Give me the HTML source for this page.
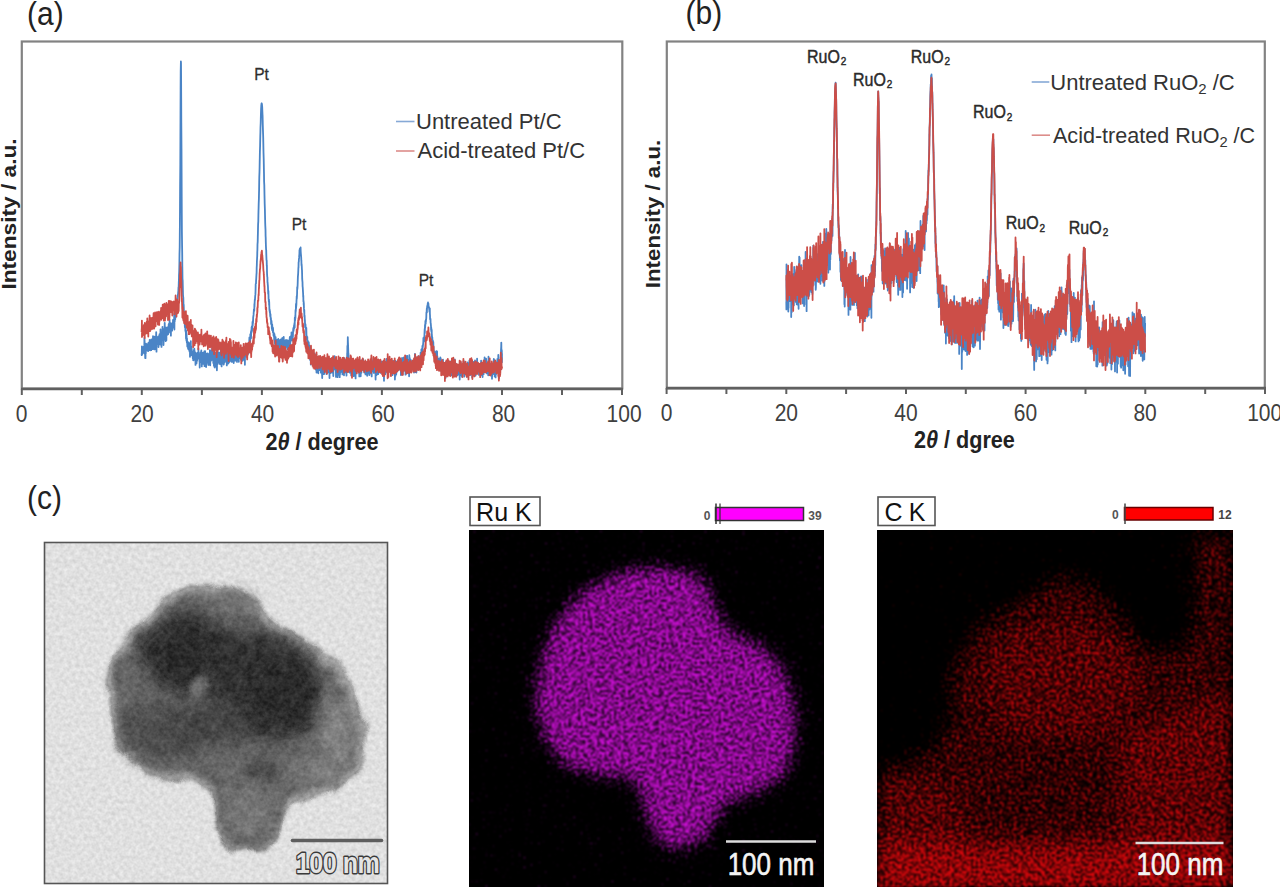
<!DOCTYPE html>
<html><head><meta charset="utf-8"><title>Figure</title>
<style>
html,body{margin:0;padding:0;background:#fff;width:1280px;height:887px;overflow:hidden}
svg{display:block}
text{font-family:"Liberation Sans",sans-serif}
</style></head><body>
<svg width="1280" height="887" viewBox="0 0 1280 887">
<defs>
  <filter id="soft" x="-5%" y="-5%" width="110%" height="110%"><feGaussianBlur stdDeviation="0.45"/></filter>
  <clipPath id="temclip"><rect x="44" y="542" width="344" height="342"/></clipPath>
  <filter id="b2" x="-20%" y="-20%" width="140%" height="140%"><feGaussianBlur stdDeviation="2"/></filter>
  <filter id="b4" x="-20%" y="-20%" width="140%" height="140%"><feGaussianBlur stdDeviation="4"/></filter>
  <filter id="b8" x="-40%" y="-40%" width="180%" height="180%"><feGaussianBlur stdDeviation="8"/></filter>
  <filter id="tdisp" filterUnits="userSpaceOnUse" x="44" y="542" width="344" height="342" color-interpolation-filters="sRGB">
    <feTurbulence type="fractalNoise" baseFrequency="0.035" numOctaves="3" seed="4" result="dn"/>
    <feDisplacementMap in="SourceGraphic" in2="dn" scale="11" xChannelSelector="R" yChannelSelector="G" result="dd"/>
    <feTurbulence type="fractalNoise" baseFrequency="0.09" numOctaves="2" seed="9" result="tx"/>
    <feColorMatrix in="tx" type="matrix" values="1 0 0 0 0  1 0 0 0 0  1 0 0 0 0  0 0 0 0 1" result="txg"/>
    <feComposite in="dd" in2="txg" operator="arithmetic" k1="0" k2="1" k3="0.14" k4="-0.07" result="m"/>
    <feComposite in="m" in2="dd" operator="in"/>
  </filter>
  <filter id="b3" x="-20%" y="-20%" width="140%" height="140%"><feGaussianBlur stdDeviation="3"/></filter>
  <filter id="b6" x="-30%" y="-30%" width="160%" height="160%"><feGaussianBlur stdDeviation="6"/></filter>
  <filter id="b10" x="-40%" y="-40%" width="180%" height="180%"><feGaussianBlur stdDeviation="10"/></filter>
  <filter id="temn" filterUnits="userSpaceOnUse" x="44" y="542" width="344" height="342" color-interpolation-filters="sRGB">
    <feTurbulence type="fractalNoise" baseFrequency="0.25" numOctaves="2" seed="7" result="n"/>
    <feColorMatrix in="n" type="matrix" values="1 0 0 0 0  1 0 0 0 0  1 0 0 0 0  0 0 0 0 1" result="ng0"/>
    <feGaussianBlur in="ng0" stdDeviation="0.7" result="ng"/>
    <feComposite in="SourceGraphic" in2="ng" operator="arithmetic" k1="0" k2="1" k3="0.16" k4="-0.08"/>
  </filter>
  <filter id="spkM" filterUnits="userSpaceOnUse" x="469" y="530" width="355" height="357" color-interpolation-filters="sRGB">
    <feGaussianBlur in="SourceGraphic" stdDeviation="9" result="d"/>
    <feTurbulence type="fractalNoise" baseFrequency="0.42" numOctaves="1" seed="11" result="t"/>
    <feColorMatrix in="t" type="matrix" values="0 0 0 0 1  0 0 0 0 1  0 0 0 0 1  1 0 0 0 0" result="tn"/>
    <feComposite in="d" in2="tn" operator="arithmetic" k1="0" k2="1.35" k3="3.8" k4="-2.65" result="c"/>
    <feColorMatrix in="c" type="matrix" values="0 0 0 0 0.88  0 0 0 0 0.07  0 0 0 0 0.92  0 0 0 1 0"/>
    <feGaussianBlur stdDeviation="0.85"/>
  </filter>
  <filter id="spkC" filterUnits="userSpaceOnUse" x="877" y="530" width="356" height="357" color-interpolation-filters="sRGB">
    <feGaussianBlur in="SourceGraphic" stdDeviation="11" result="d"/>
    <feTurbulence type="fractalNoise" baseFrequency="0.42" numOctaves="1" seed="23" result="t"/>
    <feColorMatrix in="t" type="matrix" values="0 0 0 0 1  0 0 0 0 1  0 0 0 0 1  1 0 0 0 0" result="tn"/>
    <feComposite in="d" in2="tn" operator="arithmetic" k1="0" k2="1.7" k3="4.5" k4="-3.28" result="c"/>
    <feColorMatrix in="c" type="matrix" values="0 0 0 0 0.94  0 0 0 0 0.03  0 0 0 0 0.05  0 0 0 1 0"/>
    <feGaussianBlur stdDeviation="0.85"/>
  </filter>
</defs>
<rect width="1280" height="887" fill="#fff"/>

<text transform="translate(27,25) scale(1.0,1.12)" font-size="30" fill="#222" text-anchor="start">(a)</text>
<rect x="21.8" y="41.5" width="600.5" height="347" fill="none" stroke="#828282" stroke-width="2.2"/>
<g stroke="#606060" stroke-width="2"><line x1="21.8" y1="389" x2="21.8" y2="395"/><line x1="81.8" y1="389" x2="81.8" y2="395"/><line x1="141.8" y1="389" x2="141.8" y2="395"/><line x1="201.9" y1="389" x2="201.9" y2="395"/><line x1="261.9" y1="389" x2="261.9" y2="395"/><line x1="321.9" y1="389" x2="321.9" y2="395"/><line x1="381.9" y1="389" x2="381.9" y2="395"/><line x1="441.9" y1="389" x2="441.9" y2="395"/><line x1="502.0" y1="389" x2="502.0" y2="395"/><line x1="562.0" y1="389" x2="562.0" y2="395"/><line x1="622.0" y1="389" x2="622.0" y2="395"/></g>
<line x1="21" y1="389" x2="623" y2="389" stroke="#606060" stroke-width="2.6"/>
<text transform="translate(21.6,422.3) scale(1.0,1.17)" font-size="21" fill="#404040" text-anchor="middle">0</text>
<text transform="translate(142.1,422.3) scale(1.0,1.17)" font-size="21" fill="#404040" text-anchor="middle">20</text>
<text transform="translate(262.6,422.3) scale(1.0,1.17)" font-size="21" fill="#404040" text-anchor="middle">40</text>
<text transform="translate(383.1,422.3) scale(1.0,1.17)" font-size="21" fill="#404040" text-anchor="middle">60</text>
<text transform="translate(503.6,422.3) scale(1.0,1.17)" font-size="21" fill="#404040" text-anchor="middle">80</text>
<text transform="translate(624.1,422.3) scale(1.0,1.17)" font-size="21" fill="#404040" text-anchor="middle">100</text>
<text transform="translate(322,449.5) scale(1.03,1.14)" font-size="21" fill="#222" text-anchor="middle" font-weight="bold">2<tspan font-style="italic">θ</tspan> / degree</text>
<text transform="translate(15.5,214) rotate(-90) scale(1.08,1)" font-size="21" font-weight="bold" fill="#222" text-anchor="middle">Intensity / a.u.</text>
<g fill="none" stroke-linejoin="round"><path d="M141.6,353.6 141.7,355.1 141.8,352.7 141.9,346.4 142.0,355.0 142.2,353.0 142.3,348.3 142.4,352.8 142.5,352.3 142.6,352.6 142.8,350.6 142.9,352.2 143.0,347.6 143.1,350.0 143.2,348.6 143.4,352.5 143.5,349.4 143.6,348.2 143.7,346.6 143.8,347.7 144.0,349.6 144.1,347.9 144.2,353.4 144.3,352.7 144.4,337.8 144.6,341.4 144.7,348.2 144.8,346.6 144.9,349.0 145.0,350.0 145.2,357.9 145.3,345.9 145.4,348.3 145.5,358.2 145.6,352.5 145.8,353.4 145.9,348.2 146.0,343.6 146.1,350.0 146.2,349.9 146.4,344.2 146.5,346.0 146.6,347.7 146.7,344.9 146.8,347.4 147.0,347.8 147.1,347.4 147.2,344.9 147.3,349.3 147.4,350.5 147.6,348.4 147.7,344.2 147.8,350.6 147.9,345.2 148.0,351.1 148.2,343.6 148.3,351.0 148.4,346.5 148.5,342.6 148.6,345.8 148.8,347.6 148.9,348.6 149.0,343.4 149.1,343.3 149.2,347.3 149.4,344.3 149.5,347.6 149.6,349.3 149.7,339.8 149.8,346.3 150.0,350.2 150.1,345.2 150.2,342.9 150.3,349.4 150.4,348.2 150.6,350.3 150.7,346.6 150.8,342.3 150.9,346.9 151.0,344.9 151.2,350.2 151.3,346.9 151.4,339.5 151.5,340.2 151.6,348.0 151.8,347.1 151.9,341.9 152.0,343.7 152.1,345.2 152.2,345.0 152.4,347.6 152.5,345.4 152.6,344.6 152.7,344.5 152.8,349.2 153.0,336.2 153.1,343.9 153.2,344.3 153.3,338.1 153.4,344.8 153.6,340.0 153.7,346.4 153.8,342.8 153.9,346.7 154.0,347.9 154.2,344.2 154.3,339.1 154.4,336.6 154.5,349.4 154.7,342.0 154.8,339.3 154.9,343.0 155.0,341.6 155.1,346.1 155.3,343.4 155.4,344.1 155.5,340.8 155.6,345.3 155.7,339.5 155.9,346.3 156.0,349.3 156.1,337.2 156.2,332.2 156.3,344.6 156.5,351.7 156.6,337.8 156.7,336.9 156.8,343.9 156.9,337.4 157.1,339.3 157.2,339.4 157.3,344.1 157.4,339.7 157.5,342.2 157.7,340.6 157.8,338.8 157.9,340.3 158.0,338.0 158.1,341.2 158.3,336.7 158.4,336.4 158.5,347.0 158.6,340.7 158.7,340.3 158.9,342.4 159.0,338.1 159.1,339.3 159.2,342.3 159.3,340.9 159.5,334.2 159.6,342.6 159.7,337.0 159.8,335.5 159.9,335.9 160.1,337.0 160.2,344.6 160.3,333.3 160.4,338.3 160.5,329.5 160.7,337.9 160.8,341.5 160.9,337.4 161.0,335.8 161.1,339.9 161.3,341.8 161.4,341.4 161.5,346.9 161.6,339.0 161.7,334.7 161.9,336.7 162.0,335.9 162.1,335.8 162.2,334.0 162.3,334.0 162.5,326.8 162.6,337.6 162.7,332.7 162.8,330.2 162.9,337.8 163.1,340.4 163.2,336.9 163.3,335.6 163.4,331.3 163.5,345.0 163.7,337.8 163.8,329.4 163.9,331.5 164.0,335.2 164.1,328.9 164.3,335.6 164.4,333.4 164.5,339.7 164.6,338.4 164.7,322.8 164.9,333.5 165.0,326.9 165.1,337.1 165.2,333.1 165.3,334.9 165.5,328.9 165.6,340.8 165.7,341.2 165.8,328.3 165.9,334.4 166.1,330.4 166.2,332.5 166.3,327.6 166.4,340.3 166.5,329.7 166.7,332.2 166.8,335.3 166.9,331.4 167.0,332.7 167.2,330.7 167.3,331.9 167.4,327.3 167.5,331.1 167.6,331.9 167.8,330.1 167.9,331.3 168.0,330.8 168.1,334.3 168.2,329.8 168.4,329.3 168.5,326.8 168.6,327.3 168.7,324.4 168.8,330.1 169.0,323.7 169.1,325.0 169.2,329.1 169.3,329.2 169.4,326.4 169.6,320.0 169.7,329.8 169.8,329.6 169.9,323.8 170.0,332.5 170.2,326.7 170.3,325.2 170.4,330.1 170.5,329.1 170.6,330.5 170.8,323.4 170.9,335.7 171.0,326.7 171.1,323.3 171.2,330.6 171.4,326.9 171.5,328.9 171.6,326.9 171.7,327.9 171.8,329.4 172.0,326.0 172.1,330.7 172.2,326.5 172.3,324.4 172.4,327.1 172.6,327.7 172.7,325.2 172.8,322.6 172.9,327.6 173.0,319.8 173.2,322.2 173.3,325.9 173.4,321.5 173.5,325.3 173.6,324.0 173.8,325.8 173.9,320.2 174.0,320.8 174.1,322.7 174.2,313.9 174.4,329.6 174.5,318.6 174.6,318.2 174.7,321.8 174.8,319.0 175.0,313.8 175.1,319.8 175.2,319.4 175.3,316.6 175.4,316.6 175.6,317.7 175.7,313.3 175.8,315.7 175.9,314.3 176.0,311.6 176.2,308.4 176.3,310.0 176.4,307.7 176.5,311.2 176.6,308.7 176.8,308.3 176.9,305.7 177.0,304.7 177.1,301.5 177.2,303.8 177.4,304.3 177.5,298.6 177.6,297.9 177.7,297.4 177.8,295.6 178.0,294.1 178.1,293.7 178.2,291.6 178.3,293.2 178.4,288.8 178.6,287.2 178.7,286.0 178.8,281.5 178.9,281.7 179.0,275.4 179.2,271.6 179.3,267.5 179.4,262.4 179.5,254.1 179.7,247.0 179.8,234.6 179.9,224.3 180.0,206.5 180.1,186.7 180.3,164.2 180.4,139.8 180.5,114.4 180.6,89.8 180.7,71.1 180.9,61.5 181.0,62.9 181.1,76.5 181.2,97.7 181.3,122.3 181.5,148.8 181.6,172.3 181.7,196.2 181.8,215.0 181.9,231.9 182.1,246.6 182.2,253.1 182.3,265.1 182.4,270.7 182.5,278.6 182.7,280.9 182.8,285.9 182.9,290.6 183.0,294.5 183.1,296.3 183.3,297.4 183.4,300.4 183.5,305.1 183.6,305.5 183.7,304.6 183.9,311.0 184.0,312.2 184.1,315.0 184.2,314.6 184.3,318.5 184.5,316.6 184.6,321.5 184.7,321.1 184.8,325.3 184.9,327.1 185.1,324.2 185.2,326.8 185.3,327.3 185.4,331.1 185.5,331.0 185.7,326.9 185.8,332.2 185.9,333.4 186.0,338.4 186.1,330.6 186.3,334.9 186.4,340.5 186.5,333.9 186.6,335.0 186.7,341.0 186.9,342.8 187.0,338.4 187.1,342.7 187.2,342.3 187.3,346.6 187.5,342.7 187.6,346.2 187.7,341.6 187.8,344.2 187.9,344.3 188.1,348.6 188.2,347.5 188.3,343.8 188.4,348.9 188.5,349.3 188.7,347.1 188.8,346.7 188.9,347.5 189.0,343.0 189.1,349.9 189.3,349.6 189.4,345.9 189.5,351.6 189.6,344.5 189.7,347.6 189.9,348.1 190.0,356.8 190.1,344.2 190.2,351.7 190.3,352.1 190.5,350.6 190.6,353.6 190.7,345.9 190.8,341.1 190.9,352.6 191.1,346.2 191.2,350.0 191.3,346.6 191.4,354.9 191.5,354.2 191.7,348.7 191.8,355.3 191.9,351.8 192.0,351.4 192.2,352.1 192.3,351.7 192.4,354.9 192.5,354.0 192.6,352.8 192.8,358.1 192.9,351.7 193.0,355.8 193.1,356.2 193.2,360.2 193.4,351.3 193.5,360.3 193.6,354.6 193.7,353.0 193.8,350.1 194.0,355.6 194.1,353.8 194.2,350.0 194.3,348.6 194.4,350.8 194.6,350.8 194.7,357.8 194.8,359.5 194.9,357.6 195.0,355.6 195.2,352.5 195.3,354.3 195.4,358.8 195.5,364.9 195.6,358.6 195.8,354.1 195.9,355.8 196.0,354.4 196.1,353.5 196.2,354.9 196.4,356.4 196.5,363.4 196.6,355.5 196.7,360.2 196.8,361.7 197.0,354.5 197.1,360.6 197.2,356.9 197.3,352.9 197.4,356.3 197.6,355.6 197.7,354.6 197.8,355.6 197.9,357.4 198.0,358.3 198.2,352.3 198.3,355.4 198.4,348.7 198.5,355.7 198.6,357.3 198.8,355.6 198.9,357.1 199.0,359.0 199.1,354.4 199.2,356.9 199.4,360.0 199.5,361.8 199.6,359.4 199.7,367.6 199.8,356.3 200.0,360.8 200.1,362.2 200.2,356.6 200.3,353.9 200.4,352.5 200.6,357.8 200.7,362.1 200.8,360.0 200.9,359.4 201.0,357.6 201.2,361.9 201.3,350.5 201.4,360.1 201.5,359.3 201.6,352.4 201.8,366.4 201.9,352.8 202.0,353.0 202.1,353.1 202.2,362.1 202.4,353.7 202.5,360.7 202.6,360.5 202.7,358.4 202.8,352.8 203.0,355.1 203.1,363.8 203.2,352.8 203.3,353.7 203.4,356.6 203.6,361.1 203.7,358.4 203.8,360.1 203.9,353.2 204.0,361.3 204.2,360.5 204.3,351.4 204.4,362.5 204.5,366.2 204.6,355.0 204.8,358.9 204.9,363.7 205.0,352.3 205.1,351.1 205.3,354.0 205.4,357.0 205.5,357.3 205.6,361.6 205.7,360.9 205.9,355.0 206.0,361.7 206.1,367.0 206.2,363.6 206.3,362.2 206.5,357.8 206.6,361.8 206.7,353.6 206.8,360.5 206.9,357.0 207.1,362.4 207.2,359.6 207.3,354.3 207.4,358.1 207.5,362.7 207.7,353.3 207.8,356.1 207.9,355.8 208.0,353.6 208.1,362.4 208.3,365.0 208.4,362.6 208.5,360.9 208.6,359.2 208.7,359.6 208.9,355.3 209.0,361.9 209.1,361.4 209.2,360.5 209.3,354.3 209.5,357.7 209.6,356.9 209.7,364.6 209.8,357.8 209.9,350.1 210.1,359.7 210.2,365.3 210.3,360.4 210.4,361.2 210.5,358.2 210.7,350.7 210.8,351.1 210.9,353.5 211.0,358.1 211.1,359.2 211.3,360.5 211.4,355.6 211.5,360.1 211.6,355.2 211.7,353.3 211.9,359.9 212.0,353.4 212.1,346.5 212.2,354.4 212.3,359.8 212.5,347.6 212.6,358.4 212.7,358.6 212.8,354.4 212.9,354.0 213.1,357.0 213.2,356.3 213.3,363.0 213.4,359.8 213.5,352.2 213.7,354.5 213.8,360.5 213.9,365.5 214.0,360.8 214.1,360.7 214.3,366.6 214.4,359.0 214.5,358.0 214.6,353.9 214.7,357.0 214.9,367.6 215.0,353.3 215.1,359.1 215.2,352.6 215.3,359.1 215.5,361.9 215.6,357.8 215.7,361.4 215.8,361.2 215.9,360.3 216.1,366.0 216.2,362.8 216.3,358.4 216.4,357.2 216.5,356.2 216.7,361.8 216.8,357.9 216.9,370.3 217.0,366.2 217.1,357.9 217.3,357.4 217.4,364.6 217.5,349.9 217.6,356.3 217.8,362.0 217.9,354.6 218.0,356.8 218.1,357.2 218.2,362.3 218.4,360.3 218.5,361.5 218.6,361.6 218.7,359.0 218.8,362.7 219.0,355.3 219.1,352.6 219.2,352.6 219.3,353.0 219.4,357.1 219.6,363.9 219.7,361.1 219.8,358.1 219.9,356.5 220.0,357.7 220.2,358.7 220.3,358.3 220.4,354.7 220.5,358.7 220.6,364.3 220.8,350.6 220.9,357.9 221.0,349.5 221.1,359.3 221.2,355.3 221.4,349.4 221.5,358.7 221.6,366.4 221.7,359.6 221.8,364.0 222.0,358.1 222.1,350.1 222.2,360.6 222.3,357.8 222.4,353.5 222.6,361.2 222.7,359.1 222.8,356.4 222.9,362.7 223.0,355.2 223.2,360.2 223.3,353.8 223.4,360.6 223.5,354.5 223.6,364.5 223.8,358.9 223.9,363.9 224.0,355.1 224.1,355.5 224.2,361.3 224.4,347.3 224.5,354.1 224.6,362.2 224.7,360.3 224.8,362.2 225.0,357.7 225.1,360.9 225.2,355.5 225.3,352.7 225.4,351.2 225.6,355.6 225.7,355.9 225.8,355.5 225.9,344.6 226.0,350.6 226.2,356.7 226.3,359.9 226.4,356.6 226.5,355.1 226.6,349.0 226.8,365.4 226.9,353.7 227.0,364.4 227.1,363.8 227.2,358.7 227.4,355.5 227.5,359.2 227.6,353.7 227.7,358.6 227.8,357.6 228.0,359.6 228.1,361.1 228.2,363.6 228.3,354.8 228.4,361.2 228.6,353.7 228.7,353.3 228.8,355.2 228.9,353.8 229.0,362.6 229.2,361.1 229.3,361.9 229.4,356.6 229.5,357.8 229.6,354.2 229.8,352.4 229.9,358.0 230.0,358.8 230.1,352.9 230.3,360.1 230.4,351.0 230.5,356.2 230.6,354.3 230.7,354.5 230.9,352.1 231.0,360.2 231.1,358.6 231.2,361.4 231.3,357.8 231.5,351.6 231.6,355.7 231.7,352.3 231.8,359.0 231.9,361.9 232.1,358.1 232.2,354.3 232.3,355.7 232.4,358.4 232.5,351.6 232.7,358.0 232.8,357.8 232.9,354.4 233.0,355.4 233.1,357.1 233.3,352.7 233.4,352.3 233.5,358.4 233.6,356.7 233.7,363.1 233.9,352.3 234.0,349.6 234.1,360.2 234.2,361.1 234.3,355.4 234.5,352.5 234.6,357.8 234.7,350.7 234.8,355.8 234.9,348.4 235.1,356.1 235.2,347.6 235.3,354.3 235.4,360.7 235.5,354.5 235.7,358.4 235.8,352.4 235.9,350.1 236.0,348.4 236.1,357.8 236.3,354.3 236.4,360.8 236.5,349.9 236.6,354.1 236.7,355.9 236.9,360.3 237.0,361.9 237.1,351.9 237.2,349.6 237.3,347.8 237.5,358.8 237.6,353.5 237.7,351.8 237.8,354.4 237.9,345.0 238.1,348.5 238.2,358.8 238.3,357.3 238.4,356.2 238.5,351.3 238.7,357.1 238.8,361.8 238.9,350.3 239.0,354.4 239.1,352.8 239.3,355.7 239.4,355.2 239.5,355.0 239.6,351.4 239.7,354.6 239.9,351.3 240.0,353.1 240.1,353.2 240.2,355.3 240.3,351.2 240.5,353.0 240.6,358.5 240.7,355.1 240.8,355.5 240.9,359.7 241.1,357.7 241.2,356.5 241.3,357.6 241.4,352.0 241.5,357.7 241.7,360.7 241.8,358.4 241.9,350.9 242.0,357.9 242.1,353.1 242.3,356.1 242.4,357.5 242.5,352.7 242.6,360.8 242.8,356.6 242.9,358.7 243.0,358.0 243.1,360.2 243.2,359.3 243.4,350.1 243.5,355.4 243.6,347.7 243.7,353.7 243.8,357.0 244.0,357.1 244.1,359.0 244.2,352.8 244.3,354.8 244.4,354.2 244.6,357.1 244.7,358.3 244.8,351.8 244.9,364.8 245.0,353.0 245.2,352.1 245.3,354.6 245.4,355.6 245.5,354.7 245.6,350.6 245.8,356.5 245.9,351.8 246.0,356.0 246.1,355.6 246.2,347.5 246.4,349.0 246.5,349.6 246.6,353.0 246.7,352.4 246.8,353.3 247.0,349.7 247.1,352.7 247.2,355.1 247.3,346.2 247.4,349.7 247.6,350.8 247.7,349.2 247.8,348.6 247.9,354.0 248.0,352.2 248.2,351.2 248.3,345.9 248.4,353.6 248.5,347.3 248.6,343.9 248.8,343.8 248.9,342.7 249.0,349.0 249.1,343.6 249.2,343.3 249.4,337.5 249.5,345.1 249.6,340.0 249.7,339.0 249.8,342.9 250.0,338.7 250.1,342.1 250.2,342.0 250.3,334.3 250.4,337.7 250.6,333.9 250.7,336.5 250.8,338.3 250.9,331.8 251.0,338.3 251.2,332.9 251.3,330.1 251.4,331.8 251.5,332.8 251.6,327.2 251.8,329.9 251.9,326.4 252.0,330.9 252.1,327.9 252.2,325.8 252.4,327.8 252.5,321.9 252.6,322.7 252.7,325.8 252.8,321.2 253.0,323.3 253.1,319.8 253.2,317.0 253.3,316.6 253.4,316.1 253.6,314.4 253.7,312.5 253.8,311.3 253.9,309.3 254.0,311.3 254.2,310.7 254.3,309.8 254.4,304.0 254.5,306.6 254.6,303.6 254.8,299.5 254.9,300.4 255.0,299.8 255.1,297.5 255.2,296.0 255.4,294.4 255.5,292.4 255.6,289.1 255.7,284.0 255.9,283.9 256.0,283.5 256.1,280.1 256.2,279.3 256.3,277.2 256.5,273.7 256.6,273.2 256.7,266.9 256.8,266.2 256.9,261.7 257.1,258.0 257.2,256.4 257.3,251.8 257.4,250.0 257.5,244.3 257.7,241.9 257.8,237.0 257.9,233.6 258.0,229.0 258.1,224.3 258.3,221.4 258.4,215.3 258.5,211.1 258.6,208.1 258.7,203.5 258.9,198.6 259.0,193.3 259.1,189.8 259.2,182.2 259.3,177.1 259.5,171.7 259.6,167.8 259.7,162.1 259.8,157.2 259.9,151.7 260.1,145.7 260.2,140.5 260.3,135.4 260.4,132.6 260.5,127.3 260.7,122.9 260.8,118.4 260.9,114.9 261.0,111.7 261.1,108.9 261.3,105.3 261.4,104.8 261.5,103.6 261.6,103.4 261.7,103.3 261.9,104.1 262.0,104.6 262.1,106.6 262.2,106.7 262.3,109.9 262.5,114.3 262.6,116.0 262.7,120.2 262.8,125.0 262.9,128.4 263.1,134.0 263.2,137.5 263.3,142.2 263.4,147.6 263.5,152.5 263.7,158.8 263.8,163.9 263.9,169.6 264.0,173.8 264.1,181.5 264.3,185.0 264.4,190.0 264.5,195.3 264.6,199.6 264.7,204.1 264.9,209.5 265.0,214.6 265.1,218.7 265.2,223.1 265.3,225.8 265.5,229.6 265.6,236.0 265.7,237.6 265.8,242.0 265.9,245.5 266.1,249.6 266.2,250.1 266.3,254.2 266.4,257.3 266.5,260.1 266.7,260.4 266.8,266.0 266.9,265.2 267.0,271.9 267.1,274.8 267.3,277.2 267.4,277.3 267.5,282.6 267.6,282.2 267.7,283.8 267.9,285.8 268.0,287.6 268.1,290.9 268.2,293.6 268.4,291.0 268.5,295.0 268.6,298.9 268.7,299.3 268.8,301.4 269.0,299.6 269.1,304.9 269.2,301.7 269.3,306.0 269.4,309.2 269.6,311.2 269.7,309.9 269.8,312.2 269.9,310.8 270.0,311.9 270.2,316.1 270.3,315.0 270.4,315.5 270.5,314.2 270.6,317.7 270.8,319.6 270.9,317.8 271.0,319.2 271.1,324.1 271.2,322.4 271.4,322.2 271.5,320.9 271.6,322.6 271.7,324.3 271.8,328.2 272.0,324.3 272.1,330.1 272.2,324.5 272.3,326.9 272.4,329.8 272.6,328.1 272.7,327.4 272.8,330.5 272.9,332.1 273.0,327.9 273.2,331.4 273.3,332.3 273.4,332.1 273.5,335.4 273.6,332.4 273.8,333.2 273.9,334.1 274.0,336.6 274.1,334.6 274.2,339.5 274.4,334.0 274.5,339.7 274.6,335.0 274.7,337.5 274.8,339.0 275.0,344.0 275.1,341.0 275.2,337.5 275.3,342.4 275.4,338.5 275.6,337.1 275.7,340.7 275.8,340.0 275.9,342.9 276.0,339.4 276.2,342.0 276.3,342.7 276.4,342.0 276.5,341.6 276.6,339.9 276.8,345.1 276.9,342.1 277.0,343.7 277.1,341.5 277.2,342.7 277.4,340.0 277.5,343.1 277.6,345.0 277.7,343.5 277.8,345.7 278.0,344.1 278.1,347.3 278.2,342.4 278.3,338.9 278.4,344.5 278.6,343.1 278.7,341.3 278.8,346.7 278.9,346.0 279.0,346.6 279.2,344.1 279.3,346.1 279.4,346.9 279.5,351.3 279.6,343.6 279.8,345.6 279.9,346.8 280.0,340.1 280.1,340.7 280.2,352.1 280.4,339.6 280.5,347.1 280.6,342.4 280.7,343.0 280.9,339.4 281.0,342.8 281.1,347.9 281.2,341.7 281.3,347.7 281.5,347.3 281.6,352.7 281.7,343.9 281.8,349.3 281.9,347.5 282.1,343.0 282.2,338.1 282.3,348.0 282.4,338.2 282.5,342.0 282.7,346.1 282.8,347.3 282.9,340.6 283.0,343.9 283.1,343.0 283.3,348.2 283.4,352.8 283.5,339.5 283.6,348.7 283.7,336.8 283.9,346.2 284.0,342.5 284.1,352.2 284.2,345.7 284.3,342.3 284.5,343.0 284.6,342.8 284.7,345.5 284.8,345.1 284.9,348.1 285.1,351.1 285.2,348.1 285.3,341.7 285.4,340.3 285.5,343.2 285.7,348.6 285.8,343.8 285.9,342.5 286.0,345.4 286.1,339.9 286.3,340.9 286.4,346.4 286.5,343.4 286.6,343.4 286.7,346.0 286.9,343.1 287.0,343.3 287.1,343.7 287.2,346.9 287.3,345.0 287.5,340.3 287.6,342.9 287.7,345.5 287.8,349.6 287.9,340.5 288.1,345.1 288.2,343.9 288.3,347.3 288.4,345.9 288.5,349.3 288.7,345.7 288.8,342.7 288.9,342.6 289.0,345.1 289.1,345.4 289.3,351.2 289.4,348.9 289.5,340.3 289.6,344.1 289.7,338.4 289.9,337.0 290.0,343.5 290.1,342.8 290.2,337.1 290.3,344.5 290.5,337.0 290.6,336.4 290.7,341.2 290.8,339.4 290.9,338.4 291.1,338.5 291.2,339.0 291.3,337.8 291.4,336.9 291.5,332.3 291.7,333.4 291.8,338.0 291.9,335.3 292.0,337.9 292.1,339.1 292.3,335.1 292.4,336.0 292.5,340.6 292.6,336.1 292.7,337.7 292.9,336.5 293.0,334.0 293.1,331.3 293.2,329.4 293.4,328.0 293.5,331.0 293.6,330.3 293.7,328.2 293.8,329.8 294.0,325.7 294.1,328.5 294.2,325.4 294.3,324.6 294.4,323.9 294.6,322.7 294.7,327.4 294.8,317.7 294.9,320.4 295.0,321.2 295.2,318.8 295.3,315.5 295.4,318.4 295.5,311.3 295.6,309.8 295.8,311.9 295.9,306.9 296.0,303.8 296.1,308.2 296.2,306.3 296.4,304.5 296.5,300.6 296.6,299.7 296.7,296.2 296.8,298.6 297.0,295.2 297.1,293.0 297.2,287.2 297.3,289.4 297.4,288.3 297.6,285.7 297.7,283.0 297.8,279.4 297.9,276.6 298.0,275.6 298.2,272.8 298.3,270.2 298.4,267.5 298.5,267.7 298.6,262.4 298.8,261.8 298.9,259.1 299.0,259.0 299.1,257.9 299.2,255.8 299.4,253.8 299.5,250.1 299.6,252.7 299.7,250.2 299.8,248.9 300.0,248.7 300.1,248.4 300.2,249.2 300.3,249.4 300.4,249.2 300.6,247.5 300.7,251.3 300.8,252.7 300.9,254.1 301.0,255.1 301.2,257.5 301.3,260.2 301.4,260.9 301.5,265.2 301.6,263.8 301.8,266.7 301.9,269.3 302.0,269.9 302.1,273.8 302.2,278.9 302.4,281.3 302.5,281.9 302.6,286.5 302.7,286.9 302.8,288.2 303.0,291.9 303.1,293.5 303.2,297.0 303.3,295.6 303.4,301.6 303.6,300.9 303.7,304.9 303.8,302.7 303.9,306.1 304.0,308.9 304.2,312.1 304.3,309.9 304.4,316.8 304.5,315.9 304.6,315.6 304.8,320.7 304.9,319.9 305.0,323.4 305.1,327.3 305.2,325.5 305.4,324.1 305.5,324.9 305.6,328.1 305.7,328.4 305.8,327.1 306.0,328.5 306.1,333.1 306.2,337.7 306.3,327.8 306.5,336.1 306.6,335.3 306.7,338.8 306.8,339.8 306.9,338.6 307.1,337.2 307.2,336.9 307.3,337.0 307.4,345.4 307.5,342.3 307.7,342.0 307.8,342.9 307.9,341.0 308.0,346.3 308.1,349.6 308.3,349.0 308.4,342.1 308.5,350.8 308.6,345.2 308.7,342.2 308.9,344.5 309.0,345.7 309.1,349.5 309.2,346.5 309.3,345.6 309.5,350.3 309.6,356.5 309.7,348.8 309.8,352.3 309.9,351.6 310.1,359.9 310.2,346.3 310.3,355.8 310.4,348.8 310.5,352.0 310.7,354.2 310.8,364.6 310.9,353.1 311.0,349.9 311.1,359.6 311.3,353.4 311.4,354.9 311.5,356.0 311.6,356.6 311.7,355.4 311.9,357.3 312.0,357.8 312.1,359.7 312.2,355.9 312.3,355.1 312.5,353.6 312.6,359.3 312.7,356.9 312.8,360.3 312.9,360.0 313.1,363.9 313.2,358.8 313.3,361.8 313.4,355.3 313.5,356.1 313.7,357.9 313.8,355.9 313.9,363.1 314.0,356.2 314.1,362.2 314.3,353.4 314.4,358.0 314.5,361.1 314.6,361.6 314.7,356.3 314.9,363.0 315.0,365.3 315.1,364.5 315.2,360.7 315.3,361.7 315.5,359.2 315.6,366.3 315.7,369.5 315.8,361.9 315.9,357.8 316.1,364.9 316.2,366.7 316.3,354.0 316.4,364.9 316.5,372.5 316.7,368.0 316.8,366.6 316.9,365.3 317.0,368.1 317.1,360.3 317.3,360.6 317.4,366.1 317.5,361.8 317.6,366.4 317.7,358.9 317.9,369.4 318.0,370.5 318.1,367.2 318.2,367.2 318.3,373.3 318.5,362.7 318.6,363.7 318.7,361.9 318.8,364.5 319.0,362.3 319.1,366.8 319.2,363.6 319.3,359.7 319.4,359.1 319.6,370.0 319.7,364.8 319.8,364.2 319.9,365.1 320.0,365.3 320.2,368.8 320.3,368.4 320.4,365.4 320.5,364.5 320.6,363.0 320.8,362.3 320.9,372.7 321.0,364.1 321.1,359.3 321.2,363.9 321.4,364.2 321.5,369.5 321.6,364.5 321.7,369.9 321.8,369.0 322.0,372.6 322.1,375.5 322.2,378.0 322.3,371.8 322.4,362.0 322.6,365.2 322.7,367.4 322.8,374.2 322.9,368.7 323.0,371.1 323.2,365.6 323.3,368.6 323.4,369.5 323.5,365.2 323.6,371.7 323.8,372.7 323.9,367.3 324.0,371.4 324.1,374.0 324.2,368.0 324.4,367.7 324.5,365.8 324.6,364.3 324.7,367.5 324.8,365.9 325.0,366.0 325.1,363.2 325.2,359.8 325.3,361.0 325.4,366.5 325.6,360.5 325.7,362.7 325.8,371.8 325.9,370.7 326.0,363.5 326.2,370.1 326.3,365.2 326.4,374.1 326.5,365.3 326.6,368.4 326.8,373.7 326.9,364.9 327.0,372.5 327.1,364.7 327.2,369.5 327.4,367.8 327.5,369.1 327.6,369.8 327.7,369.0 327.8,364.8 328.0,371.6 328.1,370.2 328.2,372.4 328.3,371.3 328.4,360.1 328.6,370.7 328.7,370.9 328.8,363.1 328.9,369.5 329.0,371.0 329.2,363.3 329.3,360.0 329.4,364.6 329.5,378.1 329.6,368.9 329.8,363.7 329.9,367.3 330.0,364.9 330.1,367.7 330.2,369.2 330.4,358.7 330.5,369.3 330.6,373.2 330.7,366.4 330.8,365.4 331.0,371.4 331.1,362.0 331.2,361.8 331.3,361.6 331.5,367.0 331.6,369.4 331.7,367.9 331.8,370.3 331.9,371.8 332.1,370.8 332.2,365.3 332.3,366.5 332.4,372.6 332.5,363.8 332.7,366.4 332.8,364.7 332.9,364.7 333.0,360.8 333.1,360.6 333.3,376.1 333.4,368.9 333.5,363.2 333.6,366.7 333.7,370.5 333.9,366.7 334.0,369.6 334.1,365.1 334.2,367.1 334.3,367.6 334.5,365.7 334.6,356.2 334.7,367.0 334.8,368.6 334.9,368.6 335.1,362.1 335.2,367.3 335.3,367.2 335.4,361.4 335.5,358.8 335.7,369.5 335.8,364.4 335.9,372.0 336.0,376.9 336.1,366.5 336.3,365.4 336.4,368.3 336.5,371.1 336.6,364.2 336.7,374.3 336.9,372.9 337.0,371.0 337.1,366.8 337.2,372.7 337.3,372.7 337.5,364.4 337.6,377.2 337.7,367.7 337.8,371.4 337.9,367.7 338.1,371.8 338.2,374.9 338.3,366.8 338.4,363.1 338.5,368.1 338.7,363.0 338.8,364.3 338.9,366.7 339.0,365.7 339.1,371.2 339.3,362.3 339.4,367.8 339.5,365.0 339.6,372.5 339.7,377.2 339.9,368.2 340.0,374.2 340.1,364.9 340.2,360.5 340.3,361.8 340.5,361.5 340.6,363.3 340.7,366.5 340.8,372.2 340.9,371.0 341.1,370.3 341.2,367.1 341.3,365.7 341.4,369.1 341.5,369.3 341.7,369.3 341.8,369.8 341.9,367.4 342.0,359.6 342.1,362.7 342.3,363.9 342.4,374.4 342.5,366.3 342.6,370.7 342.7,373.8 342.9,369.6 343.0,366.0 343.1,365.9 343.2,363.5 343.3,368.1 343.5,370.8 343.6,369.2 343.7,369.8 343.8,369.9 344.0,375.3 344.1,364.6 344.2,368.4 344.3,370.9 344.4,372.5 344.6,358.2 344.7,366.3 344.8,367.9 344.9,364.7 345.0,372.4 345.2,370.3 345.3,367.7 345.4,363.5 345.5,365.3 345.6,366.4 345.8,371.4 345.9,364.7 346.0,361.1 346.1,363.7 346.2,365.5 346.4,373.0 346.5,375.6 346.6,363.7 346.7,367.8 346.8,368.5 347.0,366.4 347.1,360.2 347.2,353.2 347.3,352.9 347.4,345.8 347.6,348.4 347.7,346.3 347.8,337.2 347.9,341.0 348.0,343.3 348.2,348.8 348.3,352.3 348.4,354.4 348.5,353.5 348.6,357.1 348.8,365.4 348.9,361.0 349.0,364.1 349.1,372.0 349.2,367.9 349.4,361.7 349.5,366.1 349.6,369.7 349.7,366.8 349.8,372.7 350.0,372.7 350.1,364.7 350.2,365.5 350.3,367.5 350.4,362.8 350.6,369.1 350.7,366.5 350.8,371.0 350.9,366.1 351.0,365.0 351.2,375.5 351.3,364.5 351.4,365.2 351.5,364.1 351.6,366.2 351.8,363.7 351.9,366.9 352.0,365.1 352.1,366.3 352.2,369.4 352.4,370.7 352.5,369.4 352.6,364.3 352.7,369.6 352.8,367.3 353.0,367.6 353.1,361.9 353.2,372.7 353.3,369.2 353.4,376.2 353.6,371.4 353.7,364.0 353.8,362.6 353.9,371.8 354.0,363.1 354.2,369.7 354.3,365.7 354.4,375.8 354.5,367.7 354.6,373.4 354.8,372.5 354.9,365.5 355.0,365.7 355.1,372.2 355.2,366.1 355.4,363.5 355.5,372.3 355.6,378.4 355.7,367.3 355.8,372.7 356.0,367.2 356.1,372.9 356.2,366.0 356.3,372.0 356.4,368.4 356.6,366.6 356.7,368.5 356.8,365.3 356.9,363.3 357.1,363.2 357.2,367.3 357.3,363.6 357.4,369.2 357.5,368.9 357.7,368.6 357.8,364.0 357.9,367.1 358.0,366.6 358.1,371.8 358.3,363.4 358.4,366.3 358.5,367.4 358.6,368.4 358.7,365.9 358.9,366.2 359.0,373.0 359.1,366.2 359.2,372.2 359.3,376.4 359.5,373.0 359.6,360.3 359.7,370.7 359.8,369.0 359.9,368.9 360.1,360.4 360.2,369.6 360.3,362.3 360.4,371.7 360.5,370.2 360.7,376.3 360.8,365.6 360.9,360.8 361.0,370.9 361.1,370.4 361.3,365.4 361.4,372.8 361.5,369.7 361.6,360.5 361.7,364.4 361.9,364.4 362.0,365.5 362.1,367.1 362.2,363.7 362.3,366.3 362.5,369.7 362.6,366.6 362.7,365.5 362.8,365.7 362.9,366.5 363.1,359.1 363.2,367.3 363.3,362.9 363.4,367.5 363.5,361.7 363.7,370.6 363.8,367.5 363.9,361.4 364.0,367.1 364.1,362.5 364.3,372.6 364.4,367.6 364.5,363.0 364.6,367.4 364.7,366.3 364.9,371.7 365.0,369.1 365.1,370.1 365.2,362.6 365.3,369.7 365.5,374.4 365.6,369.4 365.7,366.7 365.8,367.2 365.9,362.9 366.1,367.9 366.2,363.4 366.3,367.9 366.4,366.4 366.5,364.8 366.7,370.8 366.8,362.2 366.9,368.1 367.0,362.7 367.1,375.4 367.3,375.8 367.4,370.5 367.5,374.1 367.6,368.9 367.7,368.7 367.9,365.4 368.0,363.9 368.1,367.4 368.2,365.4 368.3,367.0 368.5,372.1 368.6,369.8 368.7,362.9 368.8,368.7 368.9,366.5 369.1,368.4 369.2,364.5 369.3,373.3 369.4,375.0 369.6,363.1 369.7,369.3 369.8,368.6 369.9,362.3 370.0,366.4 370.2,371.7 370.3,369.4 370.4,373.4 370.5,362.2 370.6,363.8 370.8,367.4 370.9,368.2 371.0,368.4 371.1,366.4 371.2,365.6 371.4,365.8 371.5,370.7 371.6,359.0 371.7,376.4 371.8,366.6 372.0,363.5 372.1,371.2 372.2,362.9 372.3,369.4 372.4,366.0 372.6,368.8 372.7,368.6 372.8,370.5 372.9,363.8 373.0,365.3 373.2,366.4 373.3,360.8 373.4,369.2 373.5,369.0 373.6,362.2 373.8,372.9 373.9,372.6 374.0,361.6 374.1,368.6 374.2,372.3 374.4,369.7 374.5,363.2 374.6,361.0 374.7,366.2 374.8,365.7 375.0,368.1 375.1,367.2 375.2,369.5 375.3,365.5 375.4,367.0 375.6,379.5 375.7,366.4 375.8,369.6 375.9,367.7 376.0,368.0 376.2,363.6 376.3,369.3 376.4,366.2 376.5,370.5 376.6,375.1 376.8,367.8 376.9,369.8 377.0,362.8 377.1,367.2 377.2,373.3 377.4,365.9 377.5,364.4 377.6,367.7 377.7,366.0 377.8,364.9 378.0,364.3 378.1,374.2 378.2,363.9 378.3,364.9 378.4,364.5 378.6,372.1 378.7,366.3 378.8,372.7 378.9,368.1 379.0,367.4 379.2,361.5 379.3,371.7 379.4,369.2 379.5,369.1 379.6,367.3 379.8,365.4 379.9,362.1 380.0,371.6 380.1,369.9 380.2,366.6 380.4,365.4 380.5,367.8 380.6,366.9 380.7,372.9 380.8,369.3 381.0,363.0 381.1,361.3 381.2,364.6 381.3,362.6 381.4,367.3 381.6,369.4 381.7,370.5 381.8,370.0 381.9,367.8 382.1,371.1 382.2,364.8 382.3,367.2 382.4,370.4 382.5,368.1 382.7,362.6 382.8,362.6 382.9,361.4 383.0,374.7 383.1,361.9 383.3,368.4 383.4,376.0 383.5,372.0 383.6,372.8 383.7,365.9 383.9,371.9 384.0,380.8 384.1,367.5 384.2,368.5 384.3,365.9 384.5,368.1 384.6,368.0 384.7,372.0 384.8,363.3 384.9,362.0 385.1,368.6 385.2,369.5 385.3,374.2 385.4,372.4 385.5,366.9 385.7,371.3 385.8,372.8 385.9,369.5 386.0,366.9 386.1,370.4 386.3,366.1 386.4,358.9 386.5,371.2 386.6,360.8 386.7,365.3 386.9,365.0 387.0,364.7 387.1,364.9 387.2,361.6 387.3,370.6 387.5,368.7 387.6,368.3 387.7,372.4 387.8,372.9 387.9,373.7 388.1,375.4 388.2,368.9 388.3,361.3 388.4,368.1 388.5,367.0 388.7,367.0 388.8,364.0 388.9,363.0 389.0,370.6 389.1,371.0 389.3,362.9 389.4,369.7 389.5,366.7 389.6,367.1 389.7,371.5 389.9,367.7 390.0,365.1 390.1,367.8 390.2,360.0 390.3,365.8 390.5,365.8 390.6,361.2 390.7,367.5 390.8,368.6 390.9,365.1 391.1,366.7 391.2,370.0 391.3,371.5 391.4,364.8 391.5,369.2 391.7,371.2 391.8,367.1 391.9,363.8 392.0,364.6 392.1,365.7 392.3,362.5 392.4,375.2 392.5,366.0 392.6,369.5 392.7,368.1 392.9,369.1 393.0,364.6 393.1,361.0 393.2,372.6 393.3,365.5 393.5,366.3 393.6,367.8 393.7,372.2 393.8,370.9 393.9,372.6 394.1,371.3 394.2,368.5 394.3,369.4 394.4,365.5 394.6,360.6 394.7,367.8 394.8,364.9 394.9,379.6 395.0,375.6 395.2,373.4 395.3,366.3 395.4,376.1 395.5,360.9 395.6,362.3 395.8,362.8 395.9,362.1 396.0,367.2 396.1,367.0 396.2,374.5 396.4,370.9 396.5,371.6 396.6,368.7 396.7,366.1 396.8,364.3 397.0,361.7 397.1,364.5 397.2,366.1 397.3,371.4 397.4,362.3 397.6,363.3 397.7,368.5 397.8,363.6 397.9,367.8 398.0,365.1 398.2,362.8 398.3,360.2 398.4,365.5 398.5,363.5 398.6,363.9 398.8,364.3 398.9,367.4 399.0,367.4 399.1,359.7 399.2,365.6 399.4,367.3 399.5,369.7 399.6,368.5 399.7,365.8 399.8,361.0 400.0,362.4 400.1,368.6 400.2,362.1 400.3,368.7 400.4,369.8 400.6,361.3 400.7,367.7 400.8,365.3 400.9,375.0 401.0,370.7 401.2,365.3 401.3,368.2 401.4,362.7 401.5,365.3 401.6,366.8 401.8,365.3 401.9,365.4 402.0,360.7 402.1,357.8 402.2,364.4 402.4,361.9 402.5,363.4 402.6,374.7 402.7,371.3 402.8,366.3 403.0,361.1 403.1,361.2 403.2,367.5 403.3,369.6 403.4,364.5 403.6,365.8 403.7,365.7 403.8,369.5 403.9,357.5 404.0,366.2 404.2,368.1 404.3,370.5 404.4,368.7 404.5,362.7 404.6,364.6 404.8,361.3 404.9,368.8 405.0,369.0 405.1,369.7 405.2,364.1 405.4,364.4 405.5,374.7 405.6,369.1 405.7,374.0 405.8,368.5 406.0,361.1 406.1,369.9 406.2,370.7 406.3,364.0 406.4,358.0 406.6,368.5 406.7,365.3 406.8,367.3 406.9,355.8 407.0,368.2 407.2,355.9 407.3,363.7 407.4,371.3 407.5,360.5 407.7,359.7 407.8,364.0 407.9,373.0 408.0,372.1 408.1,362.9 408.3,368.4 408.4,366.3 408.5,365.7 408.6,367.4 408.7,362.6 408.9,368.0 409.0,369.4 409.1,376.3 409.2,369.2 409.3,355.2 409.5,359.3 409.6,366.0 409.7,365.5 409.8,358.1 409.9,364.7 410.1,364.4 410.2,365.8 410.3,365.5 410.4,369.1 410.5,370.8 410.7,366.7 410.8,359.8 410.9,361.1 411.0,362.3 411.1,364.5 411.3,362.7 411.4,363.8 411.5,361.9 411.6,370.1 411.7,369.8 411.9,370.0 412.0,367.4 412.1,369.5 412.2,363.6 412.3,363.8 412.5,364.3 412.6,367.8 412.7,365.6 412.8,360.7 412.9,366.5 413.1,368.4 413.2,366.6 413.3,364.0 413.4,367.5 413.5,365.2 413.7,365.4 413.8,366.2 413.9,368.3 414.0,372.6 414.1,371.2 414.3,367.4 414.4,363.5 414.5,363.6 414.6,363.2 414.7,369.6 414.9,354.0 415.0,366.0 415.1,356.9 415.2,364.5 415.3,370.1 415.5,362.6 415.6,356.7 415.7,370.9 415.8,372.2 415.9,368.2 416.1,371.1 416.2,363.5 416.3,370.0 416.4,372.5 416.5,368.7 416.7,367.2 416.8,370.3 416.9,369.1 417.0,361.1 417.1,369.7 417.3,366.7 417.4,364.2 417.5,367.7 417.6,366.9 417.7,366.3 417.9,361.9 418.0,366.2 418.1,359.3 418.2,362.5 418.3,356.3 418.5,356.2 418.6,363.7 418.7,361.3 418.8,361.7 418.9,362.8 419.1,362.1 419.2,358.3 419.3,361.5 419.4,360.7 419.5,358.7 419.7,360.1 419.8,359.2 419.9,357.7 420.0,358.0 420.2,359.8 420.3,365.9 420.4,355.9 420.5,360.2 420.6,352.7 420.8,362.4 420.9,355.3 421.0,356.0 421.1,359.7 421.2,357.5 421.4,349.3 421.5,356.0 421.6,353.2 421.7,355.6 421.8,353.5 422.0,354.6 422.1,353.1 422.2,351.0 422.3,354.2 422.4,345.8 422.6,347.9 422.7,346.0 422.8,347.3 422.9,345.6 423.0,345.1 423.2,343.1 423.3,342.0 423.4,338.0 423.5,341.5 423.6,341.9 423.8,338.8 423.9,338.1 424.0,337.5 424.1,341.6 424.2,336.9 424.4,336.2 424.5,333.0 424.6,331.1 424.7,328.9 424.8,332.9 425.0,324.8 425.1,328.0 425.2,326.2 425.3,324.7 425.4,321.3 425.6,320.6 425.7,323.8 425.8,320.0 425.9,321.8 426.0,320.1 426.2,318.8 426.3,317.2 426.4,312.5 426.5,312.6 426.6,312.9 426.8,308.5 426.9,312.4 427.0,307.8 427.1,308.1 427.2,306.0 427.4,307.4 427.5,305.4 427.6,305.6 427.7,303.6 427.8,306.9 428.0,302.5 428.1,305.6 428.2,305.3 428.3,305.4 428.4,303.6 428.6,307.2 428.7,307.5 428.8,306.5 428.9,307.5 429.0,307.4 429.2,309.5 429.3,307.8 429.4,311.2 429.5,311.8 429.6,309.6 429.8,308.3 429.9,314.0 430.0,315.1 430.1,319.2 430.2,318.4 430.4,319.1 430.5,319.0 430.6,322.9 430.7,323.3 430.8,323.7 431.0,326.2 431.1,329.9 431.2,328.8 431.3,327.8 431.4,331.7 431.6,329.7 431.7,329.8 431.8,335.9 431.9,334.5 432.0,339.6 432.2,338.6 432.3,337.2 432.4,340.7 432.5,344.4 432.7,341.2 432.8,340.4 432.9,342.5 433.0,342.6 433.1,342.1 433.3,342.0 433.4,346.7 433.5,349.9 433.6,346.6 433.7,350.4 433.9,351.9 434.0,355.2 434.1,351.0 434.2,352.0 434.3,354.9 434.5,353.8 434.6,355.2 434.7,358.7 434.8,353.0 434.9,355.6 435.1,352.2 435.2,356.0 435.3,355.0 435.4,354.8 435.5,357.1 435.7,357.1 435.8,360.2 435.9,361.8 436.0,353.3 436.1,362.3 436.3,351.1 436.4,360.4 436.5,362.8 436.6,358.9 436.7,360.7 436.9,359.8 437.0,366.2 437.1,351.4 437.2,359.9 437.3,355.9 437.5,363.3 437.6,368.0 437.7,366.7 437.8,364.6 437.9,362.9 438.1,358.9 438.2,367.3 438.3,364.7 438.4,359.4 438.5,358.6 438.7,361.9 438.8,368.1 438.9,369.0 439.0,370.0 439.1,361.5 439.3,362.6 439.4,369.2 439.5,364.1 439.6,367.0 439.7,359.0 439.9,362.5 440.0,363.4 440.1,362.1 440.2,362.1 440.3,357.5 440.5,370.7 440.6,364.6 440.7,358.2 440.8,369.0 440.9,364.6 441.1,367.8 441.2,364.7 441.3,361.7 441.4,361.9 441.5,367.7 441.7,369.6 441.8,369.1 441.9,369.1 442.0,371.5 442.1,368.0 442.3,370.3 442.4,370.6 442.5,366.4 442.6,365.1 442.7,363.6 442.9,359.9 443.0,359.6 443.1,371.6 443.2,366.3 443.3,364.7 443.5,372.8 443.6,370.5 443.7,366.9 443.8,370.4 443.9,365.9 444.1,368.5 444.2,374.5 444.3,371.6 444.4,366.8 444.5,371.6 444.7,372.9 444.8,368.3 444.9,366.1 445.0,374.9 445.2,367.4 445.3,363.6 445.4,368.7 445.5,378.1 445.6,371.5 445.8,373.4 445.9,361.8 446.0,367.4 446.1,374.2 446.2,367.7 446.4,373.8 446.5,370.0 446.6,369.0 446.7,373.9 446.8,365.1 447.0,365.6 447.1,368.7 447.2,369.4 447.3,360.7 447.4,372.3 447.6,368.1 447.7,367.4 447.8,370.1 447.9,365.9 448.0,372.5 448.2,368.0 448.3,371.4 448.4,364.9 448.5,366.0 448.6,368.8 448.8,363.4 448.9,365.7 449.0,368.3 449.1,372.4 449.2,371.1 449.4,372.1 449.5,369.7 449.6,372.5 449.7,374.1 449.8,369.5 450.0,370.6 450.1,371.3 450.2,361.5 450.3,368.9 450.4,369.8 450.6,371.6 450.7,367.1 450.8,372.9 450.9,366.2 451.0,368.2 451.2,375.4 451.3,364.7 451.4,369.6 451.5,369.3 451.6,368.1 451.8,366.7 451.9,370.6 452.0,364.2 452.1,362.8 452.2,369.3 452.4,362.6 452.5,369.6 452.6,368.6 452.7,366.6 452.8,367.5 453.0,368.4 453.1,371.1 453.2,367.1 453.3,368.4 453.4,363.6 453.6,367.7 453.7,361.1 453.8,368.4 453.9,366.0 454.0,375.8 454.2,373.4 454.3,366.8 454.4,371.4 454.5,369.2 454.6,364.3 454.8,359.5 454.9,373.9 455.0,370.8 455.1,362.2 455.2,372.5 455.4,373.6 455.5,367.3 455.6,373.3 455.7,363.4 455.8,369.1 456.0,369.0 456.1,371.6 456.2,369.9 456.3,368.1 456.4,368.9 456.6,364.3 456.7,373.1 456.8,366.3 456.9,370.9 457.0,367.3 457.2,367.1 457.3,371.3 457.4,370.9 457.5,375.3 457.6,373.7 457.8,367.6 457.9,372.3 458.0,370.9 458.1,366.5 458.3,365.2 458.4,370.7 458.5,368.6 458.6,364.9 458.7,370.0 458.9,371.0 459.0,370.7 459.1,364.8 459.2,366.8 459.3,375.0 459.5,366.6 459.6,368.8 459.7,379.6 459.8,371.9 459.9,369.0 460.1,362.7 460.2,371.1 460.3,364.4 460.4,369.0 460.5,365.1 460.7,362.3 460.8,375.3 460.9,368.9 461.0,373.0 461.1,372.0 461.3,366.9 461.4,370.5 461.5,368.3 461.6,373.8 461.7,371.6 461.9,368.5 462.0,376.8 462.1,372.2 462.2,371.5 462.3,367.2 462.5,371.9 462.6,364.2 462.7,372.2 462.8,366.8 462.9,370.3 463.1,368.7 463.2,370.4 463.3,371.2 463.4,368.9 463.5,368.2 463.7,361.8 463.8,361.1 463.9,374.0 464.0,371.1 464.1,362.8 464.3,376.6 464.4,366.8 464.5,371.2 464.6,370.8 464.7,369.4 464.9,371.4 465.0,363.5 465.1,369.2 465.2,368.2 465.3,370.2 465.5,368.8 465.6,367.1 465.7,366.7 465.8,372.1 465.9,364.6 466.1,369.1 466.2,369.0 466.3,367.3 466.4,368.8 466.5,369.7 466.7,366.7 466.8,370.8 466.9,376.9 467.0,364.9 467.1,367.1 467.3,365.6 467.4,376.0 467.5,362.5 467.6,368.3 467.7,372.5 467.9,366.3 468.0,369.4 468.1,367.1 468.2,365.1 468.3,369.5 468.5,371.9 468.6,367.9 468.7,369.2 468.8,371.7 468.9,374.0 469.1,363.7 469.2,370.4 469.3,365.2 469.4,360.3 469.5,365.6 469.7,371.2 469.8,369.5 469.9,363.6 470.0,375.2 470.1,370.7 470.3,368.6 470.4,365.9 470.5,368.9 470.6,365.0 470.8,371.7 470.9,368.7 471.0,368.7 471.1,364.8 471.2,361.2 471.4,369.0 471.5,364.5 471.6,368.4 471.7,368.9 471.8,366.9 472.0,374.0 472.1,364.5 472.2,377.5 472.3,368.3 472.4,373.3 472.6,373.5 472.7,364.8 472.8,365.5 472.9,371.6 473.0,368.2 473.2,368.3 473.3,361.9 473.4,363.6 473.5,372.3 473.6,375.2 473.8,366.9 473.9,366.4 474.0,370.7 474.1,371.7 474.2,371.6 474.4,367.8 474.5,362.0 474.6,375.8 474.7,367.1 474.8,374.2 475.0,360.5 475.1,370.5 475.2,367.0 475.3,364.5 475.4,373.0 475.6,375.6 475.7,368.6 475.8,374.2 475.9,366.9 476.0,368.9 476.2,370.1 476.3,369.0 476.4,372.5 476.5,363.9 476.6,372.5 476.8,372.8 476.9,367.6 477.0,363.4 477.1,358.6 477.2,367.9 477.4,366.2 477.5,368.6 477.6,363.3 477.7,367.5 477.8,367.6 478.0,367.5 478.1,368.8 478.2,368.6 478.3,371.7 478.4,365.2 478.6,371.5 478.7,370.1 478.8,368.4 478.9,365.4 479.0,374.9 479.2,370.3 479.3,367.5 479.4,368.9 479.5,368.8 479.6,366.8 479.8,363.8 479.9,370.5 480.0,369.1 480.1,368.9 480.2,374.3 480.4,365.0 480.5,366.7 480.6,371.1 480.7,373.1 480.8,372.0 481.0,372.0 481.1,360.6 481.2,370.8 481.3,370.3 481.4,371.1 481.6,366.1 481.7,370.9 481.8,372.7 481.9,375.1 482.0,369.6 482.2,364.3 482.3,369.6 482.4,371.5 482.5,371.5 482.6,377.0 482.8,368.2 482.9,365.0 483.0,365.8 483.1,370.7 483.3,365.6 483.4,364.4 483.5,365.4 483.6,374.2 483.7,370.7 483.9,367.9 484.0,372.5 484.1,370.7 484.2,364.0 484.3,370.3 484.5,367.0 484.6,357.3 484.7,360.9 484.8,366.5 484.9,367.8 485.1,365.6 485.2,363.6 485.3,369.7 485.4,362.2 485.5,371.2 485.7,368.7 485.8,369.0 485.9,365.7 486.0,371.7 486.1,358.7 486.3,364.2 486.4,370.0 486.5,365.0 486.6,373.4 486.7,368.9 486.9,364.9 487.0,372.5 487.1,367.6 487.2,370.5 487.3,366.1 487.5,366.5 487.6,371.7 487.7,368.4 487.8,364.8 487.9,364.9 488.1,371.3 488.2,375.3 488.3,365.2 488.4,371.2 488.5,356.7 488.7,362.4 488.8,370.4 488.9,373.3 489.0,367.2 489.1,368.7 489.3,367.8 489.4,371.6 489.5,364.1 489.6,370.2 489.7,366.1 489.9,367.0 490.0,368.5 490.1,367.6 490.2,364.4 490.3,366.0 490.5,363.8 490.6,373.1 490.7,370.0 490.8,366.2 490.9,374.3 491.1,373.0 491.2,369.9 491.3,366.3 491.4,370.1 491.5,371.6 491.7,374.7 491.8,368.3 491.9,367.4 492.0,378.8 492.1,375.0 492.3,370.4 492.4,364.7 492.5,370.0 492.6,372.4 492.7,370.7 492.9,371.3 493.0,368.3 493.1,372.5 493.2,365.9 493.3,365.8 493.5,365.2 493.6,364.6 493.7,374.0 493.8,358.9 493.9,366.1 494.1,361.5 494.2,360.7 494.3,366.3 494.4,359.9 494.5,366.2 494.7,376.4 494.8,367.8 494.9,369.5 495.0,365.1 495.1,370.4 495.3,362.9 495.4,369.8 495.5,368.8 495.6,377.4 495.8,369.6 495.9,367.8 496.0,367.5 496.1,364.7 496.2,371.8 496.4,373.9 496.5,366.6 496.6,370.4 496.7,366.3 496.8,369.0 497.0,368.5 497.1,361.3 497.2,364.0 497.3,370.6 497.4,359.0 497.6,366.4 497.7,364.6 497.8,363.2 497.9,366.4 498.0,367.2 498.2,367.9 498.3,355.0 498.4,371.8 498.5,363.5 498.6,369.1 498.8,365.0 498.9,363.5 499.0,365.2 499.1,378.0 499.2,372.3 499.4,363.6 499.5,365.7 499.6,369.0 499.7,366.8 499.8,365.3 500.0,364.6 500.1,360.8 500.2,367.3 500.3,367.4 500.4,370.1 500.6,356.9 500.7,358.6 500.8,354.3 500.9,355.5 501.0,349.9 501.2,346.7 501.3,342.6 501.4,350.0 501.5,349.2 501.6,353.3 501.8,350.4 501.9,362.3 502.0,353.6" stroke="#4a84c6" stroke-width="1.8"/><path d="M141.6,332.1 141.7,328.7 141.8,329.0 141.9,320.6 142.0,337.0 142.2,334.7 142.3,329.2 142.4,334.4 142.5,332.6 142.6,329.3 142.8,335.6 142.9,330.6 143.0,330.7 143.1,327.4 143.2,331.6 143.4,329.4 143.5,331.5 143.6,326.7 143.7,329.1 143.8,325.1 144.0,332.7 144.1,329.7 144.2,330.3 144.3,331.0 144.4,325.3 144.6,333.0 144.7,338.0 144.8,323.0 144.9,323.3 145.0,324.1 145.2,333.9 145.3,330.5 145.4,333.9 145.5,333.0 145.6,331.7 145.8,331.2 145.9,329.0 146.0,332.2 146.1,324.5 146.2,326.7 146.4,328.2 146.5,333.4 146.6,322.7 146.7,321.7 146.8,323.2 147.0,329.3 147.1,325.1 147.2,331.1 147.3,318.3 147.4,330.5 147.6,330.0 147.7,321.2 147.8,326.4 147.9,330.2 148.0,326.6 148.2,330.4 148.3,336.5 148.4,328.9 148.5,326.0 148.6,325.3 148.8,331.0 148.9,327.0 149.0,326.8 149.1,326.2 149.2,327.9 149.4,321.1 149.5,318.9 149.6,315.5 149.7,329.6 149.8,325.4 150.0,331.2 150.1,324.5 150.2,321.8 150.3,325.7 150.4,322.5 150.6,318.1 150.7,319.9 150.8,329.7 150.9,324.6 151.0,324.0 151.2,321.4 151.3,320.0 151.4,325.5 151.5,320.1 151.6,318.5 151.8,321.0 151.9,317.9 152.0,322.7 152.1,326.3 152.2,319.1 152.4,328.9 152.5,320.2 152.6,323.4 152.7,319.9 152.8,321.2 153.0,321.8 153.1,319.4 153.2,317.7 153.3,317.9 153.4,317.2 153.6,313.2 153.7,318.9 153.8,321.9 153.9,323.8 154.0,322.4 154.2,328.6 154.3,320.2 154.4,318.0 154.5,327.3 154.7,316.0 154.8,323.2 154.9,315.9 155.0,321.4 155.1,312.4 155.3,323.5 155.4,318.9 155.5,315.3 155.6,326.2 155.7,322.0 155.9,319.0 156.0,315.7 156.1,318.6 156.2,317.4 156.3,320.8 156.5,320.5 156.6,315.5 156.7,316.1 156.8,316.1 156.9,312.2 157.1,315.1 157.2,316.5 157.3,320.0 157.4,321.4 157.5,312.2 157.7,317.9 157.8,313.6 157.9,324.5 158.0,315.6 158.1,318.0 158.3,313.1 158.4,314.0 158.5,317.7 158.6,316.5 158.7,318.6 158.9,311.7 159.0,320.6 159.1,314.1 159.2,324.9 159.3,316.4 159.5,321.6 159.6,312.6 159.7,319.7 159.8,314.4 159.9,315.4 160.1,316.9 160.2,315.4 160.3,317.1 160.4,318.3 160.5,318.1 160.7,314.8 160.8,310.8 160.9,313.3 161.0,315.9 161.1,308.0 161.3,319.8 161.4,315.5 161.5,315.4 161.6,318.8 161.7,317.3 161.9,315.2 162.0,310.3 162.1,314.8 162.2,314.7 162.3,309.2 162.5,316.9 162.6,315.0 162.7,304.7 162.8,314.0 162.9,308.2 163.1,318.1 163.2,317.6 163.3,310.6 163.4,311.1 163.5,314.5 163.7,312.6 163.8,320.5 163.9,316.8 164.0,311.3 164.1,314.6 164.3,303.6 164.4,313.3 164.5,315.4 164.6,311.3 164.7,309.2 164.9,314.9 165.0,320.5 165.1,314.3 165.2,309.0 165.3,318.2 165.5,304.5 165.6,313.2 165.7,309.7 165.8,315.2 165.9,307.5 166.1,316.3 166.2,311.9 166.3,303.6 166.4,302.8 166.5,308.1 166.7,313.9 166.8,309.5 166.9,308.5 167.0,307.8 167.2,311.1 167.3,309.9 167.4,309.4 167.5,304.8 167.6,313.5 167.8,315.0 167.9,305.2 168.0,320.0 168.1,313.7 168.2,309.7 168.4,303.6 168.5,312.7 168.6,311.4 168.7,305.6 168.8,300.8 169.0,312.0 169.1,304.8 169.2,305.6 169.3,319.5 169.4,317.8 169.6,313.6 169.7,307.5 169.8,312.5 169.9,300.8 170.0,310.0 170.2,306.8 170.3,304.0 170.4,303.0 170.5,311.5 170.6,309.1 170.8,309.7 170.9,312.2 171.0,304.9 171.1,303.2 171.2,301.3 171.4,307.8 171.5,312.3 171.6,308.4 171.7,311.4 171.8,304.8 172.0,307.7 172.1,306.2 172.2,303.1 172.3,315.6 172.4,311.6 172.6,305.7 172.7,305.5 172.8,308.1 172.9,302.0 173.0,310.2 173.2,302.5 173.3,306.6 173.4,303.7 173.5,305.0 173.6,302.0 173.8,301.5 173.9,304.2 174.0,306.1 174.1,307.2 174.2,308.4 174.4,314.1 174.5,311.0 174.6,306.6 174.7,309.6 174.8,303.7 175.0,311.6 175.1,308.4 175.2,301.2 175.3,309.2 175.4,308.9 175.6,295.4 175.7,302.8 175.8,303.9 175.9,298.0 176.0,301.4 176.2,302.4 176.3,307.9 176.4,306.4 176.5,316.5 176.6,304.6 176.8,310.9 176.9,306.7 177.0,307.2 177.1,303.2 177.2,299.9 177.4,303.9 177.5,310.2 177.6,313.3 177.7,309.3 177.8,308.4 178.0,302.5 178.1,312.8 178.2,311.2 178.3,303.4 178.4,304.5 178.6,301.7 178.7,311.1 178.8,305.0 178.9,302.3 179.0,303.3 179.2,301.8 179.3,297.5 179.4,291.5 179.5,288.6 179.7,284.3 179.8,286.7 179.9,287.3 180.0,274.1 180.1,274.3 180.3,271.0 180.4,265.2 180.5,265.8 180.6,262.5 180.7,267.7 180.9,266.8 181.0,271.5 181.1,277.7 181.2,280.0 181.3,280.8 181.5,288.3 181.6,295.9 181.7,296.8 181.8,301.2 181.9,298.4 182.1,304.8 182.2,309.2 182.3,308.7 182.4,317.4 182.5,310.5 182.7,307.7 182.8,307.2 182.9,318.0 183.0,313.9 183.1,318.9 183.3,315.8 183.4,320.4 183.5,320.1 183.6,313.2 183.7,316.6 183.9,321.0 184.0,311.7 184.1,322.8 184.2,323.0 184.3,321.3 184.5,318.2 184.6,321.1 184.7,314.9 184.8,320.1 184.9,317.9 185.1,320.7 185.2,318.9 185.3,321.0 185.4,324.1 185.5,314.2 185.7,323.2 185.8,312.1 185.9,311.2 186.0,320.0 186.1,321.1 186.3,322.7 186.4,315.2 186.5,321.5 186.6,322.8 186.7,327.7 186.9,321.0 187.0,322.5 187.1,316.5 187.2,319.4 187.3,318.5 187.5,322.4 187.6,315.7 187.7,318.1 187.8,324.6 187.9,330.4 188.1,325.4 188.2,325.9 188.3,324.4 188.4,330.7 188.5,328.6 188.7,334.1 188.8,328.0 188.9,323.4 189.0,324.7 189.1,322.9 189.3,322.1 189.4,331.7 189.5,330.1 189.6,322.6 189.7,334.0 189.9,327.8 190.0,323.9 190.1,329.6 190.2,328.8 190.3,326.1 190.5,321.6 190.6,329.8 190.7,331.2 190.8,319.8 190.9,332.4 191.1,332.6 191.2,328.3 191.3,331.0 191.4,329.7 191.5,328.0 191.7,329.9 191.8,336.4 191.9,325.2 192.0,331.4 192.2,331.6 192.3,328.3 192.4,329.1 192.5,325.4 192.6,328.3 192.8,331.7 192.9,334.6 193.0,330.4 193.1,347.2 193.2,333.7 193.4,336.4 193.5,335.5 193.6,334.9 193.7,340.8 193.8,333.2 194.0,340.2 194.1,338.8 194.2,330.9 194.3,338.3 194.4,331.3 194.6,345.3 194.7,333.6 194.8,331.8 194.9,328.6 195.0,330.6 195.2,334.5 195.3,333.9 195.4,333.4 195.5,335.0 195.6,336.2 195.8,343.1 195.9,330.4 196.0,334.9 196.1,333.4 196.2,331.6 196.4,332.4 196.5,334.8 196.6,341.2 196.7,337.8 196.8,336.3 197.0,340.7 197.1,338.7 197.2,336.8 197.3,338.5 197.4,333.9 197.6,339.4 197.7,338.4 197.8,335.0 197.9,332.4 198.0,343.4 198.2,337.8 198.3,349.3 198.4,335.3 198.5,341.1 198.6,336.3 198.8,338.2 198.9,340.9 199.0,334.7 199.1,337.2 199.2,338.2 199.4,339.3 199.5,341.7 199.6,344.7 199.7,343.9 199.8,341.4 200.0,338.9 200.1,335.6 200.2,336.4 200.3,336.7 200.4,340.9 200.6,337.3 200.7,334.3 200.8,341.4 200.9,335.5 201.0,335.6 201.2,337.9 201.3,341.3 201.4,329.6 201.5,335.2 201.6,340.6 201.8,338.3 201.9,336.3 202.0,337.4 202.1,344.4 202.2,336.9 202.4,341.5 202.5,342.2 202.6,338.4 202.7,342.0 202.8,338.7 203.0,338.3 203.1,336.5 203.2,344.1 203.3,338.9 203.4,337.6 203.6,335.3 203.7,346.3 203.8,342.5 203.9,338.4 204.0,336.7 204.2,334.6 204.3,341.8 204.4,342.5 204.5,336.2 204.6,345.4 204.8,344.1 204.9,337.3 205.0,337.5 205.1,338.1 205.3,340.1 205.4,338.4 205.5,333.4 205.6,345.7 205.7,340.8 205.9,345.1 206.0,344.6 206.1,339.0 206.2,342.0 206.3,343.4 206.5,343.8 206.6,340.1 206.7,337.5 206.8,340.9 206.9,336.8 207.1,337.1 207.2,331.3 207.3,339.1 207.4,334.2 207.5,337.4 207.7,338.8 207.8,341.5 207.9,349.0 208.0,343.0 208.1,336.5 208.3,342.4 208.4,339.2 208.5,344.4 208.6,339.6 208.7,338.6 208.9,338.9 209.0,339.2 209.1,335.5 209.2,340.1 209.3,341.9 209.5,347.0 209.6,341.4 209.7,341.0 209.8,343.9 209.9,343.3 210.1,347.4 210.2,343.3 210.3,340.7 210.4,345.8 210.5,346.9 210.7,340.1 210.8,342.8 210.9,335.6 211.0,341.0 211.1,339.4 211.3,342.4 211.4,341.4 211.5,341.8 211.6,341.8 211.7,345.0 211.9,344.3 212.0,340.9 212.1,338.2 212.2,348.8 212.3,350.5 212.5,343.0 212.6,346.6 212.7,337.8 212.8,337.5 212.9,342.2 213.1,348.6 213.2,339.1 213.3,340.6 213.4,349.7 213.5,336.3 213.7,346.1 213.8,346.0 213.9,343.5 214.0,344.8 214.1,354.2 214.3,340.0 214.4,343.1 214.5,343.9 214.6,342.7 214.7,339.4 214.9,349.9 215.0,345.1 215.1,338.1 215.2,341.7 215.3,346.6 215.5,346.3 215.6,339.3 215.7,344.9 215.8,345.7 215.9,345.3 216.1,346.3 216.2,336.9 216.3,351.7 216.4,345.2 216.5,352.5 216.7,357.1 216.8,345.7 216.9,341.0 217.0,349.5 217.1,344.9 217.3,344.6 217.4,341.4 217.5,351.6 217.6,342.7 217.8,339.2 217.9,343.1 218.0,340.4 218.1,344.7 218.2,342.4 218.4,339.8 218.5,347.0 218.6,341.9 218.7,347.7 218.8,349.4 219.0,343.5 219.1,342.8 219.2,346.2 219.3,348.3 219.4,344.6 219.6,345.1 219.7,345.1 219.8,345.9 219.9,347.2 220.0,342.4 220.2,343.7 220.3,345.7 220.4,342.9 220.5,346.5 220.6,349.1 220.8,346.6 220.9,344.9 221.0,343.9 221.1,354.0 221.2,351.1 221.4,342.8 221.5,344.4 221.6,355.4 221.7,353.4 221.8,348.4 222.0,353.0 222.1,342.0 222.2,347.8 222.3,349.9 222.4,339.7 222.6,343.9 222.7,349.3 222.8,351.0 222.9,344.1 223.0,347.6 223.2,352.5 223.3,344.6 223.4,341.3 223.5,347.5 223.6,346.0 223.8,353.0 223.9,348.4 224.0,344.9 224.1,357.8 224.2,345.9 224.4,348.9 224.5,349.7 224.6,349.7 224.7,348.3 224.8,350.2 225.0,347.4 225.1,342.3 225.2,347.2 225.3,347.2 225.4,348.3 225.6,349.3 225.7,345.7 225.8,353.3 225.9,353.9 226.0,340.2 226.2,349.1 226.3,345.8 226.4,337.6 226.5,350.6 226.6,347.3 226.8,347.9 226.9,345.6 227.0,351.8 227.1,351.9 227.2,348.0 227.4,348.6 227.5,344.9 227.6,346.8 227.7,344.1 227.8,348.0 228.0,345.8 228.1,349.9 228.2,352.9 228.3,352.0 228.4,355.2 228.6,361.0 228.7,342.0 228.8,349.4 228.9,348.0 229.0,348.1 229.2,343.0 229.3,348.6 229.4,347.6 229.5,346.2 229.6,348.1 229.8,346.1 229.9,338.8 230.0,353.1 230.1,347.5 230.3,344.5 230.4,349.3 230.5,345.4 230.6,339.8 230.7,352.4 230.9,341.9 231.0,348.3 231.1,350.5 231.2,354.9 231.3,354.9 231.5,351.1 231.6,347.3 231.7,348.8 231.8,355.3 231.9,357.1 232.1,352.7 232.2,347.7 232.3,354.5 232.4,348.1 232.5,347.9 232.7,347.4 232.8,351.2 232.9,350.2 233.0,353.7 233.1,354.4 233.3,351.9 233.4,340.9 233.5,343.3 233.6,350.4 233.7,349.2 233.9,357.8 234.0,349.5 234.1,348.9 234.2,353.0 234.3,353.9 234.5,349.0 234.6,351.9 234.7,345.6 234.8,346.0 234.9,354.4 235.1,344.7 235.2,353.5 235.3,353.2 235.4,353.8 235.5,354.3 235.7,352.4 235.8,342.5 235.9,346.4 236.0,348.2 236.1,353.8 236.3,345.9 236.4,347.9 236.5,349.4 236.6,355.7 236.7,345.4 236.9,346.3 237.0,354.3 237.1,342.9 237.2,352.3 237.3,350.0 237.5,345.4 237.6,349.2 237.7,346.8 237.8,351.7 237.9,352.5 238.1,357.1 238.2,350.5 238.3,351.0 238.4,348.8 238.5,350.6 238.7,354.3 238.8,342.5 238.9,352.7 239.0,347.8 239.1,350.2 239.3,350.4 239.4,352.8 239.5,350.8 239.6,348.9 239.7,351.6 239.9,350.8 240.0,351.0 240.1,353.1 240.2,356.3 240.3,353.4 240.5,353.4 240.6,347.8 240.7,352.6 240.8,345.2 240.9,355.6 241.1,348.3 241.2,356.3 241.3,363.4 241.4,349.8 241.5,355.8 241.7,352.7 241.8,349.3 241.9,348.7 242.0,354.1 242.1,357.6 242.3,353.9 242.4,347.6 242.5,348.8 242.6,351.7 242.8,357.7 242.9,353.8 243.0,352.8 243.1,355.5 243.2,349.3 243.4,349.9 243.5,349.7 243.6,343.8 243.7,351.9 243.8,352.5 244.0,354.4 244.1,346.4 244.2,347.7 244.3,354.1 244.4,351.3 244.6,355.6 244.7,347.2 244.8,350.9 244.9,347.0 245.0,351.2 245.2,348.2 245.3,352.2 245.4,354.2 245.5,351.7 245.6,343.4 245.8,353.9 245.9,351.6 246.0,346.3 246.1,346.2 246.2,349.4 246.4,351.6 246.5,347.6 246.6,343.6 246.7,350.0 246.8,349.2 247.0,358.1 247.1,344.9 247.2,359.4 247.3,356.2 247.4,350.8 247.6,355.2 247.7,349.7 247.8,352.8 247.9,347.0 248.0,349.2 248.2,345.4 248.3,342.9 248.4,348.1 248.5,347.5 248.6,351.1 248.8,352.6 248.9,347.9 249.0,348.5 249.1,349.6 249.2,342.9 249.4,349.2 249.5,348.7 249.6,348.4 249.7,344.1 249.8,341.1 250.0,346.1 250.1,348.5 250.2,350.8 250.3,351.0 250.4,352.7 250.6,349.7 250.7,352.2 250.8,348.8 250.9,350.9 251.0,352.3 251.2,357.1 251.3,348.8 251.4,344.2 251.5,352.0 251.6,344.7 251.8,347.2 251.9,346.1 252.0,343.5 252.1,349.7 252.2,347.6 252.4,344.3 252.5,345.6 252.6,343.8 252.7,346.1 252.8,342.5 253.0,341.6 253.1,340.5 253.2,340.1 253.3,341.6 253.4,337.0 253.6,338.7 253.7,339.8 253.8,343.6 253.9,339.1 254.0,328.7 254.2,334.2 254.3,334.3 254.4,335.1 254.5,337.6 254.6,334.8 254.8,326.8 254.9,332.6 255.0,331.3 255.1,331.1 255.2,332.6 255.4,326.1 255.5,330.7 255.6,323.7 255.7,326.5 255.9,326.1 256.0,329.4 256.1,322.1 256.2,319.0 256.3,322.5 256.5,318.5 256.6,321.8 256.7,316.1 256.8,314.6 256.9,317.3 257.1,313.8 257.2,314.1 257.3,308.0 257.4,312.2 257.5,307.0 257.7,307.8 257.8,303.2 257.9,300.6 258.0,301.4 258.1,300.7 258.3,300.9 258.4,297.2 258.5,295.7 258.6,294.0 258.7,295.6 258.9,287.7 259.0,288.6 259.1,284.8 259.2,283.2 259.3,280.3 259.5,280.1 259.6,274.7 259.7,272.6 259.8,272.2 259.9,269.1 260.1,269.3 260.2,267.6 260.3,264.0 260.4,264.2 260.5,261.2 260.7,260.2 260.8,258.7 260.9,259.7 261.0,256.7 261.1,254.7 261.3,254.1 261.4,255.6 261.5,251.9 261.6,253.0 261.7,253.0 261.9,250.7 262.0,252.9 262.1,255.1 262.2,255.1 262.3,255.1 262.5,257.9 262.6,258.9 262.7,261.9 262.8,260.5 262.9,262.3 263.1,264.5 263.2,266.0 263.3,268.2 263.4,269.9 263.5,271.1 263.7,271.9 263.8,275.0 263.9,275.7 264.0,278.1 264.1,280.5 264.3,283.8 264.4,286.5 264.5,285.6 264.6,289.8 264.7,292.4 264.9,292.7 265.0,292.3 265.1,293.7 265.2,300.1 265.3,302.2 265.5,302.6 265.6,301.9 265.7,308.1 265.8,309.4 265.9,308.5 266.1,309.9 266.2,307.7 266.3,314.3 266.4,311.2 266.5,316.8 266.7,318.1 266.8,318.0 266.9,321.9 267.0,319.3 267.1,322.2 267.3,323.7 267.4,323.3 267.5,323.0 267.6,327.3 267.7,326.9 267.9,326.5 268.0,327.1 268.1,328.4 268.2,334.2 268.4,329.9 268.5,329.8 268.6,327.9 268.7,328.2 268.8,327.5 269.0,333.9 269.1,334.2 269.2,332.0 269.3,331.2 269.4,334.8 269.6,334.7 269.7,333.2 269.8,337.9 269.9,337.7 270.0,337.4 270.2,340.4 270.3,337.5 270.4,343.6 270.5,337.2 270.6,341.7 270.8,343.2 270.9,341.0 271.0,342.9 271.1,338.6 271.2,337.9 271.4,342.3 271.5,341.5 271.6,345.4 271.7,343.9 271.8,346.2 272.0,345.3 272.1,345.1 272.2,345.5 272.3,343.8 272.4,343.5 272.6,351.8 272.7,340.3 272.8,345.8 272.9,350.5 273.0,349.3 273.2,353.1 273.3,350.5 273.4,345.4 273.5,348.5 273.6,345.2 273.8,352.2 273.9,353.5 274.0,347.9 274.1,351.8 274.2,348.5 274.4,345.8 274.5,349.4 274.6,347.2 274.7,350.9 274.8,353.0 275.0,354.1 275.1,356.5 275.2,350.6 275.3,352.3 275.4,352.0 275.6,352.6 275.7,340.7 275.8,349.1 275.9,354.5 276.0,347.9 276.2,352.9 276.3,355.6 276.4,346.0 276.5,351.7 276.6,352.6 276.8,351.9 276.9,346.1 277.0,353.0 277.1,350.1 277.2,354.6 277.4,354.2 277.5,350.9 277.6,353.5 277.7,350.1 277.8,349.9 278.0,346.0 278.1,351.4 278.2,355.7 278.3,353.5 278.4,353.6 278.6,351.6 278.7,352.6 278.8,357.5 278.9,348.7 279.0,361.5 279.2,353.3 279.3,361.6 279.4,358.3 279.5,352.0 279.6,356.5 279.8,355.2 279.9,356.0 280.0,357.5 280.1,352.7 280.2,352.2 280.4,352.6 280.5,348.8 280.6,352.6 280.7,354.0 280.9,354.1 281.0,354.1 281.1,351.7 281.2,356.4 281.3,345.9 281.5,352.2 281.6,352.6 281.7,357.6 281.8,356.6 281.9,357.2 282.1,354.5 282.2,358.6 282.3,351.7 282.4,356.0 282.5,347.5 282.7,361.6 282.8,361.2 282.9,353.0 283.0,351.5 283.1,346.4 283.3,348.8 283.4,354.5 283.5,353.8 283.6,348.7 283.7,351.9 283.9,351.7 284.0,356.4 284.1,357.6 284.2,354.9 284.3,355.6 284.5,355.3 284.6,347.2 284.7,355.4 284.8,354.6 284.9,357.4 285.1,347.1 285.2,357.5 285.3,352.1 285.4,356.4 285.5,359.8 285.7,349.5 285.8,349.8 285.9,358.1 286.0,350.5 286.1,351.2 286.3,356.8 286.4,353.8 286.5,357.0 286.6,355.8 286.7,355.0 286.9,358.0 287.0,362.8 287.1,354.1 287.2,360.6 287.3,359.6 287.5,355.5 287.6,356.7 287.7,351.5 287.8,352.8 287.9,355.1 288.1,353.8 288.2,358.6 288.3,348.7 288.4,352.2 288.5,350.5 288.7,352.1 288.8,357.2 288.9,347.8 289.0,354.9 289.1,350.0 289.3,351.0 289.4,356.0 289.5,350.5 289.6,354.3 289.7,352.8 289.9,351.6 290.0,350.3 290.1,345.3 290.2,349.0 290.3,352.9 290.5,353.6 290.6,347.2 290.7,356.2 290.8,354.3 290.9,347.9 291.1,348.4 291.2,353.5 291.3,345.1 291.4,348.4 291.5,350.5 291.7,350.4 291.8,350.2 291.9,351.6 292.0,347.1 292.1,347.8 292.3,356.6 292.4,344.6 292.5,347.6 292.6,349.2 292.7,346.8 292.9,352.6 293.0,348.5 293.1,349.9 293.2,339.2 293.4,351.3 293.5,351.0 293.6,344.4 293.7,351.4 293.8,348.0 294.0,349.3 294.1,351.0 294.2,344.8 294.3,340.8 294.4,342.9 294.6,338.2 294.7,338.7 294.8,338.9 294.9,338.9 295.0,344.4 295.2,343.1 295.3,337.8 295.4,343.5 295.5,335.2 295.6,337.4 295.8,338.1 295.9,341.2 296.0,339.5 296.1,338.4 296.2,338.9 296.4,337.2 296.5,338.7 296.6,332.6 296.7,329.5 296.8,332.0 297.0,334.3 297.1,332.4 297.2,332.9 297.3,331.1 297.4,330.1 297.6,329.4 297.7,325.0 297.8,328.2 297.9,322.6 298.0,323.5 298.2,320.1 298.3,323.4 298.4,318.7 298.5,324.5 298.6,318.0 298.8,320.5 298.9,319.0 299.0,316.5 299.1,319.3 299.2,315.3 299.4,317.5 299.5,311.9 299.6,312.3 299.7,309.5 299.8,313.8 300.0,314.7 300.1,313.3 300.2,312.2 300.3,310.7 300.4,316.3 300.6,313.6 300.7,309.2 300.8,312.3 300.9,307.7 301.0,316.3 301.2,318.0 301.3,317.4 301.4,315.1 301.5,314.6 301.6,313.5 301.8,318.2 301.9,316.6 302.0,318.0 302.1,318.7 302.2,320.4 302.4,323.7 302.5,326.5 302.6,324.2 302.7,324.9 302.8,323.4 303.0,324.0 303.1,325.2 303.2,330.8 303.3,329.7 303.4,332.5 303.6,332.1 303.7,330.8 303.8,330.0 303.9,333.0 304.0,331.3 304.2,341.2 304.3,337.8 304.4,336.8 304.5,344.1 304.6,338.2 304.8,341.0 304.9,339.8 305.0,341.5 305.1,340.3 305.2,343.2 305.4,346.2 305.5,339.2 305.6,337.0 305.7,348.0 305.8,345.0 306.0,347.7 306.1,345.0 306.2,350.9 306.3,351.9 306.5,342.9 306.6,348.8 306.7,345.9 306.8,342.4 306.9,346.7 307.1,349.9 307.2,344.2 307.3,345.1 307.4,353.3 307.5,348.9 307.7,351.5 307.8,346.3 307.9,347.7 308.0,350.6 308.1,351.7 308.3,352.4 308.4,358.3 308.5,352.8 308.6,347.5 308.7,350.5 308.9,354.3 309.0,358.1 309.1,351.3 309.2,352.7 309.3,354.2 309.5,351.5 309.6,351.2 309.7,352.8 309.8,357.9 309.9,355.9 310.1,353.3 310.2,356.0 310.3,350.2 310.4,359.3 310.5,358.4 310.7,357.4 310.8,350.3 310.9,363.9 311.0,345.7 311.1,353.5 311.3,352.2 311.4,358.9 311.5,349.5 311.6,356.3 311.7,354.5 311.9,354.1 312.0,359.0 312.1,362.8 312.2,359.4 312.3,357.9 312.5,350.3 312.6,365.9 312.7,359.3 312.8,352.7 312.9,361.0 313.1,365.9 313.2,359.3 313.3,355.1 313.4,367.7 313.5,360.6 313.7,360.0 313.8,362.2 313.9,349.6 314.0,358.6 314.1,358.6 314.3,368.7 314.4,357.5 314.5,357.0 314.6,354.3 314.7,356.5 314.9,358.5 315.0,360.8 315.1,359.4 315.2,368.7 315.3,362.9 315.5,363.9 315.6,366.9 315.7,364.1 315.8,360.0 315.9,355.6 316.1,362.7 316.2,358.2 316.3,366.1 316.4,357.9 316.5,352.3 316.7,360.3 316.8,365.1 316.9,360.2 317.0,361.8 317.1,362.3 317.3,368.4 317.4,363.1 317.5,362.3 317.6,360.6 317.7,356.9 317.9,368.2 318.0,366.1 318.1,358.3 318.2,364.0 318.3,363.0 318.5,359.0 318.6,359.1 318.7,363.2 318.8,356.2 319.0,359.0 319.1,360.7 319.2,361.0 319.3,360.4 319.4,362.5 319.6,364.4 319.7,358.2 319.8,362.1 319.9,359.2 320.0,367.9 320.2,355.9 320.3,359.7 320.4,363.8 320.5,359.8 320.6,359.6 320.8,359.0 320.9,362.3 321.0,357.5 321.1,362.3 321.2,362.9 321.4,357.6 321.5,364.4 321.6,361.8 321.7,364.5 321.8,366.4 322.0,364.7 322.1,357.9 322.2,364.2 322.3,356.7 322.4,359.8 322.6,369.4 322.7,362.1 322.8,368.4 322.9,361.3 323.0,361.9 323.2,357.0 323.3,366.5 323.4,361.7 323.5,365.7 323.6,364.8 323.8,365.8 323.9,365.5 324.0,364.5 324.1,364.3 324.2,361.5 324.4,355.2 324.5,366.2 324.6,372.1 324.7,367.0 324.8,371.9 325.0,363.7 325.1,357.7 325.2,358.0 325.3,364.7 325.4,362.9 325.6,361.3 325.7,364.6 325.8,358.6 325.9,364.7 326.0,361.4 326.2,364.0 326.3,368.2 326.4,363.1 326.5,369.3 326.6,369.1 326.8,360.8 326.9,373.7 327.0,357.3 327.1,362.4 327.2,365.9 327.4,354.2 327.5,367.2 327.6,366.9 327.7,361.3 327.8,364.3 328.0,363.9 328.1,362.0 328.2,367.3 328.3,361.6 328.4,363.2 328.6,365.8 328.7,367.9 328.8,369.0 328.9,359.0 329.0,356.5 329.2,363.6 329.3,364.3 329.4,360.1 329.5,365.2 329.6,366.4 329.8,365.3 329.9,370.1 330.0,360.3 330.1,364.7 330.2,371.4 330.4,366.9 330.5,359.0 330.6,364.3 330.7,368.8 330.8,371.9 331.0,365.8 331.1,368.6 331.2,359.1 331.3,363.4 331.5,369.1 331.6,360.5 331.7,364.5 331.8,357.9 331.9,370.9 332.1,363.6 332.2,366.1 332.3,357.6 332.4,358.0 332.5,371.2 332.7,361.6 332.8,361.0 332.9,366.4 333.0,366.3 333.1,356.1 333.3,360.4 333.4,363.8 333.5,363.5 333.6,364.5 333.7,361.3 333.9,362.2 334.0,363.9 334.1,360.3 334.2,360.1 334.3,362.2 334.5,365.5 334.6,365.0 334.7,363.4 334.8,364.7 334.9,365.6 335.1,366.5 335.2,365.8 335.3,358.9 335.4,368.0 335.5,358.0 335.7,366.8 335.8,360.9 335.9,366.0 336.0,368.3 336.1,356.8 336.3,366.3 336.4,364.8 336.5,361.4 336.6,365.9 336.7,362.2 336.9,365.6 337.0,360.3 337.1,366.7 337.2,365.9 337.3,367.1 337.5,361.2 337.6,372.1 337.7,371.9 337.8,363.5 337.9,363.3 338.1,363.1 338.2,367.9 338.3,368.6 338.4,361.4 338.5,356.3 338.7,365.8 338.8,364.3 338.9,365.5 339.0,365.9 339.1,359.6 339.3,364.1 339.4,363.4 339.5,366.7 339.6,369.2 339.7,364.3 339.9,360.9 340.0,369.8 340.1,367.9 340.2,364.0 340.3,357.6 340.5,361.7 340.6,365.3 340.7,367.3 340.8,363.2 340.9,366.3 341.1,362.1 341.2,362.6 341.3,366.2 341.4,363.2 341.5,365.0 341.7,367.6 341.8,369.2 341.9,361.6 342.0,363.8 342.1,359.4 342.3,360.2 342.4,366.9 342.5,363.8 342.6,358.0 342.7,367.9 342.9,361.6 343.0,364.6 343.1,367.2 343.2,366.8 343.3,364.8 343.5,357.7 343.6,368.2 343.7,364.7 343.8,361.2 344.0,358.4 344.1,372.6 344.2,368.0 344.3,367.3 344.4,368.8 344.6,365.0 344.7,359.4 344.8,366.4 344.9,366.6 345.0,364.3 345.2,369.0 345.3,370.5 345.4,359.9 345.5,361.4 345.6,368.4 345.8,367.0 345.9,367.6 346.0,370.8 346.1,370.0 346.2,365.0 346.4,367.2 346.5,364.0 346.6,365.6 346.7,361.0 346.8,357.6 347.0,364.4 347.1,364.6 347.2,370.2 347.3,372.0 347.4,365.2 347.6,368.3 347.7,363.4 347.8,361.5 347.9,363.7 348.0,363.7 348.2,366.5 348.3,366.1 348.4,371.8 348.5,364.2 348.6,358.3 348.8,364.8 348.9,361.8 349.0,365.6 349.1,369.6 349.2,362.9 349.4,365.2 349.5,367.5 349.6,362.1 349.7,366.2 349.8,367.4 350.0,368.7 350.1,369.1 350.2,367.3 350.3,366.4 350.4,359.7 350.6,355.3 350.7,361.5 350.8,371.0 350.9,365.9 351.0,356.4 351.2,364.8 351.3,367.2 351.4,358.3 351.5,368.1 351.6,361.4 351.8,370.2 351.9,366.1 352.0,377.8 352.1,361.5 352.2,367.5 352.4,360.2 352.5,369.8 352.6,366.1 352.7,368.6 352.8,364.7 353.0,358.7 353.1,360.7 353.2,358.6 353.3,359.4 353.4,362.9 353.6,368.1 353.7,368.1 353.8,366.9 353.9,362.8 354.0,366.8 354.2,361.0 354.3,365.5 354.4,367.2 354.5,362.8 354.6,362.3 354.8,362.7 354.9,366.8 355.0,364.2 355.1,360.5 355.2,363.9 355.4,360.9 355.5,370.9 355.6,364.7 355.7,359.1 355.8,365.2 356.0,367.2 356.1,367.1 356.2,363.7 356.3,365.0 356.4,366.0 356.6,369.0 356.7,366.8 356.8,373.4 356.9,362.1 357.1,369.7 357.2,364.5 357.3,357.8 357.4,360.7 357.5,357.5 357.7,358.5 357.8,370.8 357.9,364.4 358.0,368.7 358.1,363.0 358.3,364.9 358.4,361.9 358.5,369.0 358.6,364.1 358.7,362.7 358.9,363.9 359.0,372.7 359.1,366.4 359.2,367.2 359.3,359.7 359.5,362.3 359.6,365.6 359.7,357.0 359.8,368.7 359.9,364.0 360.1,363.3 360.2,362.4 360.3,362.3 360.4,362.0 360.5,369.8 360.7,367.8 360.8,370.7 360.9,364.6 361.0,362.7 361.1,371.4 361.3,360.8 361.4,363.2 361.5,368.3 361.6,369.5 361.7,360.3 361.9,364.5 362.0,366.0 362.1,365.3 362.2,362.6 362.3,369.2 362.5,364.8 362.6,366.2 362.7,358.4 362.8,367.3 362.9,359.9 363.1,370.1 363.2,368.7 363.3,364.3 363.4,366.8 363.5,365.6 363.7,364.3 363.8,366.4 363.9,364.3 364.0,363.6 364.1,362.0 364.3,371.9 364.4,365.7 364.5,364.9 364.6,368.1 364.7,364.1 364.9,363.7 365.0,368.1 365.1,368.9 365.2,368.6 365.3,360.3 365.5,367.1 365.6,367.1 365.7,369.3 365.8,364.4 365.9,363.8 366.1,367.5 366.2,364.0 366.3,362.3 366.4,365.6 366.5,369.5 366.7,367.5 366.8,371.3 366.9,361.8 367.0,368.4 367.1,366.0 367.3,362.7 367.4,364.1 367.5,361.3 367.6,364.0 367.7,362.2 367.9,370.5 368.0,363.4 368.1,359.3 368.2,365.1 368.3,366.2 368.5,364.1 368.6,368.3 368.7,361.3 368.8,361.1 368.9,370.7 369.1,363.4 369.2,366.1 369.3,365.0 369.4,366.6 369.6,364.8 369.7,364.1 369.8,368.5 369.9,362.6 370.0,364.7 370.2,368.0 370.3,363.7 370.4,359.1 370.5,366.9 370.6,369.7 370.8,366.9 370.9,359.6 371.0,368.2 371.1,372.8 371.2,359.2 371.4,355.3 371.5,365.2 371.6,365.6 371.7,368.7 371.8,368.2 372.0,365.6 372.1,366.5 372.2,366.0 372.3,365.6 372.4,365.7 372.6,364.8 372.7,368.0 372.8,366.6 372.9,363.9 373.0,369.4 373.2,361.8 373.3,363.1 373.4,364.7 373.5,356.9 373.6,362.5 373.8,367.2 373.9,367.0 374.0,359.0 374.1,361.2 374.2,360.7 374.4,364.0 374.5,366.0 374.6,359.1 374.7,366.9 374.8,366.4 375.0,365.2 375.1,362.4 375.2,364.7 375.3,357.9 375.4,367.0 375.6,366.9 375.7,365.6 375.8,361.7 375.9,372.0 376.0,371.5 376.2,359.6 376.3,368.6 376.4,367.2 376.5,356.8 376.6,368.7 376.8,368.5 376.9,369.3 377.0,366.7 377.1,362.9 377.2,363.3 377.4,367.3 377.5,370.1 377.6,364.7 377.7,365.6 377.8,370.4 378.0,359.7 378.1,370.5 378.2,367.6 378.3,359.4 378.4,370.7 378.6,363.3 378.7,369.5 378.8,372.2 378.9,361.7 379.0,362.5 379.2,367.5 379.3,360.3 379.4,370.5 379.5,368.9 379.6,370.9 379.8,360.2 379.9,367.2 380.0,368.3 380.1,359.8 380.2,369.5 380.4,359.6 380.5,366.4 380.6,360.7 380.7,368.9 380.8,372.3 381.0,366.2 381.1,367.0 381.2,371.5 381.3,364.2 381.4,366.6 381.6,369.7 381.7,368.0 381.8,372.1 381.9,370.5 382.1,374.2 382.2,367.0 382.3,370.5 382.4,363.4 382.5,370.5 382.7,373.8 382.8,375.9 382.9,361.7 383.0,365.8 383.1,369.0 383.3,362.5 383.4,367.7 383.5,366.7 383.6,362.9 383.7,362.4 383.9,360.5 384.0,365.3 384.1,369.1 384.2,365.2 384.3,375.9 384.5,358.9 384.6,362.8 384.7,368.1 384.8,361.2 384.9,366.8 385.1,368.8 385.2,366.3 385.3,365.4 385.4,369.6 385.5,367.4 385.7,368.8 385.8,369.1 385.9,364.2 386.0,362.2 386.1,365.3 386.3,367.7 386.4,366.7 386.5,371.7 386.6,368.3 386.7,371.2 386.9,368.2 387.0,365.3 387.1,371.8 387.2,369.8 387.3,364.4 387.5,366.2 387.6,378.3 387.7,354.1 387.8,371.0 387.9,367.2 388.1,367.1 388.2,366.1 388.3,365.1 388.4,377.0 388.5,365.7 388.7,365.8 388.8,369.5 388.9,367.3 389.0,365.0 389.1,365.0 389.3,360.5 389.4,370.1 389.5,362.1 389.6,356.7 389.7,371.0 389.9,370.3 390.0,368.3 390.1,364.8 390.2,372.1 390.3,363.9 390.5,359.7 390.6,369.1 390.7,371.2 390.8,370.3 390.9,376.1 391.1,371.0 391.2,365.8 391.3,366.8 391.4,369.6 391.5,365.5 391.7,365.3 391.8,358.6 391.9,363.9 392.0,360.1 392.1,365.6 392.3,366.1 392.4,368.8 392.5,373.2 392.6,365.3 392.7,371.7 392.9,362.0 393.0,366.7 393.1,369.7 393.2,373.5 393.3,361.7 393.5,365.4 393.6,367.6 393.7,366.7 393.8,364.1 393.9,361.7 394.1,362.7 394.2,366.6 394.3,361.2 394.4,373.3 394.6,371.1 394.7,358.3 394.8,364.1 394.9,373.0 395.0,373.4 395.2,373.0 395.3,362.8 395.4,366.3 395.5,372.5 395.6,367.4 395.8,364.8 395.9,369.2 396.0,371.1 396.1,367.3 396.2,368.5 396.4,372.1 396.5,366.1 396.6,363.7 396.7,370.4 396.8,362.1 397.0,369.3 397.1,363.9 397.2,370.0 397.3,361.7 397.4,371.0 397.6,367.7 397.7,364.8 397.8,362.3 397.9,364.4 398.0,360.2 398.2,359.7 398.3,369.7 398.4,367.3 398.5,370.1 398.6,359.8 398.8,358.1 398.9,360.6 399.0,368.3 399.1,368.2 399.2,357.3 399.4,368.8 399.5,363.8 399.6,361.0 399.7,365.6 399.8,368.4 400.0,366.1 400.1,366.7 400.2,363.3 400.3,360.5 400.4,363.4 400.6,358.4 400.7,367.2 400.8,361.3 400.9,370.5 401.0,359.7 401.2,371.6 401.3,363.7 401.4,363.3 401.5,367.8 401.6,370.2 401.8,365.5 401.9,364.4 402.0,374.8 402.1,368.5 402.2,362.8 402.4,366.4 402.5,373.3 402.6,368.8 402.7,371.0 402.8,374.8 403.0,364.5 403.1,368.0 403.2,365.1 403.3,367.7 403.4,369.1 403.6,361.8 403.7,367.6 403.8,368.0 403.9,370.8 404.0,364.1 404.2,362.1 404.3,369.0 404.4,362.7 404.5,368.7 404.6,369.4 404.8,364.2 404.9,366.3 405.0,362.0 405.1,355.3 405.2,360.8 405.4,357.8 405.5,366.9 405.6,362.2 405.7,366.7 405.8,367.2 406.0,371.4 406.1,365.6 406.2,365.7 406.3,368.6 406.4,373.6 406.6,366.7 406.7,368.6 406.8,366.0 406.9,363.5 407.0,359.6 407.2,365.9 407.3,364.7 407.4,363.8 407.5,372.9 407.7,364.0 407.8,366.9 407.9,363.9 408.0,369.6 408.1,363.7 408.3,372.6 408.4,364.0 408.5,367.2 408.6,368.3 408.7,363.6 408.9,368.5 409.0,365.2 409.1,362.1 409.2,362.2 409.3,366.2 409.5,372.8 409.6,363.8 409.7,367.7 409.8,362.7 409.9,367.0 410.1,360.8 410.2,362.9 410.3,365.3 410.4,362.2 410.5,363.9 410.7,369.4 410.8,364.9 410.9,363.4 411.0,362.6 411.1,365.5 411.3,372.5 411.4,367.3 411.5,367.5 411.6,371.7 411.7,371.3 411.9,371.5 412.0,365.3 412.1,363.4 412.2,360.9 412.3,364.1 412.5,364.6 412.6,368.9 412.7,367.1 412.8,364.0 412.9,369.1 413.1,360.3 413.2,361.7 413.3,362.2 413.4,361.8 413.5,365.1 413.7,362.7 413.8,362.9 413.9,371.7 414.0,358.5 414.1,359.6 414.3,362.7 414.4,365.5 414.5,365.7 414.6,362.6 414.7,361.9 414.9,363.1 415.0,367.5 415.1,360.9 415.2,354.5 415.3,364.6 415.5,359.5 415.6,364.4 415.7,370.5 415.8,364.1 415.9,371.5 416.1,358.1 416.2,365.3 416.3,366.0 416.4,367.1 416.5,360.7 416.7,364.9 416.8,364.5 416.9,364.6 417.0,359.0 417.1,357.1 417.3,366.6 417.4,366.0 417.5,365.1 417.6,367.7 417.7,369.3 417.9,359.7 418.0,367.6 418.1,370.2 418.2,367.8 418.3,364.6 418.5,364.5 418.6,356.1 418.7,360.2 418.8,365.8 418.9,367.0 419.1,363.4 419.2,360.6 419.3,361.8 419.4,364.9 419.5,369.2 419.7,365.2 419.8,359.9 419.9,364.1 420.0,363.1 420.2,370.4 420.3,364.2 420.4,361.7 420.5,359.8 420.6,355.3 420.8,355.9 420.9,358.2 421.0,357.6 421.1,360.7 421.2,360.8 421.4,364.6 421.5,367.2 421.6,361.7 421.7,359.8 421.8,353.1 422.0,361.1 422.1,362.0 422.2,356.6 422.3,356.9 422.4,355.0 422.6,360.4 422.7,358.7 422.8,360.4 422.9,351.8 423.0,364.3 423.2,352.4 423.3,352.5 423.4,355.9 423.5,352.9 423.6,360.2 423.8,352.4 423.9,351.0 424.0,355.7 424.1,355.8 424.2,349.2 424.4,350.2 424.5,349.6 424.6,349.7 424.7,354.6 424.8,352.3 425.0,351.5 425.1,351.5 425.2,347.5 425.3,348.9 425.4,345.6 425.6,342.6 425.7,348.2 425.8,337.6 425.9,341.5 426.0,339.1 426.2,335.8 426.3,338.8 426.4,339.9 426.5,340.2 426.6,336.9 426.8,340.1 426.9,338.6 427.0,339.4 427.1,331.5 427.2,334.8 427.4,334.5 427.5,337.0 427.6,334.0 427.7,334.2 427.8,332.4 428.0,332.1 428.1,332.3 428.2,336.0 428.3,331.1 428.4,327.5 428.6,333.8 428.7,332.3 428.8,335.0 428.9,334.9 429.0,333.2 429.2,333.4 429.3,333.7 429.4,335.0 429.5,333.8 429.6,336.8 429.8,340.6 429.9,336.7 430.0,337.3 430.1,338.1 430.2,341.7 430.4,342.3 430.5,344.6 430.6,342.6 430.7,341.7 430.8,343.3 431.0,339.1 431.1,345.2 431.2,344.6 431.3,350.6 431.4,350.1 431.6,344.5 431.7,345.6 431.8,350.2 431.9,341.8 432.0,345.6 432.2,349.3 432.3,350.5 432.4,349.4 432.5,352.8 432.7,349.9 432.8,352.1 432.9,352.2 433.0,350.1 433.1,353.4 433.3,352.7 433.4,355.5 433.5,346.4 433.6,355.3 433.7,353.5 433.9,353.5 434.0,357.2 434.1,355.5 434.2,360.6 434.3,361.9 434.5,360.8 434.6,360.6 434.7,359.3 434.8,357.6 434.9,353.6 435.1,357.0 435.2,363.3 435.3,361.8 435.4,358.6 435.5,361.2 435.7,366.0 435.8,361.1 435.9,368.2 436.0,359.6 436.1,366.6 436.3,366.6 436.4,364.7 436.5,365.0 436.6,366.6 436.7,356.3 436.9,367.4 437.0,370.1 437.1,366.9 437.2,369.8 437.3,360.9 437.5,364.8 437.6,365.6 437.7,363.0 437.8,368.5 437.9,365.8 438.1,362.3 438.2,367.3 438.3,367.9 438.4,363.6 438.5,367.9 438.7,366.9 438.8,367.2 438.9,360.8 439.0,370.8 439.1,367.9 439.3,365.2 439.4,367.5 439.5,367.8 439.6,365.5 439.7,364.2 439.9,366.9 440.0,365.0 440.1,365.6 440.2,361.9 440.3,365.9 440.5,370.7 440.6,368.2 440.7,368.3 440.8,366.5 440.9,365.6 441.1,362.4 441.2,375.3 441.3,366.0 441.4,362.0 441.5,369.0 441.7,368.7 441.8,365.3 441.9,360.8 442.0,360.0 442.1,371.5 442.3,366.2 442.4,364.3 442.5,374.7 442.6,366.0 442.7,364.8 442.9,371.0 443.0,370.5 443.1,375.0 443.2,363.0 443.3,370.0 443.5,362.4 443.6,370.6 443.7,366.0 443.8,366.2 443.9,364.3 444.1,370.6 444.2,373.1 444.3,365.6 444.4,365.1 444.5,363.9 444.7,368.5 444.8,362.9 444.9,381.1 445.0,366.6 445.2,374.9 445.3,369.3 445.4,363.6 445.5,362.6 445.6,367.0 445.8,365.4 445.9,367.2 446.0,363.4 446.1,376.7 446.2,375.6 446.4,360.3 446.5,369.0 446.6,371.5 446.7,365.8 446.8,366.3 447.0,372.2 447.1,370.2 447.2,363.6 447.3,374.2 447.4,367.6 447.6,376.4 447.7,364.8 447.8,358.8 447.9,368.5 448.0,372.6 448.2,368.9 448.3,367.8 448.4,363.3 448.5,370.8 448.6,360.4 448.8,371.5 448.9,364.0 449.0,367.2 449.1,364.6 449.2,366.0 449.4,375.4 449.5,364.2 449.6,369.2 449.7,364.7 449.8,372.0 450.0,361.8 450.1,366.9 450.2,370.3 450.3,376.0 450.4,362.5 450.6,363.2 450.7,366.3 450.8,372.7 450.9,364.2 451.0,371.1 451.2,365.2 451.3,363.3 451.4,361.5 451.5,367.9 451.6,370.9 451.8,365.9 451.9,358.3 452.0,363.6 452.1,370.1 452.2,369.4 452.4,366.8 452.5,372.4 452.6,361.4 452.7,362.0 452.8,377.6 453.0,370.4 453.1,367.1 453.2,366.0 453.3,357.6 453.4,371.4 453.6,360.4 453.7,360.8 453.8,369.2 453.9,375.2 454.0,367.7 454.2,370.7 454.3,367.7 454.4,370.4 454.5,362.1 454.6,376.7 454.8,364.7 454.9,370.8 455.0,360.2 455.1,375.2 455.2,370.0 455.4,376.0 455.5,365.4 455.6,372.1 455.7,367.5 455.8,368.3 456.0,374.5 456.1,365.6 456.2,372.0 456.3,376.8 456.4,375.6 456.6,373.3 456.7,369.9 456.8,363.9 456.9,373.6 457.0,365.3 457.2,373.2 457.3,367.5 457.4,367.9 457.5,368.1 457.6,370.4 457.8,366.4 457.9,368.3 458.0,365.8 458.1,369.8 458.3,369.2 458.4,369.9 458.5,364.7 458.6,369.5 458.7,368.5 458.9,370.6 459.0,369.2 459.1,365.4 459.2,371.3 459.3,366.1 459.5,369.7 459.6,360.6 459.7,370.2 459.8,370.1 459.9,363.2 460.1,369.8 460.2,366.1 460.3,373.1 460.4,370.6 460.5,363.2 460.7,367.4 460.8,361.4 460.9,367.2 461.0,370.5 461.1,372.4 461.3,367.7 461.4,367.3 461.5,368.4 461.6,365.1 461.7,368.4 461.9,371.6 462.0,367.8 462.1,370.9 462.2,364.2 462.3,365.7 462.5,369.2 462.6,377.0 462.7,372.4 462.8,374.4 462.9,367.4 463.1,372.2 463.2,360.9 463.3,369.6 463.4,358.8 463.5,371.9 463.7,369.2 463.8,372.5 463.9,368.7 464.0,364.3 464.1,363.1 464.3,366.9 464.4,373.1 464.5,369.6 464.6,365.4 464.7,365.9 464.9,365.6 465.0,368.4 465.1,368.8 465.2,366.4 465.3,368.1 465.5,361.6 465.6,374.5 465.7,369.7 465.8,374.0 465.9,368.9 466.1,368.0 466.2,369.6 466.3,370.3 466.4,366.1 466.5,367.0 466.7,376.7 466.8,372.9 466.9,366.4 467.0,369.7 467.1,363.9 467.3,373.3 467.4,363.6 467.5,371.4 467.6,368.7 467.7,368.9 467.9,366.1 468.0,368.6 468.1,367.3 468.2,367.2 468.3,372.2 468.5,379.4 468.6,368.7 468.7,374.5 468.8,370.4 468.9,366.9 469.1,374.9 469.2,371.9 469.3,374.5 469.4,370.3 469.5,369.8 469.7,366.1 469.8,367.6 469.9,374.8 470.0,359.0 470.1,369.4 470.3,373.4 470.4,370.9 470.5,370.4 470.6,366.9 470.8,372.3 470.9,372.8 471.0,367.9 471.1,374.0 471.2,365.3 471.4,358.2 471.5,366.5 471.6,366.9 471.7,363.2 471.8,364.6 472.0,364.7 472.1,359.8 472.2,371.6 472.3,368.1 472.4,379.1 472.6,368.4 472.7,369.7 472.8,362.4 472.9,372.3 473.0,364.0 473.2,370.6 473.3,370.9 473.4,371.5 473.5,365.7 473.6,365.7 473.8,372.5 473.9,374.3 474.0,375.3 474.1,370.3 474.2,369.2 474.4,376.4 474.5,366.5 474.6,371.6 474.7,367.1 474.8,362.2 475.0,363.4 475.1,369.4 475.2,368.5 475.3,369.3 475.4,365.6 475.6,365.2 475.7,368.7 475.8,366.9 475.9,361.3 476.0,365.2 476.2,373.9 476.3,364.4 476.4,369.3 476.5,366.2 476.6,370.0 476.8,364.1 476.9,363.1 477.0,370.7 477.1,366.6 477.2,370.3 477.4,369.4 477.5,373.9 477.6,370.9 477.7,370.6 477.8,365.2 478.0,362.6 478.1,364.5 478.2,370.3 478.3,370.1 478.4,369.7 478.6,365.9 478.7,363.6 478.8,371.1 478.9,368.2 479.0,370.6 479.2,364.5 479.3,365.7 479.4,371.3 479.5,372.1 479.6,365.9 479.8,370.4 479.9,363.8 480.0,373.5 480.1,371.1 480.2,377.2 480.4,373.8 480.5,365.0 480.6,367.7 480.7,365.4 480.8,367.7 481.0,370.1 481.1,367.1 481.2,367.9 481.3,362.6 481.4,370.6 481.6,368.4 481.7,372.5 481.8,374.2 481.9,369.7 482.0,372.3 482.2,366.7 482.3,373.4 482.4,369.0 482.5,365.3 482.6,366.9 482.8,362.3 482.9,365.5 483.0,366.7 483.1,368.3 483.3,368.7 483.4,366.4 483.5,368.4 483.6,360.4 483.7,368.9 483.9,370.6 484.0,371.6 484.1,372.3 484.2,367.2 484.3,366.4 484.5,365.5 484.6,365.0 484.7,367.6 484.8,372.0 484.9,361.0 485.1,366.1 485.2,370.8 485.3,365.1 485.4,371.2 485.5,364.4 485.7,368.7 485.8,363.6 485.9,371.2 486.0,366.6 486.1,372.4 486.3,369.1 486.4,366.1 486.5,367.9 486.6,369.2 486.7,367.9 486.9,366.7 487.0,366.5 487.1,367.3 487.2,370.5 487.3,364.8 487.5,368.5 487.6,362.6 487.7,371.0 487.8,367.8 487.9,365.0 488.1,365.7 488.2,361.3 488.3,368.6 488.4,366.7 488.5,362.5 488.7,367.1 488.8,371.3 488.9,369.2 489.0,368.5 489.1,365.1 489.3,370.3 489.4,366.6 489.5,369.9 489.6,375.2 489.7,358.4 489.9,365.2 490.0,367.3 490.1,364.4 490.2,372.1 490.3,366.8 490.5,375.5 490.6,372.5 490.7,371.1 490.8,369.5 490.9,372.9 491.1,370.6 491.2,374.1 491.3,368.9 491.4,371.0 491.5,368.7 491.7,368.3 491.8,361.4 491.9,369.1 492.0,370.6 492.1,364.6 492.3,364.2 492.4,368.6 492.5,371.6 492.6,363.2 492.7,369.6 492.9,372.8 493.0,368.7 493.1,370.1 493.2,369.7 493.3,365.4 493.5,371.3 493.6,371.7 493.7,363.8 493.8,370.2 493.9,371.2 494.1,364.5 494.2,371.9 494.3,366.8 494.4,361.6 494.5,363.0 494.7,363.7 494.8,369.2 494.9,364.9 495.0,364.4 495.1,360.7 495.3,365.8 495.4,360.7 495.5,363.3 495.6,368.9 495.8,369.1 495.9,365.4 496.0,367.7 496.1,370.6 496.2,369.1 496.4,373.2 496.5,373.2 496.6,367.6 496.7,362.8 496.8,366.6 497.0,372.2 497.1,371.0 497.2,371.5 497.3,371.6 497.4,365.0 497.6,367.8 497.7,371.0 497.8,368.1 497.9,370.9 498.0,363.4 498.2,362.6 498.3,375.9 498.4,371.3 498.5,371.4 498.6,374.9 498.8,378.0 498.9,380.6 499.0,359.8 499.1,370.5 499.2,372.5 499.4,360.5 499.5,360.8 499.6,366.6 499.7,375.0 499.8,371.1 500.0,376.0 500.1,368.7 500.2,371.8 500.3,373.9 500.4,369.5 500.6,367.6 500.7,367.5 500.8,352.7 500.9,368.4 501.0,359.1 501.2,363.2 501.3,369.1 501.4,367.3 501.5,357.9 501.6,367.5 501.8,368.6 501.9,366.9 502.0,368.4" stroke="#cc4e48" stroke-width="1.8"/></g>
<text transform="translate(261.5,79.5) scale(1.0,1.1)" font-size="15.5" fill="#2e2e2e" text-anchor="middle" stroke="#2e2e2e" stroke-width="0.25">Pt</text>
<text transform="translate(299,229.5) scale(1.0,1.1)" font-size="15.5" fill="#2e2e2e" text-anchor="middle" stroke="#2e2e2e" stroke-width="0.25">Pt</text>
<text transform="translate(426,286) scale(1.0,1.1)" font-size="15.5" fill="#2e2e2e" text-anchor="middle" stroke="#2e2e2e" stroke-width="0.25">Pt</text>
<line x1="396" y1="121.5" x2="414.5" y2="121.5" stroke="#86a9d6" stroke-width="1.6"/>
<line x1="396" y1="151" x2="414.5" y2="151" stroke="#dc8d8a" stroke-width="1.6"/>
<text transform="translate(416,129) scale(1.0,1.0)" font-size="22" fill="#333" text-anchor="start">Untreated Pt/C</text>
<text transform="translate(417.5,157.5) scale(1.0,1.0)" font-size="22" fill="#333" text-anchor="start">Acid-treated Pt/C</text>
<text transform="translate(685.5,23.5) scale(1.0,1.12)" font-size="30" fill="#222" text-anchor="start">(b)</text>
<rect x="666.8" y="41.5" width="598" height="347" fill="none" stroke="#828282" stroke-width="2.2"/>
<g stroke="#606060" stroke-width="2"><line x1="666.6" y1="388" x2="666.6" y2="394"/><line x1="726.4" y1="388" x2="726.4" y2="394"/><line x1="786.3" y1="388" x2="786.3" y2="394"/><line x1="846.1" y1="388" x2="846.1" y2="394"/><line x1="906.0" y1="388" x2="906.0" y2="394"/><line x1="965.8" y1="388" x2="965.8" y2="394"/><line x1="1025.6" y1="388" x2="1025.6" y2="394"/><line x1="1085.5" y1="388" x2="1085.5" y2="394"/><line x1="1145.3" y1="388" x2="1145.3" y2="394"/><line x1="1205.2" y1="388" x2="1205.2" y2="394"/><line x1="1265.0" y1="388" x2="1265.0" y2="394"/></g>
<line x1="666" y1="388" x2="1266" y2="388" stroke="#606060" stroke-width="2.6"/>
<text transform="translate(666.7,421) scale(1.0,1.17)" font-size="21" fill="#404040" text-anchor="middle">0</text>
<text transform="translate(786.3000000000001,421) scale(1.0,1.17)" font-size="21" fill="#404040" text-anchor="middle">20</text>
<text transform="translate(905.9000000000001,421) scale(1.0,1.17)" font-size="21" fill="#404040" text-anchor="middle">40</text>
<text transform="translate(1025.5,421) scale(1.0,1.17)" font-size="21" fill="#404040" text-anchor="middle">60</text>
<text transform="translate(1145.1,421) scale(1.0,1.17)" font-size="21" fill="#404040" text-anchor="middle">80</text>
<text transform="translate(1264.7,421) scale(1.0,1.17)" font-size="21" fill="#404040" text-anchor="middle">100</text>
<text transform="translate(964.4,448.2) scale(1.03,1.14)" font-size="21" fill="#222" text-anchor="middle" font-weight="bold">2<tspan font-style="italic">θ</tspan> / dgree</text>
<text transform="translate(660,214) rotate(-90) scale(1.06,1)" font-size="21" font-weight="bold" fill="#222" text-anchor="middle">Intensity / a.u.</text>
<g fill="none" stroke-linejoin="round"><path d="M786.3,301.7 786.4,309.4 786.5,264.3 786.7,289.6 786.8,302.3 786.9,306.7 787.0,299.1 787.1,308.5 787.3,296.6 787.4,296.8 787.5,293.3 787.6,279.6 787.7,280.9 787.9,292.2 788.0,282.8 788.1,303.9 788.2,305.4 788.3,311.5 788.5,292.3 788.6,308.1 788.7,285.7 788.8,286.2 788.9,292.2 789.1,294.5 789.2,273.6 789.3,271.9 789.4,293.0 789.5,281.0 789.6,301.0 789.8,292.0 789.9,291.2 790.0,288.2 790.1,297.6 790.2,285.9 790.4,297.7 790.5,283.4 790.6,286.5 790.7,283.0 790.8,299.9 791.0,292.8 791.1,284.5 791.2,317.1 791.3,290.4 791.4,295.3 791.6,298.2 791.7,312.2 791.8,291.6 791.9,301.3 792.0,294.2 792.2,276.6 792.3,300.7 792.4,303.8 792.5,289.5 792.6,291.6 792.8,274.4 792.9,274.1 793.0,286.9 793.1,297.4 793.2,285.9 793.4,293.0 793.5,300.5 793.6,291.8 793.7,296.5 793.8,305.4 794.0,274.3 794.1,296.3 794.2,266.9 794.3,289.8 794.4,285.4 794.6,277.2 794.7,269.8 794.8,282.8 794.9,280.7 795.0,287.2 795.2,278.3 795.3,297.7 795.4,279.1 795.5,289.1 795.6,286.7 795.8,301.9 795.9,273.0 796.0,285.4 796.1,300.5 796.2,284.8 796.3,280.8 796.5,299.0 796.6,292.4 796.7,304.2 796.8,282.8 796.9,295.1 797.1,297.7 797.2,299.4 797.3,275.4 797.4,304.7 797.5,280.2 797.7,274.0 797.8,279.5 797.9,291.5 798.0,287.6 798.1,296.8 798.3,294.4 798.4,293.0 798.5,286.7 798.6,308.8 798.7,265.1 798.9,267.8 799.0,279.1 799.1,272.3 799.2,256.7 799.3,276.1 799.5,275.9 799.6,257.6 799.7,294.1 799.8,299.7 799.9,298.2 800.1,277.4 800.2,282.9 800.3,270.5 800.4,283.4 800.5,273.7 800.7,282.5 800.8,276.8 800.9,293.6 801.0,292.9 801.1,295.4 801.3,266.5 801.4,265.1 801.5,290.5 801.6,276.6 801.7,289.4 801.9,287.3 802.0,288.1 802.1,294.9 802.2,289.3 802.3,289.1 802.5,276.4 802.6,303.4 802.7,285.6 802.8,295.0 802.9,285.8 803.0,297.0 803.2,284.5 803.3,285.0 803.4,282.9 803.5,274.4 803.6,275.9 803.8,280.5 803.9,279.3 804.0,270.8 804.1,306.0 804.2,270.5 804.4,277.1 804.5,304.5 804.6,272.5 804.7,288.8 804.8,286.8 805.0,275.6 805.1,261.9 805.2,261.8 805.3,276.9 805.4,283.3 805.6,251.9 805.7,276.2 805.8,267.9 805.9,284.3 806.0,275.0 806.2,267.1 806.3,269.1 806.4,276.7 806.5,292.1 806.6,311.2 806.8,283.2 806.9,279.7 807.0,285.3 807.1,278.3 807.2,286.2 807.4,281.9 807.5,277.2 807.6,268.2 807.7,280.8 807.8,287.1 808.0,278.3 808.1,294.3 808.2,285.2 808.3,275.1 808.4,295.9 808.6,264.8 808.7,290.0 808.8,296.3 808.9,271.4 809.0,279.4 809.2,288.0 809.3,295.0 809.4,283.9 809.5,281.5 809.6,290.2 809.7,283.8 809.9,263.6 810.0,274.8 810.1,274.9 810.2,258.9 810.3,279.4 810.5,266.6 810.6,283.1 810.7,258.7 810.8,266.6 810.9,258.8 811.1,288.1 811.2,289.6 811.3,292.0 811.4,291.2 811.5,286.1 811.7,284.7 811.8,259.4 811.9,281.1 812.0,272.4 812.1,273.6 812.3,266.4 812.4,294.0 812.5,283.0 812.6,262.9 812.7,284.0 812.9,277.1 813.0,264.7 813.1,269.5 813.2,262.8 813.3,245.6 813.5,253.9 813.6,275.4 813.7,272.5 813.8,273.3 813.9,256.5 814.1,264.3 814.2,268.5 814.3,277.1 814.4,260.5 814.5,257.3 814.7,280.5 814.8,268.8 814.9,262.7 815.0,260.7 815.1,262.7 815.3,284.9 815.4,279.0 815.5,263.3 815.6,256.6 815.7,289.8 815.9,287.5 816.0,281.3 816.1,279.9 816.2,250.5 816.3,257.5 816.4,276.3 816.6,265.7 816.7,272.7 816.8,263.4 816.9,260.4 817.0,272.5 817.2,262.7 817.3,267.4 817.4,271.1 817.5,270.3 817.6,280.6 817.8,281.5 817.9,254.2 818.0,265.7 818.1,260.9 818.2,275.0 818.4,256.8 818.5,277.2 818.6,278.4 818.7,277.0 818.8,259.2 819.0,267.5 819.1,258.2 819.2,271.1 819.3,276.0 819.4,250.2 819.6,255.5 819.7,263.0 819.8,259.0 819.9,281.0 820.0,263.7 820.2,268.8 820.3,254.3 820.4,283.8 820.5,268.3 820.6,276.5 820.8,268.7 820.9,246.8 821.0,253.1 821.1,255.3 821.2,273.4 821.4,262.3 821.5,272.3 821.6,270.0 821.7,268.6 821.8,274.7 822.0,267.1 822.1,246.8 822.2,258.5 822.3,280.8 822.4,250.4 822.6,275.7 822.7,277.4 822.8,252.1 822.9,261.5 823.0,241.8 823.1,266.3 823.3,249.2 823.4,243.8 823.5,252.6 823.6,251.2 823.7,251.2 823.9,260.9 824.0,256.9 824.1,251.9 824.2,270.4 824.3,285.9 824.5,262.5 824.6,252.6 824.7,247.6 824.8,264.0 824.9,255.5 825.1,257.8 825.2,237.8 825.3,245.8 825.4,247.8 825.5,270.7 825.7,256.6 825.8,233.4 825.9,264.1 826.0,270.9 826.1,273.0 826.3,228.9 826.4,259.8 826.5,265.3 826.6,262.6 826.7,254.0 826.9,237.3 827.0,249.6 827.1,247.7 827.2,255.7 827.3,258.1 827.5,248.0 827.6,259.3 827.7,241.4 827.8,247.2 827.9,255.8 828.1,263.6 828.2,254.7 828.3,272.7 828.4,263.1 828.5,246.4 828.7,256.2 828.8,247.5 828.9,245.4 829.0,239.1 829.1,262.6 829.3,257.8 829.4,233.6 829.5,259.8 829.6,255.8 829.7,245.4 829.8,254.4 830.0,269.5 830.1,251.6 830.2,254.9 830.3,259.8 830.4,241.0 830.6,237.3 830.7,235.4 830.8,247.4 830.9,253.9 831.0,237.1 831.2,230.7 831.3,240.6 831.4,235.1 831.5,240.6 831.6,232.8 831.8,231.5 831.9,230.3 832.0,230.3 832.1,222.5 832.2,218.6 832.4,231.5 832.5,235.9 832.6,221.2 832.7,204.3 832.8,207.5 833.0,208.4 833.1,190.7 833.2,190.4 833.3,186.0 833.4,177.5 833.6,171.2 833.7,171.2 833.8,159.3 833.9,153.9 834.0,153.1 834.2,137.7 834.3,127.9 834.4,127.0 834.5,123.3 834.6,112.2 834.8,105.7 834.9,95.9 835.0,92.1 835.1,93.5 835.2,90.3 835.4,86.6 835.5,83.1 835.6,82.7 835.7,84.3 835.8,86.9 836.0,94.3 836.1,95.5 836.2,101.8 836.3,110.5 836.4,116.8 836.5,122.0 836.7,130.2 836.8,136.2 836.9,137.8 837.0,150.5 837.1,156.7 837.3,164.1 837.4,173.8 837.5,177.8 837.6,191.0 837.7,192.3 837.9,200.1 838.0,207.0 838.1,209.5 838.2,218.1 838.3,223.4 838.5,227.5 838.6,224.7 838.7,226.3 838.8,231.4 838.9,238.3 839.1,228.7 839.2,237.2 839.3,236.4 839.4,242.0 839.5,241.9 839.7,255.7 839.8,255.0 839.9,260.6 840.0,246.2 840.1,249.5 840.3,253.5 840.4,271.1 840.5,272.2 840.6,253.2 840.7,265.4 840.9,280.1 841.0,253.7 841.1,261.9 841.2,276.2 841.3,273.1 841.5,257.2 841.6,281.1 841.7,276.0 841.8,272.6 841.9,256.8 842.1,267.7 842.2,280.6 842.3,273.4 842.4,275.6 842.5,265.7 842.7,286.0 842.8,266.3 842.9,277.3 843.0,272.3 843.1,258.8 843.2,285.5 843.4,260.6 843.5,265.1 843.6,274.9 843.7,261.8 843.8,259.3 844.0,279.5 844.1,276.4 844.2,276.7 844.3,283.8 844.4,304.3 844.6,275.6 844.7,306.6 844.8,283.0 844.9,280.0 845.0,249.9 845.2,263.6 845.3,283.2 845.4,287.4 845.5,271.7 845.6,283.8 845.8,290.7 845.9,277.6 846.0,264.5 846.1,270.3 846.2,276.5 846.4,281.3 846.5,286.4 846.6,267.5 846.7,278.9 846.8,278.1 847.0,280.5 847.1,290.3 847.2,295.1 847.3,277.8 847.4,278.6 847.6,275.5 847.7,278.2 847.8,281.2 847.9,287.4 848.0,283.4 848.2,275.9 848.3,274.0 848.4,289.8 848.5,314.9 848.6,293.6 848.8,293.3 848.9,290.6 849.0,285.9 849.1,309.1 849.2,283.7 849.4,274.8 849.5,272.3 849.6,287.6 849.7,274.3 849.8,275.6 849.9,274.8 850.1,269.3 850.2,285.7 850.3,267.3 850.4,309.7 850.5,256.9 850.7,272.1 850.8,289.3 850.9,294.6 851.0,289.1 851.1,297.4 851.3,296.1 851.4,293.4 851.5,297.2 851.6,293.1 851.7,288.9 851.9,286.4 852.0,297.0 852.1,284.2 852.2,293.8 852.3,304.9 852.5,293.4 852.6,302.6 852.7,285.2 852.8,290.2 852.9,293.6 853.1,291.5 853.2,293.9 853.3,303.0 853.4,284.7 853.5,281.5 853.7,294.9 853.8,276.1 853.9,290.9 854.0,305.1 854.1,291.9 854.3,297.7 854.4,295.4 854.5,301.9 854.6,295.3 854.7,292.1 854.9,252.8 855.0,282.1 855.1,294.8 855.2,286.8 855.3,282.8 855.5,300.6 855.6,281.4 855.7,290.0 855.8,299.8 855.9,287.9 856.1,294.8 856.2,291.9 856.3,281.1 856.4,287.4 856.5,286.2 856.6,285.4 856.8,305.2 856.9,293.7 857.0,287.2 857.1,277.7 857.2,289.4 857.4,308.3 857.5,290.8 857.6,300.8 857.7,298.2 857.8,286.3 858.0,281.6 858.1,298.4 858.2,274.4 858.3,298.5 858.4,280.7 858.6,304.5 858.7,293.0 858.8,298.1 858.9,310.7 859.0,289.6 859.2,302.7 859.3,298.2 859.4,305.0 859.5,306.5 859.6,302.4 859.8,300.4 859.9,294.2 860.0,303.9 860.1,295.7 860.2,299.0 860.4,301.1 860.5,283.8 860.6,287.4 860.7,300.9 860.8,299.6 861.0,313.8 861.1,276.3 861.2,305.6 861.3,314.8 861.4,304.7 861.6,312.6 861.7,304.9 861.8,302.7 861.9,312.6 862.0,287.0 862.2,276.7 862.3,307.5 862.4,304.7 862.5,303.4 862.6,305.0 862.7,307.4 862.9,296.2 863.0,306.6 863.1,302.6 863.2,287.2 863.3,296.9 863.5,304.7 863.6,294.9 863.7,316.0 863.8,302.2 863.9,314.1 864.1,319.5 864.2,288.7 864.3,287.6 864.4,309.9 864.5,301.0 864.7,308.6 864.8,321.2 864.9,298.0 865.0,312.7 865.1,299.1 865.3,289.9 865.4,300.9 865.5,297.0 865.6,305.0 865.7,298.4 865.9,306.2 866.0,303.0 866.1,283.3 866.2,298.4 866.3,298.5 866.5,311.3 866.6,289.3 866.7,299.6 866.8,294.9 866.9,279.7 867.1,297.4 867.2,309.8 867.3,301.6 867.4,316.5 867.5,312.8 867.7,312.1 867.8,302.5 867.9,306.1 868.0,308.9 868.1,305.2 868.3,289.8 868.4,301.6 868.5,307.2 868.6,315.4 868.7,310.3 868.9,290.4 869.0,307.4 869.1,283.8 869.2,290.8 869.3,287.1 869.4,309.5 869.6,300.6 869.7,298.1 869.8,288.1 869.9,307.6 870.0,293.3 870.2,302.3 870.3,308.6 870.4,294.1 870.5,302.1 870.6,273.9 870.8,299.4 870.9,274.3 871.0,297.3 871.1,298.6 871.2,300.8 871.4,317.8 871.5,265.1 871.6,296.9 871.7,285.8 871.8,295.0 872.0,288.3 872.1,283.0 872.2,278.9 872.3,276.7 872.4,286.0 872.6,266.9 872.7,292.1 872.8,275.6 872.9,287.6 873.0,269.0 873.2,285.6 873.3,278.8 873.4,288.0 873.5,291.7 873.6,273.7 873.8,277.7 873.9,277.9 874.0,286.2 874.1,259.6 874.2,274.6 874.4,267.9 874.5,255.8 874.6,263.3 874.7,261.7 874.8,275.7 875.0,257.1 875.1,271.5 875.2,259.3 875.3,265.2 875.4,244.4 875.6,247.0 875.7,249.9 875.8,239.8 875.9,232.2 876.0,236.8 876.1,235.3 876.3,226.0 876.4,218.2 876.5,214.4 876.6,202.9 876.7,200.1 876.9,190.5 877.0,173.4 877.1,170.4 877.2,158.8 877.3,146.8 877.5,138.0 877.6,129.6 877.7,122.1 877.8,113.0 877.9,102.5 878.1,100.9 878.2,91.4 878.3,95.9 878.4,97.1 878.5,101.2 878.7,102.5 878.8,114.8 878.9,123.4 879.0,130.0 879.1,135.2 879.3,149.9 879.4,156.4 879.5,163.6 879.6,175.1 879.7,193.6 879.9,188.1 880.0,200.6 880.1,210.7 880.2,220.3 880.3,216.2 880.5,220.1 880.6,236.0 880.7,235.7 880.8,245.2 880.9,232.6 881.1,243.9 881.2,253.5 881.3,252.1 881.4,246.2 881.5,258.2 881.7,244.2 881.8,255.1 881.9,267.7 882.0,270.9 882.1,267.1 882.3,269.8 882.4,250.5 882.5,257.9 882.6,271.8 882.7,283.4 882.8,265.9 883.0,252.6 883.1,252.6 883.2,274.0 883.3,272.0 883.4,251.0 883.6,266.5 883.7,280.7 883.8,282.9 883.9,264.0 884.0,268.0 884.2,276.2 884.3,259.2 884.4,251.7 884.5,260.2 884.6,278.0 884.8,276.7 884.9,270.4 885.0,255.8 885.1,248.4 885.2,259.7 885.4,271.2 885.5,283.5 885.6,262.0 885.7,272.5 885.8,254.2 886.0,250.2 886.1,269.8 886.2,259.6 886.3,262.5 886.4,249.6 886.6,282.5 886.7,250.9 886.8,271.4 886.9,256.6 887.0,267.1 887.2,285.8 887.3,275.5 887.4,275.0 887.5,284.7 887.6,280.1 887.8,290.5 887.9,260.0 888.0,289.4 888.1,275.9 888.2,264.6 888.4,281.8 888.5,281.6 888.6,275.4 888.7,284.7 888.8,261.3 889.0,258.4 889.1,269.1 889.2,288.5 889.3,281.8 889.4,276.0 889.5,268.4 889.7,275.3 889.8,285.8 889.9,267.7 890.0,265.7 890.1,274.7 890.3,279.5 890.4,274.6 890.5,286.9 890.6,274.9 890.7,260.1 890.9,246.3 891.0,283.5 891.1,265.7 891.2,269.3 891.3,271.6 891.5,280.2 891.6,277.7 891.7,276.7 891.8,268.8 891.9,264.6 892.1,271.0 892.2,260.1 892.3,271.9 892.4,279.5 892.5,275.0 892.7,269.6 892.8,257.5 892.9,260.1 893.0,261.4 893.1,265.3 893.3,275.0 893.4,278.0 893.5,279.8 893.6,282.9 893.7,260.0 893.9,266.6 894.0,273.9 894.1,276.2 894.2,258.8 894.3,255.7 894.5,276.3 894.6,269.7 894.7,267.7 894.8,260.3 894.9,249.7 895.1,258.7 895.2,262.2 895.3,262.7 895.4,265.1 895.5,254.9 895.7,265.6 895.8,250.7 895.9,259.7 896.0,258.9 896.1,241.9 896.2,248.5 896.4,259.3 896.5,270.6 896.6,273.9 896.7,282.1 896.8,267.2 897.0,263.1 897.1,271.0 897.2,253.0 897.3,259.6 897.4,250.5 897.6,264.9 897.7,257.8 897.8,261.7 897.9,286.0 898.0,278.1 898.2,294.8 898.3,271.7 898.4,265.1 898.5,259.7 898.6,268.3 898.8,250.9 898.9,270.9 899.0,261.0 899.1,252.2 899.2,248.6 899.4,257.6 899.5,261.5 899.6,263.8 899.7,247.6 899.8,268.1 900.0,270.7 900.1,290.0 900.2,270.5 900.3,276.5 900.4,260.2 900.6,268.5 900.7,260.2 900.8,259.7 900.9,275.2 901.0,265.7 901.2,283.1 901.3,268.2 901.4,272.9 901.5,254.6 901.6,259.2 901.8,278.2 901.9,266.3 902.0,289.9 902.1,268.3 902.2,265.7 902.4,297.1 902.5,256.2 902.6,266.5 902.7,277.0 902.8,274.2 902.9,254.6 903.1,292.4 903.2,263.6 903.3,249.1 903.4,277.1 903.5,263.2 903.7,269.9 903.8,277.5 903.9,258.4 904.0,258.8 904.1,263.7 904.3,276.1 904.4,252.3 904.5,280.0 904.6,267.8 904.7,249.3 904.9,262.9 905.0,266.7 905.1,270.1 905.2,265.7 905.3,269.1 905.5,256.1 905.6,267.1 905.7,230.9 905.8,272.3 905.9,263.0 906.1,280.6 906.2,258.3 906.3,255.6 906.4,260.4 906.5,266.7 906.7,259.7 906.8,268.1 906.9,255.6 907.0,266.7 907.1,288.8 907.3,274.0 907.4,269.4 907.5,246.3 907.6,267.1 907.7,271.2 907.9,256.7 908.0,268.2 908.1,232.9 908.2,247.7 908.3,245.3 908.5,260.4 908.6,247.5 908.7,244.8 908.8,270.9 908.9,238.4 909.1,259.1 909.2,265.5 909.3,251.7 909.4,245.6 909.5,255.8 909.6,251.9 909.8,251.0 909.9,260.9 910.0,260.4 910.1,292.4 910.2,272.0 910.4,259.7 910.5,263.9 910.6,276.1 910.7,273.4 910.8,261.4 911.0,254.9 911.1,282.8 911.2,264.8 911.3,267.9 911.4,279.4 911.6,266.7 911.7,278.2 911.8,262.2 911.9,268.6 912.0,263.7 912.2,287.1 912.3,249.5 912.4,262.5 912.5,254.9 912.6,256.5 912.8,249.5 912.9,254.9 913.0,277.9 913.1,281.3 913.2,261.9 913.4,256.3 913.5,264.5 913.6,287.8 913.7,271.4 913.8,250.0 914.0,282.2 914.1,271.4 914.2,281.9 914.3,279.3 914.4,259.9 914.6,282.9 914.7,276.7 914.8,264.3 914.9,245.2 915.0,253.9 915.2,255.4 915.3,275.2 915.4,262.4 915.5,263.9 915.6,263.4 915.8,258.2 915.9,265.5 916.0,261.4 916.1,269.1 916.2,243.5 916.3,261.2 916.5,255.3 916.6,281.0 916.7,275.1 916.8,255.8 916.9,268.1 917.1,239.8 917.2,247.7 917.3,254.6 917.4,259.7 917.5,244.4 917.7,256.7 917.8,270.4 917.9,238.6 918.0,238.1 918.1,231.3 918.3,263.5 918.4,240.9 918.5,250.6 918.6,243.8 918.7,253.1 918.9,251.9 919.0,257.6 919.1,256.7 919.2,270.2 919.3,240.5 919.5,252.0 919.6,248.8 919.7,239.7 919.8,259.2 919.9,267.8 920.1,236.1 920.2,273.2 920.3,247.7 920.4,248.0 920.5,220.9 920.7,246.3 920.8,241.6 920.9,238.9 921.0,248.4 921.1,236.0 921.3,240.6 921.4,231.8 921.5,226.4 921.6,241.6 921.7,246.8 921.9,246.3 922.0,242.3 922.1,233.4 922.2,239.9 922.3,238.6 922.5,226.7 922.6,241.6 922.7,234.0 922.8,224.4 922.9,231.7 923.0,239.3 923.2,246.3 923.3,215.8 923.4,230.9 923.5,240.8 923.6,245.9 923.8,238.4 923.9,225.3 924.0,230.3 924.1,232.8 924.2,222.7 924.4,217.9 924.5,216.3 924.6,250.1 924.7,229.3 924.8,225.0 925.0,233.1 925.1,228.9 925.2,228.0 925.3,229.5 925.4,220.1 925.6,220.8 925.7,228.2 925.8,226.6 925.9,214.1 926.0,231.4 926.2,218.8 926.3,208.7 926.4,223.6 926.5,223.7 926.6,219.1 926.8,208.2 926.9,220.2 927.0,213.8 927.1,211.1 927.2,208.4 927.4,207.2 927.5,214.4 927.6,198.6 927.7,199.8 927.8,200.1 928.0,195.1 928.1,183.7 928.2,183.5 928.3,178.4 928.4,170.5 928.6,171.4 928.7,171.1 928.8,164.6 928.9,163.5 929.0,155.9 929.2,146.9 929.3,145.7 929.4,133.8 929.5,136.9 929.6,127.2 929.7,127.6 929.9,114.5 930.0,110.6 930.1,106.7 930.2,101.9 930.3,94.7 930.5,91.0 930.6,90.5 930.7,84.3 930.8,84.7 930.9,83.9 931.1,75.7 931.2,76.3 931.3,79.8 931.4,78.6 931.5,74.4 931.7,79.3 931.8,83.5 931.9,78.3 932.0,86.5 932.1,91.4 932.3,92.0 932.4,95.7 932.5,103.6 932.6,103.3 932.7,113.9 932.9,121.4 933.0,125.1 933.1,127.4 933.2,142.1 933.3,144.1 933.5,152.4 933.6,154.4 933.7,162.9 933.8,172.5 933.9,170.2 934.1,176.5 934.2,179.8 934.3,194.7 934.4,199.6 934.5,199.4 934.7,208.9 934.8,212.6 934.9,225.2 935.0,215.8 935.1,225.9 935.3,226.9 935.4,243.2 935.5,240.4 935.6,235.8 935.7,247.2 935.8,247.2 936.0,246.0 936.1,257.0 936.2,256.4 936.3,251.8 936.4,257.8 936.6,271.1 936.7,271.9 936.8,266.1 936.9,266.7 937.0,274.5 937.2,272.4 937.3,265.4 937.4,282.1 937.5,274.0 937.6,293.5 937.8,287.8 937.9,290.6 938.0,284.1 938.1,290.8 938.2,284.5 938.4,286.1 938.5,280.4 938.6,301.4 938.7,280.7 938.8,307.2 939.0,298.7 939.1,284.5 939.2,306.5 939.3,302.0 939.4,292.0 939.6,301.7 939.7,294.6 939.8,291.4 939.9,298.0 940.0,299.8 940.2,291.8 940.3,296.3 940.4,304.4 940.5,296.8 940.6,294.7 940.8,287.1 940.9,300.6 941.0,297.8 941.1,301.3 941.2,313.1 941.4,314.8 941.5,308.2 941.6,303.1 941.7,310.4 941.8,312.9 942.0,311.6 942.1,293.1 942.2,309.2 942.3,295.5 942.4,309.7 942.5,310.1 942.7,309.8 942.8,319.9 942.9,309.0 943.0,313.7 943.1,300.2 943.3,308.1 943.4,307.8 943.5,309.7 943.6,308.5 943.7,285.5 943.9,320.4 944.0,321.1 944.1,291.8 944.2,317.5 944.3,325.3 944.5,323.0 944.6,322.3 944.7,310.6 944.8,306.9 944.9,332.7 945.1,317.9 945.2,330.8 945.3,312.2 945.4,324.3 945.5,325.4 945.7,325.8 945.8,305.4 945.9,343.6 946.0,320.6 946.1,315.8 946.3,322.4 946.4,300.0 946.5,331.6 946.6,312.6 946.7,319.7 946.9,320.8 947.0,299.5 947.1,313.1 947.2,328.8 947.3,311.5 947.5,321.1 947.6,329.4 947.7,335.7 947.8,309.5 947.9,329.2 948.1,326.4 948.2,322.4 948.3,325.9 948.4,324.2 948.5,305.8 948.7,321.1 948.8,310.7 948.9,320.4 949.0,314.1 949.1,338.2 949.2,332.6 949.4,328.8 949.5,315.8 949.6,329.0 949.7,314.0 949.8,315.4 950.0,305.2 950.1,331.7 950.2,315.7 950.3,333.1 950.4,335.1 950.6,335.4 950.7,320.7 950.8,341.1 950.9,339.3 951.0,315.7 951.2,332.2 951.3,320.6 951.4,326.3 951.5,340.5 951.6,331.3 951.8,344.4 951.9,332.6 952.0,332.5 952.1,342.0 952.2,337.0 952.4,331.4 952.5,335.9 952.6,335.5 952.7,308.8 952.8,313.8 953.0,324.9 953.1,336.6 953.2,317.5 953.3,309.2 953.4,325.9 953.6,322.1 953.7,341.6 953.8,300.5 953.9,333.8 954.0,331.6 954.2,296.2 954.3,312.5 954.4,318.9 954.5,327.1 954.6,323.0 954.8,327.2 954.9,324.3 955.0,315.5 955.1,343.1 955.2,328.1 955.4,315.6 955.5,329.7 955.6,326.8 955.7,323.3 955.8,322.4 955.9,312.8 956.1,319.3 956.2,318.0 956.3,312.1 956.4,337.3 956.5,334.7 956.7,327.4 956.8,316.3 956.9,319.7 957.0,343.0 957.1,318.1 957.3,337.1 957.4,332.3 957.5,333.8 957.6,323.0 957.7,325.3 957.9,326.7 958.0,312.7 958.1,336.6 958.2,313.2 958.3,323.2 958.5,341.8 958.6,341.3 958.7,320.3 958.8,335.9 958.9,342.7 959.1,311.1 959.2,353.9 959.3,336.0 959.4,324.7 959.5,326.1 959.7,302.9 959.8,334.6 959.9,344.6 960.0,325.1 960.1,345.8 960.3,335.7 960.4,317.9 960.5,337.2 960.6,307.4 960.7,309.4 960.9,336.4 961.0,336.4 961.1,330.3 961.2,325.8 961.3,311.3 961.5,339.9 961.6,330.8 961.7,330.9 961.8,369.0 961.9,334.8 962.1,330.9 962.2,352.0 962.3,334.2 962.4,324.0 962.5,343.6 962.6,326.5 962.8,317.7 962.9,325.3 963.0,329.5 963.1,339.9 963.2,343.3 963.4,317.1 963.5,345.7 963.6,325.5 963.7,328.1 963.8,305.8 964.0,349.6 964.1,338.5 964.2,330.7 964.3,330.3 964.4,342.3 964.6,331.4 964.7,298.7 964.8,332.8 964.9,328.6 965.0,330.4 965.2,328.3 965.3,338.6 965.4,320.1 965.5,351.1 965.6,329.3 965.8,320.9 965.9,328.5 966.0,308.2 966.1,322.5 966.2,317.3 966.4,316.0 966.5,336.9 966.6,330.8 966.7,319.0 966.8,323.3 967.0,336.3 967.1,354.9 967.2,326.2 967.3,324.7 967.4,330.5 967.6,310.3 967.7,323.0 967.8,329.6 967.9,327.4 968.0,327.8 968.2,310.5 968.3,323.6 968.4,338.7 968.5,351.9 968.6,336.5 968.8,320.2 968.9,324.4 969.0,326.9 969.1,353.7 969.2,317.0 969.3,329.1 969.5,312.6 969.6,325.6 969.7,324.7 969.8,339.0 969.9,337.0 970.1,327.6 970.2,321.6 970.3,320.9 970.4,344.1 970.5,325.6 970.7,313.6 970.8,317.0 970.9,326.4 971.0,319.2 971.1,309.4 971.3,337.2 971.4,320.5 971.5,326.8 971.6,329.6 971.7,326.7 971.9,327.4 972.0,300.7 972.1,324.8 972.2,319.8 972.3,317.6 972.5,322.5 972.6,346.5 972.7,339.2 972.8,329.0 972.9,339.9 973.1,320.1 973.2,322.4 973.3,328.8 973.4,334.5 973.5,335.8 973.7,347.3 973.8,326.9 973.9,340.0 974.0,320.7 974.1,331.4 974.3,315.6 974.4,338.3 974.5,319.5 974.6,339.4 974.7,305.5 974.9,345.7 975.0,328.4 975.1,332.1 975.2,331.7 975.3,310.1 975.5,323.1 975.6,326.0 975.7,330.8 975.8,311.8 975.9,322.1 976.0,328.5 976.2,339.3 976.3,332.2 976.4,308.0 976.5,329.3 976.6,337.2 976.8,329.6 976.9,318.3 977.0,312.1 977.1,317.8 977.2,340.7 977.4,314.1 977.5,300.7 977.6,335.2 977.7,317.7 977.8,325.6 978.0,321.3 978.1,339.6 978.2,322.9 978.3,315.3 978.4,313.6 978.6,340.3 978.7,336.7 978.8,317.7 978.9,315.0 979.0,319.0 979.2,328.2 979.3,314.4 979.4,341.0 979.5,328.6 979.6,297.6 979.8,314.5 979.9,320.9 980.0,349.0 980.1,339.7 980.2,324.7 980.4,308.4 980.5,318.1 980.6,319.1 980.7,315.4 980.8,321.8 981.0,326.1 981.1,312.0 981.2,304.1 981.3,318.1 981.4,300.4 981.6,310.0 981.7,324.3 981.8,315.2 981.9,299.5 982.0,312.2 982.2,311.3 982.3,314.2 982.4,322.4 982.5,307.6 982.6,299.0 982.7,329.2 982.9,301.5 983.0,313.9 983.1,312.3 983.2,306.1 983.3,315.5 983.5,314.0 983.6,310.6 983.7,315.7 983.8,302.2 983.9,317.9 984.1,298.9 984.2,319.1 984.3,320.3 984.4,299.8 984.5,330.6 984.7,302.4 984.8,308.8 984.9,300.4 985.0,302.3 985.1,308.1 985.3,300.7 985.4,315.1 985.5,295.3 985.6,303.7 985.7,288.3 985.9,290.2 986.0,299.0 986.1,300.3 986.2,294.2 986.3,302.2 986.5,304.1 986.6,294.4 986.7,301.6 986.8,292.4 986.9,288.3 987.1,293.5 987.2,295.3 987.3,308.0 987.4,300.8 987.5,297.3 987.7,276.3 987.8,285.5 987.9,295.9 988.0,295.9 988.1,289.1 988.3,278.8 988.4,270.4 988.5,271.4 988.6,284.4 988.7,287.2 988.9,296.0 989.0,277.3 989.1,281.9 989.2,273.1 989.3,274.7 989.4,274.1 989.6,267.4 989.7,275.2 989.8,256.9 989.9,263.3 990.0,254.6 990.2,249.4 990.3,252.4 990.4,240.3 990.5,241.0 990.6,235.4 990.8,233.4 990.9,220.8 991.0,220.9 991.1,216.1 991.2,205.8 991.4,197.7 991.5,191.1 991.6,188.1 991.7,179.4 991.8,177.4 992.0,169.1 992.1,162.9 992.2,157.9 992.3,153.2 992.4,149.0 992.6,146.2 992.7,144.3 992.8,140.3 992.9,139.1 993.0,141.4 993.2,142.4 993.3,140.2 993.4,139.3 993.5,147.8 993.6,147.2 993.8,151.6 993.9,156.6 994.0,162.7 994.1,163.2 994.2,174.5 994.4,184.7 994.5,194.9 994.6,194.8 994.7,201.8 994.8,208.4 995.0,209.1 995.1,213.8 995.2,224.5 995.3,232.9 995.4,233.7 995.6,237.7 995.7,240.3 995.8,244.3 995.9,246.1 996.0,258.4 996.1,261.8 996.3,260.9 996.4,267.4 996.5,272.3 996.6,278.3 996.7,285.5 996.9,285.6 997.0,275.4 997.1,278.0 997.2,277.0 997.3,287.1 997.5,290.9 997.6,271.9 997.7,288.0 997.8,299.7 997.9,278.4 998.1,303.3 998.2,300.7 998.3,286.3 998.4,284.0 998.5,309.6 998.7,292.0 998.8,283.0 998.9,294.5 999.0,281.6 999.1,286.3 999.3,311.7 999.4,289.5 999.5,292.3 999.6,281.4 999.7,287.2 999.9,305.2 1000.0,300.3 1000.1,306.4 1000.2,304.1 1000.3,296.9 1000.5,287.9 1000.6,273.3 1000.7,306.6 1000.8,295.4 1000.9,319.7 1001.1,295.8 1001.2,295.6 1001.3,292.6 1001.4,286.5 1001.5,297.9 1001.7,302.6 1001.8,301.9 1001.9,294.7 1002.0,289.5 1002.1,309.4 1002.2,309.5 1002.4,293.9 1002.5,285.5 1002.6,291.9 1002.7,292.4 1002.8,312.4 1003.0,292.1 1003.1,304.2 1003.2,288.1 1003.3,297.8 1003.4,328.0 1003.6,293.0 1003.7,302.4 1003.8,294.6 1003.9,310.8 1004.0,304.1 1004.2,302.3 1004.3,318.5 1004.4,314.6 1004.5,313.8 1004.6,294.6 1004.8,297.7 1004.9,322.9 1005.0,296.1 1005.1,325.0 1005.2,324.5 1005.4,306.6 1005.5,299.3 1005.6,296.5 1005.7,316.9 1005.8,316.7 1006.0,302.5 1006.1,299.9 1006.2,316.0 1006.3,305.4 1006.4,312.0 1006.6,296.6 1006.7,313.1 1006.8,311.9 1006.9,303.7 1007.0,295.3 1007.2,308.0 1007.3,313.7 1007.4,314.2 1007.5,313.4 1007.6,303.9 1007.8,318.8 1007.9,325.2 1008.0,302.4 1008.1,295.1 1008.2,326.1 1008.4,312.5 1008.5,288.7 1008.6,318.7 1008.7,311.0 1008.8,303.3 1008.9,308.9 1009.1,294.5 1009.2,295.5 1009.3,286.5 1009.4,315.8 1009.5,298.3 1009.7,308.5 1009.8,311.3 1009.9,281.5 1010.0,312.3 1010.1,298.3 1010.3,324.3 1010.4,297.0 1010.5,318.1 1010.6,326.7 1010.7,309.9 1010.9,317.9 1011.0,322.2 1011.1,308.0 1011.2,303.8 1011.3,288.3 1011.5,323.7 1011.6,317.0 1011.7,312.9 1011.8,290.8 1011.9,320.3 1012.1,305.6 1012.2,312.5 1012.3,310.4 1012.4,316.0 1012.5,299.4 1012.7,294.4 1012.8,305.3 1012.9,301.0 1013.0,294.5 1013.1,321.0 1013.3,310.2 1013.4,286.2 1013.5,278.7 1013.6,280.6 1013.7,292.0 1013.9,295.2 1014.0,301.9 1014.1,288.6 1014.2,280.5 1014.3,283.3 1014.5,280.3 1014.6,271.1 1014.7,272.9 1014.8,257.0 1014.9,262.3 1015.1,264.7 1015.2,258.7 1015.3,257.9 1015.4,257.9 1015.5,254.3 1015.6,254.2 1015.8,253.5 1015.9,248.7 1016.0,254.0 1016.1,253.4 1016.2,250.1 1016.4,262.3 1016.5,260.5 1016.6,248.5 1016.7,277.1 1016.8,273.5 1017.0,272.1 1017.1,283.8 1017.2,285.2 1017.3,288.6 1017.4,301.1 1017.6,301.1 1017.7,293.0 1017.8,293.4 1017.9,291.5 1018.0,307.4 1018.2,305.6 1018.3,316.7 1018.4,309.1 1018.5,314.6 1018.6,320.6 1018.8,303.2 1018.9,299.7 1019.0,311.3 1019.1,299.5 1019.2,310.8 1019.4,311.9 1019.5,329.5 1019.6,313.6 1019.7,326.4 1019.8,310.6 1020.0,315.0 1020.1,309.7 1020.2,314.3 1020.3,309.6 1020.4,306.2 1020.6,305.7 1020.7,328.4 1020.8,322.3 1020.9,338.8 1021.0,338.1 1021.2,311.7 1021.3,340.9 1021.4,318.1 1021.5,305.0 1021.6,306.7 1021.8,314.1 1021.9,293.6 1022.0,321.5 1022.1,312.4 1022.2,319.8 1022.3,317.1 1022.5,314.3 1022.6,314.5 1022.7,309.6 1022.8,290.4 1022.9,306.4 1023.1,287.1 1023.2,283.1 1023.3,281.9 1023.4,269.8 1023.5,268.7 1023.7,263.4 1023.8,278.4 1023.9,284.4 1024.0,284.0 1024.1,288.1 1024.3,281.0 1024.4,307.5 1024.5,300.4 1024.6,308.1 1024.7,310.8 1024.9,313.8 1025.0,320.0 1025.1,324.4 1025.2,322.5 1025.3,311.0 1025.5,322.4 1025.6,322.8 1025.7,314.5 1025.8,320.6 1025.9,333.1 1026.1,331.8 1026.2,331.1 1026.3,330.7 1026.4,303.8 1026.5,324.6 1026.7,338.0 1026.8,321.5 1026.9,322.8 1027.0,317.2 1027.1,330.3 1027.3,327.8 1027.4,319.0 1027.5,333.4 1027.6,334.3 1027.7,337.0 1027.9,336.5 1028.0,323.5 1028.1,335.2 1028.2,330.3 1028.3,328.7 1028.5,323.6 1028.6,327.7 1028.7,321.0 1028.8,317.8 1028.9,340.3 1029.0,316.4 1029.2,331.2 1029.3,336.1 1029.4,332.9 1029.5,328.0 1029.6,331.1 1029.8,317.8 1029.9,336.9 1030.0,324.0 1030.1,333.7 1030.2,324.6 1030.4,342.7 1030.5,326.4 1030.6,328.4 1030.7,344.7 1030.8,321.3 1031.0,324.3 1031.1,305.0 1031.2,324.2 1031.3,324.6 1031.4,325.1 1031.6,338.8 1031.7,346.1 1031.8,341.5 1031.9,339.8 1032.0,342.7 1032.2,324.8 1032.3,321.2 1032.4,331.2 1032.5,345.1 1032.6,323.9 1032.8,315.3 1032.9,332.9 1033.0,342.4 1033.1,339.8 1033.2,338.2 1033.4,333.1 1033.5,343.9 1033.6,332.9 1033.7,350.4 1033.8,353.7 1034.0,350.3 1034.1,363.7 1034.2,369.9 1034.3,335.6 1034.4,343.1 1034.6,333.3 1034.7,325.5 1034.8,329.8 1034.9,337.6 1035.0,343.4 1035.2,341.1 1035.3,309.6 1035.4,336.8 1035.5,327.0 1035.6,344.9 1035.7,330.1 1035.9,349.6 1036.0,357.6 1036.1,361.4 1036.2,339.3 1036.3,342.4 1036.5,337.7 1036.6,340.5 1036.7,359.3 1036.8,322.0 1036.9,333.1 1037.1,338.0 1037.2,332.8 1037.3,325.1 1037.4,349.6 1037.5,336.2 1037.7,333.8 1037.8,323.2 1037.9,337.6 1038.0,347.0 1038.1,336.9 1038.3,348.6 1038.4,334.6 1038.5,327.9 1038.6,337.6 1038.7,327.7 1038.9,322.2 1039.0,342.5 1039.1,348.1 1039.2,356.2 1039.3,320.6 1039.5,349.1 1039.6,346.4 1039.7,341.0 1039.8,343.8 1039.9,346.7 1040.1,343.9 1040.2,343.1 1040.3,335.3 1040.4,355.7 1040.5,338.6 1040.7,349.9 1040.8,335.6 1040.9,340.7 1041.0,340.6 1041.1,344.6 1041.3,356.3 1041.4,326.2 1041.5,355.4 1041.6,332.7 1041.7,360.0 1041.9,327.4 1042.0,336.2 1042.1,342.4 1042.2,317.8 1042.3,335.1 1042.4,337.6 1042.6,340.5 1042.7,333.4 1042.8,325.4 1042.9,316.6 1043.0,329.9 1043.2,331.8 1043.3,332.5 1043.4,344.3 1043.5,339.8 1043.6,321.6 1043.8,330.2 1043.9,350.8 1044.0,345.7 1044.1,337.4 1044.2,333.8 1044.4,345.3 1044.5,325.1 1044.6,326.8 1044.7,344.8 1044.8,314.7 1045.0,347.4 1045.1,331.3 1045.2,341.6 1045.3,331.9 1045.4,313.8 1045.6,336.6 1045.7,323.1 1045.8,330.2 1045.9,334.6 1046.0,331.6 1046.2,332.8 1046.3,340.1 1046.4,321.3 1046.5,359.8 1046.6,318.8 1046.8,333.1 1046.9,335.1 1047.0,330.0 1047.1,343.2 1047.2,328.2 1047.4,334.4 1047.5,363.4 1047.6,331.3 1047.7,361.6 1047.8,319.7 1048.0,341.2 1048.1,340.6 1048.2,343.1 1048.3,310.8 1048.4,312.5 1048.6,341.4 1048.7,347.2 1048.8,344.3 1048.9,328.3 1049.0,338.5 1049.1,336.5 1049.3,326.9 1049.4,352.3 1049.5,327.4 1049.6,321.8 1049.7,331.1 1049.9,324.5 1050.0,333.7 1050.1,320.5 1050.2,320.2 1050.3,325.3 1050.5,345.4 1050.6,330.9 1050.7,351.8 1050.8,351.4 1050.9,328.8 1051.1,330.1 1051.2,349.0 1051.3,331.5 1051.4,332.4 1051.5,354.7 1051.7,347.2 1051.8,341.0 1051.9,316.7 1052.0,335.9 1052.1,314.7 1052.3,334.6 1052.4,335.1 1052.5,350.2 1052.6,316.6 1052.7,331.2 1052.9,333.8 1053.0,337.4 1053.1,340.8 1053.2,347.2 1053.3,339.9 1053.5,330.7 1053.6,333.9 1053.7,347.3 1053.8,328.9 1053.9,309.0 1054.1,313.8 1054.2,317.7 1054.3,313.5 1054.4,328.0 1054.5,324.9 1054.7,306.1 1054.8,314.2 1054.9,328.8 1055.0,329.0 1055.1,326.4 1055.3,350.4 1055.4,320.4 1055.5,341.9 1055.6,331.9 1055.7,305.7 1055.8,314.6 1056.0,326.3 1056.1,316.0 1056.2,320.9 1056.3,322.0 1056.4,327.3 1056.6,320.1 1056.7,332.5 1056.8,321.3 1056.9,314.6 1057.0,319.6 1057.2,309.2 1057.3,329.9 1057.4,304.9 1057.5,313.9 1057.6,316.2 1057.8,324.2 1057.9,331.3 1058.0,306.3 1058.1,315.1 1058.2,313.0 1058.4,309.8 1058.5,300.3 1058.6,318.1 1058.7,299.3 1058.8,332.4 1059.0,326.7 1059.1,329.8 1059.2,336.3 1059.3,313.3 1059.4,307.8 1059.6,293.1 1059.7,326.2 1059.8,322.8 1059.9,308.4 1060.0,303.1 1060.2,321.1 1060.3,320.3 1060.4,306.7 1060.5,334.2 1060.6,311.8 1060.8,323.0 1060.9,295.6 1061.0,302.4 1061.1,313.9 1061.2,298.1 1061.4,327.4 1061.5,287.3 1061.6,304.5 1061.7,290.9 1061.8,306.4 1062.0,326.0 1062.1,317.8 1062.2,313.3 1062.3,327.9 1062.4,297.3 1062.5,300.2 1062.7,296.7 1062.8,326.3 1062.9,296.3 1063.0,329.0 1063.1,305.9 1063.3,310.2 1063.4,308.9 1063.5,320.3 1063.6,304.8 1063.7,307.5 1063.9,306.2 1064.0,309.6 1064.1,302.1 1064.2,312.2 1064.3,301.6 1064.5,317.9 1064.6,306.2 1064.7,330.0 1064.8,298.2 1064.9,314.1 1065.1,312.5 1065.2,333.7 1065.3,320.3 1065.4,311.9 1065.5,309.2 1065.7,303.3 1065.8,334.9 1065.9,333.0 1066.0,308.0 1066.1,303.3 1066.3,316.9 1066.4,318.4 1066.5,300.1 1066.6,301.4 1066.7,300.9 1066.9,303.5 1067.0,306.6 1067.1,290.0 1067.2,282.9 1067.3,314.1 1067.5,294.7 1067.6,297.4 1067.7,286.5 1067.8,289.1 1067.9,286.0 1068.1,280.5 1068.2,293.3 1068.3,278.2 1068.4,270.6 1068.5,270.2 1068.7,267.2 1068.8,266.5 1068.9,273.2 1069.0,273.9 1069.1,270.2 1069.2,274.5 1069.4,269.8 1069.5,283.7 1069.6,283.5 1069.7,283.1 1069.8,289.6 1070.0,304.3 1070.1,289.8 1070.2,291.4 1070.3,303.9 1070.4,306.3 1070.6,303.6 1070.7,296.9 1070.8,304.5 1070.9,330.7 1071.0,301.0 1071.2,317.3 1071.3,325.0 1071.4,324.0 1071.5,342.2 1071.6,320.5 1071.8,309.4 1071.9,304.2 1072.0,309.9 1072.1,328.4 1072.2,300.3 1072.4,313.4 1072.5,302.7 1072.6,311.9 1072.7,336.0 1072.8,318.7 1073.0,319.9 1073.1,309.4 1073.2,299.2 1073.3,308.9 1073.4,313.7 1073.6,317.7 1073.7,293.0 1073.8,315.5 1073.9,331.6 1074.0,311.5 1074.2,323.7 1074.3,316.7 1074.4,315.2 1074.5,315.0 1074.6,324.0 1074.8,334.6 1074.9,297.6 1075.0,330.2 1075.1,314.0 1075.2,321.7 1075.3,330.6 1075.5,320.6 1075.6,341.4 1075.7,330.5 1075.8,313.2 1075.9,326.3 1076.1,300.6 1076.2,318.2 1076.3,309.9 1076.4,306.4 1076.5,327.8 1076.7,320.6 1076.8,316.3 1076.9,326.9 1077.0,322.1 1077.1,319.9 1077.3,302.4 1077.4,314.8 1077.5,324.5 1077.6,323.0 1077.7,319.1 1077.9,306.2 1078.0,313.4 1078.1,298.0 1078.2,312.2 1078.3,337.8 1078.5,341.4 1078.6,324.5 1078.7,321.6 1078.8,306.1 1078.9,322.7 1079.1,313.4 1079.2,340.3 1079.3,324.3 1079.4,318.1 1079.5,305.4 1079.7,334.2 1079.8,320.0 1079.9,337.7 1080.0,323.1 1080.1,314.1 1080.3,322.0 1080.4,320.6 1080.5,309.6 1080.6,324.8 1080.7,329.4 1080.9,304.5 1081.0,290.5 1081.1,312.8 1081.2,307.5 1081.3,303.3 1081.5,295.8 1081.6,311.4 1081.7,285.0 1081.8,304.8 1081.9,291.3 1082.0,277.4 1082.2,283.8 1082.3,285.7 1082.4,295.3 1082.5,286.9 1082.6,277.2 1082.8,275.4 1082.9,280.4 1083.0,274.6 1083.1,279.2 1083.2,262.4 1083.4,265.1 1083.5,259.1 1083.6,260.0 1083.7,250.8 1083.8,255.9 1084.0,248.6 1084.1,255.1 1084.2,259.0 1084.3,253.9 1084.4,253.9 1084.6,253.1 1084.7,249.0 1084.8,253.2 1084.9,256.8 1085.0,257.2 1085.2,269.7 1085.3,260.1 1085.4,267.3 1085.5,270.9 1085.6,275.8 1085.8,274.8 1085.9,275.9 1086.0,278.9 1086.1,285.4 1086.2,282.2 1086.4,300.1 1086.5,297.5 1086.6,307.2 1086.7,299.2 1086.8,308.2 1087.0,303.7 1087.1,308.7 1087.2,320.5 1087.3,313.8 1087.4,313.5 1087.6,310.4 1087.7,298.8 1087.8,314.2 1087.9,312.8 1088.0,336.4 1088.2,320.4 1088.3,325.0 1088.4,324.9 1088.5,319.9 1088.6,334.5 1088.7,315.0 1088.9,332.3 1089.0,305.4 1089.1,321.3 1089.2,343.5 1089.3,326.9 1089.5,333.0 1089.6,333.8 1089.7,331.9 1089.8,306.0 1089.9,317.1 1090.1,344.9 1090.2,337.3 1090.3,321.5 1090.4,322.2 1090.5,348.9 1090.7,332.7 1090.8,336.5 1090.9,333.6 1091.0,329.0 1091.1,340.3 1091.3,343.3 1091.4,337.5 1091.5,336.2 1091.6,327.2 1091.7,348.8 1091.9,319.1 1092.0,337.7 1092.1,342.2 1092.2,346.3 1092.3,336.4 1092.5,341.0 1092.6,334.2 1092.7,329.1 1092.8,339.0 1092.9,348.1 1093.1,343.6 1093.2,324.4 1093.3,336.9 1093.4,351.7 1093.5,339.4 1093.7,353.7 1093.8,338.5 1093.9,335.6 1094.0,301.3 1094.1,353.6 1094.3,320.4 1094.4,334.2 1094.5,329.2 1094.6,333.7 1094.7,352.0 1094.9,325.4 1095.0,345.6 1095.1,329.3 1095.2,344.6 1095.3,345.7 1095.4,338.7 1095.6,338.3 1095.7,337.4 1095.8,337.2 1095.9,345.0 1096.0,344.6 1096.2,339.0 1096.3,366.3 1096.4,334.1 1096.5,363.7 1096.6,341.1 1096.8,356.9 1096.9,351.5 1097.0,337.9 1097.1,349.9 1097.2,366.6 1097.4,326.6 1097.5,330.3 1097.6,336.1 1097.7,364.6 1097.8,348.9 1098.0,338.0 1098.1,339.0 1098.2,343.9 1098.3,332.7 1098.4,339.0 1098.6,341.0 1098.7,345.3 1098.8,349.1 1098.9,335.7 1099.0,340.0 1099.2,327.5 1099.3,341.6 1099.4,346.8 1099.5,346.1 1099.6,350.8 1099.8,335.3 1099.9,356.7 1100.0,348.2 1100.1,356.9 1100.2,332.2 1100.4,339.6 1100.5,345.9 1100.6,336.1 1100.7,357.8 1100.8,345.1 1101.0,331.9 1101.1,356.2 1101.2,338.9 1101.3,346.1 1101.4,351.7 1101.6,332.3 1101.7,360.0 1101.8,352.8 1101.9,331.0 1102.0,359.1 1102.1,339.8 1102.3,341.8 1102.4,365.7 1102.5,333.4 1102.6,322.1 1102.7,351.5 1102.9,349.3 1103.0,341.7 1103.1,361.4 1103.2,334.4 1103.3,336.9 1103.5,354.4 1103.6,337.6 1103.7,332.3 1103.8,337.2 1103.9,325.5 1104.1,325.3 1104.2,337.9 1104.3,333.8 1104.4,337.2 1104.5,331.0 1104.7,341.8 1104.8,346.8 1104.9,349.8 1105.0,335.8 1105.1,335.0 1105.3,330.5 1105.4,347.1 1105.5,354.1 1105.6,353.2 1105.7,352.2 1105.9,359.7 1106.0,365.5 1106.1,349.4 1106.2,352.3 1106.3,336.5 1106.5,350.8 1106.6,355.4 1106.7,339.9 1106.8,365.6 1106.9,351.1 1107.1,353.7 1107.2,348.3 1107.3,363.8 1107.4,345.8 1107.5,352.3 1107.7,347.4 1107.8,339.1 1107.9,341.9 1108.0,339.6 1108.1,343.3 1108.3,354.7 1108.4,334.8 1108.5,341.0 1108.6,350.8 1108.7,356.6 1108.8,344.0 1109.0,339.2 1109.1,331.2 1109.2,353.9 1109.3,339.2 1109.4,343.1 1109.6,356.5 1109.7,345.1 1109.8,358.1 1109.9,357.5 1110.0,343.4 1110.2,348.0 1110.3,363.2 1110.4,351.0 1110.5,347.4 1110.6,329.7 1110.8,341.4 1110.9,354.2 1111.0,340.6 1111.1,346.0 1111.2,353.2 1111.4,369.5 1111.5,327.0 1111.6,355.8 1111.7,358.4 1111.8,343.7 1112.0,364.2 1112.1,329.1 1112.2,324.1 1112.3,336.6 1112.4,346.2 1112.6,327.4 1112.7,339.0 1112.8,334.4 1112.9,360.6 1113.0,336.9 1113.2,357.4 1113.3,320.2 1113.4,341.6 1113.5,340.8 1113.6,326.4 1113.8,339.7 1113.9,345.4 1114.0,340.1 1114.1,337.3 1114.2,343.6 1114.4,350.7 1114.5,349.4 1114.6,336.2 1114.7,354.4 1114.8,341.3 1115.0,371.4 1115.1,343.7 1115.2,347.5 1115.3,335.9 1115.4,362.0 1115.5,342.3 1115.7,349.3 1115.8,354.8 1115.9,340.3 1116.0,346.0 1116.1,338.2 1116.3,335.2 1116.4,331.1 1116.5,323.4 1116.6,332.0 1116.7,321.5 1116.9,351.3 1117.0,333.2 1117.1,372.6 1117.2,342.6 1117.3,338.3 1117.5,360.2 1117.6,348.5 1117.7,343.9 1117.8,343.3 1117.9,363.7 1118.1,338.5 1118.2,333.2 1118.3,347.0 1118.4,353.3 1118.5,327.0 1118.7,335.4 1118.8,338.2 1118.9,341.6 1119.0,346.2 1119.1,323.8 1119.3,338.9 1119.4,320.4 1119.5,346.1 1119.6,336.0 1119.7,349.1 1119.9,356.7 1120.0,346.5 1120.1,343.3 1120.2,337.9 1120.3,342.6 1120.5,354.3 1120.6,355.9 1120.7,366.6 1120.8,339.9 1120.9,337.2 1121.1,367.7 1121.2,347.8 1121.3,336.1 1121.4,359.7 1121.5,343.3 1121.7,339.0 1121.8,332.5 1121.9,355.4 1122.0,355.1 1122.1,365.3 1122.2,348.6 1122.4,345.8 1122.5,350.8 1122.6,351.7 1122.7,347.5 1122.8,336.9 1123.0,337.7 1123.1,348.8 1123.2,346.0 1123.3,370.3 1123.4,354.8 1123.6,349.0 1123.7,342.0 1123.8,356.4 1123.9,346.5 1124.0,357.2 1124.2,345.8 1124.3,354.9 1124.4,344.1 1124.5,353.6 1124.6,359.5 1124.8,341.9 1124.9,362.3 1125.0,348.9 1125.1,373.8 1125.2,363.9 1125.4,359.1 1125.5,356.5 1125.6,364.6 1125.7,339.7 1125.8,354.8 1126.0,341.5 1126.1,345.9 1126.2,348.8 1126.3,355.9 1126.4,338.0 1126.6,335.6 1126.7,328.8 1126.8,352.7 1126.9,338.4 1127.0,351.6 1127.2,355.6 1127.3,356.2 1127.4,322.9 1127.5,346.6 1127.6,345.4 1127.8,334.6 1127.9,325.5 1128.0,345.9 1128.1,366.3 1128.2,327.5 1128.4,339.5 1128.5,347.7 1128.6,317.7 1128.7,365.1 1128.8,338.0 1128.9,357.1 1129.1,375.7 1129.2,347.3 1129.3,332.8 1129.4,343.6 1129.5,339.1 1129.7,349.7 1129.8,332.9 1129.9,355.1 1130.0,335.8 1130.1,376.0 1130.3,326.8 1130.4,348.7 1130.5,327.6 1130.6,355.7 1130.7,344.4 1130.9,324.5 1131.0,333.8 1131.1,336.5 1131.2,329.8 1131.3,342.1 1131.5,330.5 1131.6,340.6 1131.7,345.5 1131.8,340.6 1131.9,336.0 1132.1,336.9 1132.2,346.8 1132.3,333.7 1132.4,336.4 1132.5,312.5 1132.7,328.0 1132.8,342.0 1132.9,334.8 1133.0,336.8 1133.1,338.5 1133.3,353.3 1133.4,330.7 1133.5,317.4 1133.6,348.4 1133.7,337.4 1133.9,327.9 1134.0,321.8 1134.1,313.9 1134.2,326.1 1134.3,334.6 1134.5,350.8 1134.6,331.7 1134.7,333.7 1134.8,329.4 1134.9,322.5 1135.1,339.8 1135.2,337.8 1135.3,333.1 1135.4,345.7 1135.5,318.7 1135.6,333.7 1135.8,328.4 1135.9,337.8 1136.0,319.3 1136.1,321.3 1136.2,320.4 1136.4,327.6 1136.5,319.8 1136.6,320.1 1136.7,315.6 1136.8,318.6 1137.0,332.0 1137.1,315.5 1137.2,334.4 1137.3,345.3 1137.4,343.2 1137.6,332.1 1137.7,332.8 1137.8,336.3 1137.9,330.7 1138.0,327.7 1138.2,326.9 1138.3,316.6 1138.4,320.3 1138.5,344.2 1138.6,313.6 1138.8,314.2 1138.9,310.4 1139.0,339.1 1139.1,353.5 1139.2,345.5 1139.4,331.3 1139.5,343.5 1139.6,341.0 1139.7,341.6 1139.8,324.1 1140.0,343.1 1140.1,324.9 1140.2,335.5 1140.3,339.4 1140.4,339.4 1140.6,349.6 1140.7,347.1 1140.8,329.0 1140.9,356.0 1141.0,314.7 1141.2,324.4 1141.3,334.8 1141.4,339.9 1141.5,334.8 1141.6,336.0 1141.8,351.9 1141.9,316.9 1142.0,334.5 1142.1,329.8 1142.2,338.6 1142.3,333.0 1142.5,345.7 1142.6,356.1 1142.7,360.8 1142.8,318.0 1142.9,337.6 1143.1,354.2 1143.2,341.9 1143.3,338.4 1143.4,338.9 1143.5,350.4 1143.7,340.9 1143.8,344.0 1143.9,337.9 1144.0,340.4 1144.1,340.9 1144.3,359.4 1144.4,343.2 1144.5,338.8 1144.6,345.7 1144.7,316.8 1144.9,331.1 1145.0,336.6 1145.1,323.1" stroke="#4a84c6" stroke-width="1.8"/><path d="M786.3,280.3 786.4,275.7 786.5,286.0 786.7,291.2 786.8,299.2 786.9,287.9 787.0,278.9 787.1,274.7 787.3,290.4 787.4,300.6 787.5,286.7 787.6,270.1 787.7,272.1 787.9,299.0 788.0,285.7 788.1,265.6 788.2,283.5 788.3,274.5 788.5,279.4 788.6,280.8 788.7,281.0 788.8,293.8 788.9,287.4 789.1,280.7 789.2,290.7 789.3,295.2 789.4,271.6 789.5,286.6 789.6,281.3 789.8,289.0 789.9,277.8 790.0,291.8 790.1,294.1 790.2,289.2 790.4,278.0 790.5,285.7 790.6,277.7 790.7,276.0 790.8,292.1 791.0,276.0 791.1,300.4 791.2,296.6 791.3,264.0 791.4,287.8 791.6,271.5 791.7,284.5 791.8,284.0 791.9,262.7 792.0,279.8 792.2,281.3 792.3,296.4 792.4,274.6 792.5,294.7 792.6,275.1 792.8,282.4 792.9,279.7 793.0,303.5 793.1,291.4 793.2,310.9 793.4,290.5 793.5,294.0 793.6,295.3 793.7,277.4 793.8,284.0 794.0,298.8 794.1,280.4 794.2,287.6 794.3,283.7 794.4,289.1 794.6,280.9 794.7,282.3 794.8,286.7 794.9,286.6 795.0,276.6 795.2,296.3 795.3,273.8 795.4,275.1 795.5,274.6 795.6,300.5 795.8,284.9 795.9,276.8 796.0,275.6 796.1,291.9 796.2,274.2 796.3,271.2 796.5,287.9 796.6,266.5 796.7,274.9 796.8,277.7 796.9,273.4 797.1,279.5 797.2,295.1 797.3,279.5 797.4,272.7 797.5,267.2 797.7,282.7 797.8,280.5 797.9,285.1 798.0,275.8 798.1,273.1 798.3,271.1 798.4,272.5 798.5,280.6 798.6,274.5 798.7,281.8 798.9,302.0 799.0,285.9 799.1,264.0 799.2,300.7 799.3,284.5 799.5,267.5 799.6,286.1 799.7,276.2 799.8,269.9 799.9,269.2 800.1,266.3 800.2,280.4 800.3,293.9 800.4,279.7 800.5,287.7 800.7,303.9 800.8,270.9 800.9,285.1 801.0,277.0 801.1,268.6 801.3,267.3 801.4,277.0 801.5,282.2 801.6,271.2 801.7,277.9 801.9,285.0 802.0,279.2 802.1,286.4 802.2,283.3 802.3,282.8 802.5,297.3 802.6,285.7 802.7,280.2 802.8,289.1 802.9,270.6 803.0,275.0 803.2,287.8 803.3,284.7 803.4,293.0 803.5,277.2 803.6,260.6 803.8,295.8 803.9,289.4 804.0,267.5 804.1,293.9 804.2,278.7 804.4,260.2 804.5,274.2 804.6,274.9 804.7,294.7 804.8,266.7 805.0,273.6 805.1,274.1 805.2,269.7 805.3,263.2 805.4,274.7 805.6,286.1 805.7,282.4 805.8,265.8 805.9,263.4 806.0,277.0 806.2,269.6 806.3,270.7 806.4,258.7 806.5,295.5 806.6,283.0 806.8,263.5 806.9,283.3 807.0,286.3 807.1,247.1 807.2,265.1 807.4,267.1 807.5,279.7 807.6,271.1 807.7,271.1 807.8,272.4 808.0,290.5 808.1,294.7 808.2,265.8 808.3,259.8 808.4,298.7 808.6,260.2 808.7,266.7 808.8,274.6 808.9,278.0 809.0,285.2 809.2,280.5 809.3,266.4 809.4,279.2 809.5,273.9 809.6,289.4 809.7,270.7 809.9,255.8 810.0,257.9 810.1,282.3 810.2,263.1 810.3,247.2 810.5,265.3 810.6,270.8 810.7,280.4 810.8,256.4 810.9,274.6 811.1,274.1 811.2,258.6 811.3,263.9 811.4,285.6 811.5,289.5 811.7,280.4 811.8,273.7 811.9,282.4 812.0,267.9 812.1,266.5 812.3,260.1 812.4,268.6 812.5,266.6 812.6,300.1 812.7,268.7 812.9,283.7 813.0,286.0 813.1,266.6 813.2,280.3 813.3,247.9 813.5,269.7 813.6,279.1 813.7,245.4 813.8,256.1 813.9,279.9 814.1,265.8 814.2,254.6 814.3,261.6 814.4,259.5 814.5,272.3 814.7,270.8 814.8,263.4 814.9,258.4 815.0,265.2 815.1,280.7 815.3,268.3 815.4,270.7 815.5,259.9 815.6,246.7 815.7,251.1 815.9,264.5 816.0,258.7 816.1,250.6 816.2,243.1 816.3,264.6 816.4,260.8 816.6,263.1 816.7,263.0 816.8,269.1 816.9,267.0 817.0,275.2 817.2,274.1 817.3,277.4 817.4,273.0 817.5,263.1 817.6,264.3 817.8,270.5 817.9,261.7 818.0,269.2 818.1,273.2 818.2,248.9 818.4,236.5 818.5,271.2 818.6,258.9 818.7,266.8 818.8,245.8 819.0,282.1 819.1,273.7 819.2,265.8 819.3,262.4 819.4,266.1 819.6,260.8 819.7,261.3 819.8,250.6 819.9,274.2 820.0,256.8 820.2,258.6 820.3,257.9 820.4,233.3 820.5,262.6 820.6,255.4 820.8,256.0 820.9,259.9 821.0,249.0 821.1,269.9 821.2,252.6 821.4,249.9 821.5,250.7 821.6,262.2 821.7,269.6 821.8,254.2 822.0,244.7 822.1,272.9 822.2,250.5 822.3,272.8 822.4,258.1 822.6,252.4 822.7,254.0 822.8,265.7 822.9,269.6 823.0,257.4 823.1,269.3 823.3,282.6 823.4,255.6 823.5,244.2 823.6,245.6 823.7,241.6 823.9,249.0 824.0,248.4 824.1,241.8 824.2,262.4 824.3,229.1 824.5,243.1 824.6,280.7 824.7,270.8 824.8,264.4 824.9,264.6 825.1,279.6 825.2,266.7 825.3,259.8 825.4,242.4 825.5,252.8 825.7,245.7 825.8,243.4 825.9,243.4 826.0,250.7 826.1,249.1 826.3,263.1 826.4,243.0 826.5,256.5 826.6,279.2 826.7,259.7 826.9,270.0 827.0,264.3 827.1,266.9 827.2,259.1 827.3,237.2 827.5,248.6 827.6,246.2 827.7,234.3 827.8,247.9 827.9,239.0 828.1,232.5 828.2,248.6 828.3,246.3 828.4,238.0 828.5,234.2 828.7,238.2 828.8,239.0 828.9,240.6 829.0,245.7 829.1,241.3 829.3,251.5 829.4,253.4 829.5,252.1 829.6,242.0 829.7,242.0 829.8,251.0 830.0,245.1 830.1,243.9 830.2,221.2 830.3,220.8 830.4,245.7 830.6,245.1 830.7,251.8 830.8,244.7 830.9,240.8 831.0,239.1 831.2,224.4 831.3,243.3 831.4,232.3 831.5,238.0 831.6,233.6 831.8,231.5 831.9,233.5 832.0,223.8 832.1,222.2 832.2,216.1 832.4,217.5 832.5,225.5 832.6,212.1 832.7,215.5 832.8,208.1 833.0,202.2 833.1,196.4 833.2,183.2 833.3,183.2 833.4,181.6 833.6,167.5 833.7,163.5 833.8,154.8 833.9,151.9 834.0,140.5 834.2,141.4 834.3,128.5 834.4,118.6 834.5,120.3 834.6,111.4 834.8,103.6 834.9,97.9 835.0,91.2 835.1,87.4 835.2,86.2 835.4,84.7 835.5,84.4 835.6,83.4 835.7,83.8 835.8,86.7 836.0,93.2 836.1,98.1 836.2,100.0 836.3,104.6 836.4,115.5 836.5,120.8 836.7,128.4 836.8,130.3 836.9,141.2 837.0,147.7 837.1,158.0 837.3,159.1 837.4,176.6 837.5,179.9 837.6,187.7 837.7,187.1 837.9,197.2 838.0,208.7 838.1,200.6 838.2,214.4 838.3,220.7 838.5,217.0 838.6,228.0 838.7,225.5 838.8,238.1 838.9,236.5 839.1,237.8 839.2,252.5 839.3,246.4 839.4,253.7 839.5,237.1 839.7,240.4 839.8,254.0 839.9,254.8 840.0,248.6 840.1,257.4 840.3,241.8 840.4,253.7 840.5,244.2 840.6,257.4 840.7,251.7 840.9,251.9 841.0,258.5 841.1,277.6 841.2,252.7 841.3,258.2 841.5,274.6 841.6,259.8 841.7,281.0 841.8,266.5 841.9,263.2 842.1,265.0 842.2,278.7 842.3,268.3 842.4,270.0 842.5,267.3 842.7,251.8 842.8,259.8 842.9,286.1 843.0,279.7 843.1,276.2 843.2,278.1 843.4,266.6 843.5,273.3 843.6,261.6 843.7,274.2 843.8,263.9 844.0,271.5 844.1,275.7 844.2,268.8 844.3,281.3 844.4,278.6 844.6,276.8 844.7,289.5 844.8,259.0 844.9,257.8 845.0,280.3 845.2,284.4 845.3,297.3 845.4,287.2 845.5,287.1 845.6,269.5 845.8,291.1 845.9,292.8 846.0,273.1 846.1,275.5 846.2,282.1 846.4,287.6 846.5,252.6 846.6,283.0 846.7,284.6 846.8,282.2 847.0,287.3 847.1,289.6 847.2,271.4 847.3,286.7 847.4,280.2 847.6,270.8 847.7,284.6 847.8,297.1 847.9,268.1 848.0,267.8 848.2,267.9 848.3,306.1 848.4,283.6 848.5,284.7 848.6,277.3 848.8,275.5 848.9,264.6 849.0,290.2 849.1,290.3 849.2,263.9 849.4,273.9 849.5,276.4 849.6,282.4 849.7,284.1 849.8,292.9 849.9,294.4 850.1,293.4 850.2,297.2 850.3,269.9 850.4,276.7 850.5,296.6 850.7,288.1 850.8,287.7 850.9,266.8 851.0,265.2 851.1,294.5 851.3,289.7 851.4,281.6 851.5,278.7 851.6,262.9 851.7,285.1 851.9,294.8 852.0,300.7 852.1,285.0 852.2,283.0 852.3,274.8 852.5,299.5 852.6,304.1 852.7,278.7 852.8,288.9 852.9,288.4 853.1,281.3 853.2,259.3 853.3,284.1 853.4,296.3 853.5,274.8 853.7,281.8 853.8,252.4 853.9,300.4 854.0,293.7 854.1,287.7 854.3,282.9 854.4,278.8 854.5,283.6 854.6,281.7 854.7,282.3 854.9,283.9 855.0,286.9 855.1,302.2 855.2,268.6 855.3,288.1 855.5,278.7 855.6,274.2 855.7,260.7 855.8,292.4 855.9,276.1 856.1,279.8 856.2,291.2 856.3,275.4 856.4,288.2 856.5,288.1 856.6,298.3 856.8,300.6 856.9,281.0 857.0,300.6 857.1,290.9 857.2,291.1 857.4,286.8 857.5,297.4 857.6,275.4 857.7,293.7 857.8,304.7 858.0,288.5 858.1,315.6 858.2,286.3 858.3,295.7 858.4,289.6 858.6,287.0 858.7,283.8 858.8,291.1 858.9,293.8 859.0,285.7 859.2,303.3 859.3,311.1 859.4,278.0 859.5,301.9 859.6,294.6 859.8,298.2 859.9,322.3 860.0,311.7 860.1,303.1 860.2,302.3 860.4,277.3 860.5,308.9 860.6,291.5 860.7,302.2 860.8,299.2 861.0,306.5 861.1,318.2 861.2,307.5 861.3,311.6 861.4,295.0 861.6,301.9 861.7,304.9 861.8,282.7 861.9,318.0 862.0,289.4 862.2,282.2 862.3,313.7 862.4,320.3 862.5,290.0 862.6,288.5 862.7,330.5 862.9,297.7 863.0,275.6 863.1,292.3 863.2,322.1 863.3,309.0 863.5,312.4 863.6,318.9 863.7,312.5 863.8,303.6 863.9,289.5 864.1,308.3 864.2,290.6 864.3,300.7 864.4,317.4 864.5,305.4 864.7,301.7 864.8,299.6 864.9,307.5 865.0,309.6 865.1,287.4 865.3,303.7 865.4,318.2 865.5,304.7 865.6,289.6 865.7,291.1 865.9,277.7 866.0,290.9 866.1,316.0 866.2,300.1 866.3,292.2 866.5,296.1 866.6,300.9 866.7,299.4 866.8,295.9 866.9,290.6 867.1,304.8 867.2,314.9 867.3,291.4 867.4,290.9 867.5,309.6 867.7,282.8 867.8,292.9 867.9,294.2 868.0,298.8 868.1,294.9 868.3,290.5 868.4,304.7 868.5,286.4 868.6,280.9 868.7,276.7 868.9,307.1 869.0,279.0 869.1,299.9 869.2,299.2 869.3,300.9 869.4,287.8 869.6,283.3 869.7,290.3 869.8,281.5 869.9,274.3 870.0,301.5 870.2,277.6 870.3,307.1 870.4,295.8 870.5,283.8 870.6,293.2 870.8,299.6 870.9,273.2 871.0,279.0 871.1,276.6 871.2,288.8 871.4,290.2 871.5,287.6 871.6,278.5 871.7,279.5 871.8,294.9 872.0,292.7 872.1,281.5 872.2,266.6 872.3,283.5 872.4,278.0 872.6,276.0 872.7,291.3 872.8,282.1 872.9,262.9 873.0,261.4 873.2,285.0 873.3,275.4 873.4,282.7 873.5,272.5 873.6,263.9 873.8,274.7 873.9,286.6 874.0,272.8 874.1,258.3 874.2,263.8 874.4,260.8 874.5,265.8 874.6,272.3 874.7,277.6 874.8,263.7 875.0,256.5 875.1,258.9 875.2,256.0 875.3,249.6 875.4,250.9 875.6,248.6 875.7,237.0 875.8,244.7 875.9,235.9 876.0,228.0 876.1,231.8 876.3,221.4 876.4,225.3 876.5,212.7 876.6,202.9 876.7,191.0 876.9,183.6 877.0,178.6 877.1,162.9 877.2,157.2 877.3,138.4 877.5,134.7 877.6,126.5 877.7,116.3 877.8,107.4 877.9,103.2 878.1,94.3 878.2,91.3 878.3,93.1 878.4,96.6 878.5,98.3 878.7,102.0 878.8,110.3 878.9,119.1 879.0,124.2 879.1,128.5 879.3,143.2 879.4,151.6 879.5,165.0 879.6,171.6 879.7,180.7 879.9,193.2 880.0,200.1 880.1,205.7 880.2,220.2 880.3,213.4 880.5,218.4 880.6,233.4 880.7,223.6 880.8,223.6 880.9,247.6 881.1,243.7 881.2,249.0 881.3,252.5 881.4,255.6 881.5,246.9 881.7,252.9 881.8,243.6 881.9,254.5 882.0,257.3 882.1,251.6 882.3,261.8 882.4,280.3 882.5,243.9 882.6,263.7 882.7,265.7 882.8,266.1 883.0,248.8 883.1,269.5 883.2,266.0 883.3,258.1 883.4,258.0 883.6,264.0 883.7,272.2 883.8,274.2 883.9,289.1 884.0,265.3 884.2,276.6 884.3,265.4 884.4,278.6 884.5,271.7 884.6,264.2 884.8,256.8 884.9,261.2 885.0,268.8 885.1,281.0 885.2,276.6 885.4,257.0 885.5,265.2 885.6,271.1 885.7,268.1 885.8,272.7 886.0,282.4 886.1,274.0 886.2,263.5 886.3,248.5 886.4,264.0 886.6,250.9 886.7,267.1 886.8,271.4 886.9,254.5 887.0,266.4 887.2,262.5 887.3,287.3 887.4,271.5 887.5,247.3 887.6,270.1 887.8,269.7 887.9,263.9 888.0,265.3 888.1,276.2 888.2,275.7 888.4,270.0 888.5,256.2 888.6,262.4 888.7,249.7 888.8,248.9 889.0,260.4 889.1,257.0 889.2,265.2 889.3,293.3 889.4,273.5 889.5,257.3 889.7,243.2 889.8,258.0 889.9,252.3 890.0,243.7 890.1,277.3 890.3,262.2 890.4,271.3 890.5,300.6 890.6,266.2 890.7,263.5 890.9,266.8 891.0,259.5 891.1,254.0 891.2,259.5 891.3,272.8 891.5,259.6 891.6,246.7 891.7,248.6 891.8,251.7 891.9,264.0 892.1,271.3 892.2,272.2 892.3,280.2 892.4,266.5 892.5,277.0 892.7,270.6 892.8,275.5 892.9,246.6 893.0,279.9 893.1,247.8 893.3,253.9 893.4,274.5 893.5,264.4 893.6,286.2 893.7,270.2 893.9,254.2 894.0,267.3 894.1,259.4 894.2,279.8 894.3,278.3 894.5,268.5 894.6,255.4 894.7,263.0 894.8,271.8 894.9,251.2 895.1,251.4 895.2,267.9 895.3,267.6 895.4,256.4 895.5,254.5 895.7,238.6 895.8,274.1 895.9,257.9 896.0,242.1 896.1,242.5 896.2,244.2 896.4,272.5 896.5,262.2 896.6,239.0 896.7,274.8 896.8,271.9 897.0,248.2 897.1,233.0 897.2,271.8 897.3,255.5 897.4,259.6 897.6,254.9 897.7,273.7 897.8,278.7 897.9,270.5 898.0,261.1 898.2,263.7 898.3,268.7 898.4,245.3 898.5,277.2 898.6,258.3 898.8,265.1 898.9,264.2 899.0,272.6 899.1,275.0 899.2,286.8 899.4,257.4 899.5,251.8 899.6,263.9 899.7,253.9 899.8,270.1 900.0,250.5 900.1,259.9 900.2,268.8 900.3,270.6 900.4,262.3 900.6,276.9 900.7,276.6 900.8,246.7 900.9,271.0 901.0,271.3 901.2,264.9 901.3,262.3 901.4,267.7 901.5,270.4 901.6,269.4 901.8,279.7 901.9,275.8 902.0,259.8 902.1,257.4 902.2,275.7 902.4,260.9 902.5,269.3 902.6,275.3 902.7,280.7 902.8,274.0 902.9,282.3 903.1,260.7 903.2,270.5 903.3,258.1 903.4,266.3 903.5,265.7 903.7,255.5 903.8,239.2 903.9,279.2 904.0,273.6 904.1,269.9 904.3,260.9 904.4,263.1 904.5,269.7 904.6,262.9 904.7,277.1 904.9,265.4 905.0,254.2 905.1,268.3 905.2,254.5 905.3,265.3 905.5,244.1 905.6,256.9 905.7,267.3 905.8,254.9 905.9,261.0 906.1,266.5 906.2,259.1 906.3,276.3 906.4,253.1 906.5,253.7 906.7,253.7 906.8,233.1 906.9,237.6 907.0,259.5 907.1,252.6 907.3,271.3 907.4,255.6 907.5,255.4 907.6,269.6 907.7,261.5 907.9,277.5 908.0,247.3 908.1,264.0 908.2,266.3 908.3,264.3 908.5,271.7 908.6,270.8 908.7,257.2 908.8,251.6 908.9,267.0 909.1,256.7 909.2,266.0 909.3,267.5 909.4,256.0 909.5,245.7 909.6,252.8 909.8,264.1 909.9,253.3 910.0,269.3 910.1,260.2 910.2,261.4 910.4,253.0 910.5,257.8 910.6,272.1 910.7,255.6 910.8,255.3 911.0,249.8 911.1,267.2 911.2,241.6 911.3,251.9 911.4,265.2 911.6,271.9 911.7,253.4 911.8,263.8 911.9,233.8 912.0,264.7 912.2,258.0 912.3,243.0 912.4,237.6 912.5,253.0 912.6,263.4 912.8,261.7 912.9,261.1 913.0,270.4 913.1,272.8 913.2,252.4 913.4,263.0 913.5,263.3 913.6,281.2 913.7,264.8 913.8,279.0 914.0,265.9 914.1,287.7 914.2,262.6 914.3,261.9 914.4,259.6 914.6,260.3 914.7,285.2 914.8,255.6 914.9,253.5 915.0,260.7 915.2,269.2 915.3,251.8 915.4,271.6 915.5,270.3 915.6,259.8 915.8,257.9 915.9,251.2 916.0,256.0 916.1,249.1 916.2,268.9 916.3,275.1 916.5,254.4 916.6,254.6 916.7,231.9 916.8,246.5 916.9,257.7 917.1,257.2 917.2,252.7 917.3,260.8 917.4,253.2 917.5,249.6 917.7,270.6 917.8,230.8 917.9,239.4 918.0,245.1 918.1,243.8 918.3,242.6 918.4,248.4 918.5,239.8 918.6,246.1 918.7,251.2 918.9,244.7 919.0,244.3 919.1,234.2 919.2,231.1 919.3,242.5 919.5,256.5 919.6,251.0 919.7,256.5 919.8,256.3 919.9,256.4 920.1,238.0 920.2,258.1 920.3,252.2 920.4,266.3 920.5,252.3 920.7,248.5 920.8,241.9 920.9,243.6 921.0,226.7 921.1,240.3 921.3,242.0 921.4,251.0 921.5,235.4 921.6,245.3 921.7,260.7 921.9,236.7 922.0,249.2 922.1,233.4 922.2,237.5 922.3,241.6 922.5,244.4 922.6,231.4 922.7,224.7 922.8,248.7 922.9,236.1 923.0,241.8 923.2,241.7 923.3,238.1 923.4,228.6 923.5,227.6 923.6,213.7 923.8,229.1 923.9,222.7 924.0,226.7 924.1,243.6 924.2,230.1 924.4,226.4 924.5,213.0 924.6,230.1 924.7,234.6 924.8,215.4 925.0,224.2 925.1,216.3 925.2,219.3 925.3,217.6 925.4,207.9 925.6,216.9 925.7,206.3 925.8,229.4 925.9,226.3 926.0,217.5 926.2,219.0 926.3,216.3 926.4,215.4 926.5,215.7 926.6,210.5 926.8,209.4 926.9,201.6 927.0,202.5 927.1,202.1 927.2,205.1 927.4,199.3 927.5,207.8 927.6,195.0 927.7,191.6 927.8,191.6 928.0,192.7 928.1,193.9 928.2,186.5 928.3,177.3 928.4,175.6 928.6,175.3 928.7,169.0 928.8,166.4 928.9,157.8 929.0,158.5 929.2,153.4 929.3,147.8 929.4,140.7 929.5,130.2 929.6,126.0 929.7,125.9 929.9,122.0 930.0,108.2 930.1,109.8 930.2,108.9 930.3,104.1 930.5,96.3 930.6,94.8 930.7,90.0 930.8,86.7 930.9,86.8 931.1,84.5 931.2,79.8 931.3,78.1 931.4,77.7 931.5,77.9 931.7,84.5 931.8,87.0 931.9,86.1 932.0,90.7 932.1,90.4 932.3,95.7 932.4,102.0 932.5,105.5 932.6,109.9 932.7,111.9 932.9,118.0 933.0,126.8 933.1,132.3 933.2,140.1 933.3,144.5 933.5,151.5 933.6,158.1 933.7,165.4 933.8,170.2 933.9,174.0 934.1,180.2 934.2,190.3 934.3,192.2 934.4,194.8 934.5,199.5 934.7,209.7 934.8,215.7 934.9,222.8 935.0,219.6 935.1,232.1 935.3,228.0 935.4,233.4 935.5,235.7 935.6,244.6 935.7,251.5 935.8,249.9 936.0,248.7 936.1,244.2 936.2,257.0 936.3,254.6 936.4,257.6 936.6,257.9 936.7,257.8 936.8,264.1 936.9,273.6 937.0,276.9 937.2,271.9 937.3,276.2 937.4,272.1 937.5,274.8 937.6,266.3 937.8,283.6 937.9,284.1 938.0,292.5 938.1,276.8 938.2,285.3 938.4,275.1 938.5,284.5 938.6,283.8 938.7,289.6 938.8,284.9 939.0,289.8 939.1,280.9 939.2,293.4 939.3,286.3 939.4,285.5 939.6,291.5 939.7,295.1 939.8,282.5 939.9,281.5 940.0,297.2 940.2,294.8 940.3,275.1 940.4,279.5 940.5,288.2 940.6,299.6 940.8,298.3 940.9,306.6 941.0,309.7 941.1,324.8 941.2,289.2 941.4,302.1 941.5,314.7 941.6,292.2 941.7,289.8 941.8,306.0 942.0,313.5 942.1,314.3 942.2,285.2 942.3,289.5 942.4,299.9 942.5,296.2 942.7,304.8 942.8,301.9 942.9,319.9 943.0,301.4 943.1,304.2 943.3,304.6 943.4,315.5 943.5,294.1 943.6,311.6 943.7,299.0 943.9,293.0 944.0,318.6 944.1,313.8 944.2,324.1 944.3,311.7 944.5,314.6 944.6,310.4 944.7,315.7 944.8,306.6 944.9,329.3 945.1,303.0 945.2,332.1 945.3,312.4 945.4,322.8 945.5,314.4 945.7,318.0 945.8,327.5 945.9,312.5 946.0,297.9 946.1,313.1 946.3,319.1 946.4,286.4 946.5,322.1 946.6,323.0 946.7,295.0 946.9,314.0 947.0,324.4 947.1,302.7 947.2,310.1 947.3,309.4 947.5,320.1 947.6,324.4 947.7,313.5 947.8,314.6 947.9,324.7 948.1,323.4 948.2,318.1 948.3,332.1 948.4,304.6 948.5,320.4 948.7,315.1 948.8,312.3 948.9,317.2 949.0,317.5 949.1,343.0 949.2,323.7 949.4,320.4 949.5,332.5 949.6,330.0 949.7,302.4 949.8,322.0 950.0,331.5 950.1,316.8 950.2,327.2 950.3,321.5 950.4,326.9 950.6,304.0 950.7,299.8 950.8,312.3 950.9,322.4 951.0,335.6 951.2,318.1 951.3,316.0 951.4,335.0 951.5,326.2 951.6,344.3 951.8,323.7 951.9,301.7 952.0,311.4 952.1,309.0 952.2,303.1 952.4,309.9 952.5,314.0 952.6,318.8 952.7,317.5 952.8,328.6 953.0,327.2 953.1,326.3 953.2,326.5 953.3,302.3 953.4,303.4 953.6,311.7 953.7,324.1 953.8,304.8 953.9,314.2 954.0,321.5 954.2,342.0 954.3,323.5 954.4,315.1 954.5,333.2 954.6,327.3 954.8,322.5 954.9,338.6 955.0,315.6 955.1,328.4 955.2,326.4 955.4,332.1 955.5,308.8 955.6,306.2 955.7,315.7 955.8,317.1 955.9,322.2 956.1,316.8 956.2,325.6 956.3,328.6 956.4,325.6 956.5,312.1 956.7,333.8 956.8,301.7 956.9,316.2 957.0,332.9 957.1,316.2 957.3,335.5 957.4,342.1 957.5,340.3 957.6,329.7 957.7,333.4 957.9,314.7 958.0,324.9 958.1,327.6 958.2,323.0 958.3,323.6 958.5,318.3 958.6,303.2 958.7,327.5 958.8,326.8 958.9,344.3 959.1,330.8 959.2,323.0 959.3,334.3 959.4,333.2 959.5,327.1 959.7,323.7 959.8,312.1 959.9,328.2 960.0,344.8 960.1,308.0 960.3,315.8 960.4,334.0 960.5,330.0 960.6,331.8 960.7,307.1 960.9,319.8 961.0,331.3 961.1,332.9 961.2,328.5 961.3,311.5 961.5,327.3 961.6,310.1 961.7,313.6 961.8,309.8 961.9,334.7 962.1,315.2 962.2,322.0 962.3,298.2 962.4,334.2 962.5,328.0 962.6,305.9 962.8,309.6 962.9,344.1 963.0,318.0 963.1,347.1 963.2,320.4 963.4,298.5 963.5,337.1 963.6,331.3 963.7,333.7 963.8,320.1 964.0,324.6 964.1,338.0 964.2,318.9 964.3,308.7 964.4,335.3 964.6,317.6 964.7,337.3 964.8,318.5 964.9,320.4 965.0,322.4 965.2,297.4 965.3,336.1 965.4,319.1 965.5,324.9 965.6,340.7 965.8,325.9 965.9,335.7 966.0,329.5 966.1,335.9 966.2,328.7 966.4,337.9 966.5,322.7 966.6,328.8 966.7,316.5 966.8,337.0 967.0,302.3 967.1,330.2 967.2,333.0 967.3,333.7 967.4,328.4 967.6,340.7 967.7,350.1 967.8,319.1 967.9,302.7 968.0,308.8 968.2,315.1 968.3,321.6 968.4,323.1 968.5,333.9 968.6,319.6 968.8,325.9 968.9,327.6 969.0,313.8 969.1,321.5 969.2,353.9 969.3,323.8 969.5,314.1 969.6,300.3 969.7,334.9 969.8,321.5 969.9,319.0 970.1,351.7 970.2,340.5 970.3,306.9 970.4,320.4 970.5,336.7 970.7,334.2 970.8,310.5 970.9,341.3 971.0,343.1 971.1,310.8 971.3,305.0 971.4,306.0 971.5,327.8 971.6,333.7 971.7,323.7 971.9,314.0 972.0,317.9 972.1,323.6 972.2,304.4 972.3,298.9 972.5,317.5 972.6,332.6 972.7,322.6 972.8,323.4 972.9,314.2 973.1,332.8 973.2,306.0 973.3,321.7 973.4,314.1 973.5,316.1 973.7,309.6 973.8,326.3 973.9,316.3 974.0,307.3 974.1,320.3 974.3,314.5 974.4,311.2 974.5,307.6 974.6,322.7 974.7,306.9 974.9,314.9 975.0,314.1 975.1,321.9 975.2,315.6 975.3,342.7 975.5,302.2 975.6,325.0 975.7,319.8 975.8,332.4 975.9,302.7 976.0,333.5 976.2,303.5 976.3,325.0 976.4,324.0 976.5,319.6 976.6,312.1 976.8,311.5 976.9,322.7 977.0,314.8 977.1,303.1 977.2,305.6 977.4,332.3 977.5,330.6 977.6,324.7 977.7,318.3 977.8,322.1 978.0,321.7 978.1,318.5 978.2,307.7 978.3,307.9 978.4,306.1 978.6,318.7 978.7,307.5 978.8,316.6 978.9,331.9 979.0,313.1 979.2,328.4 979.3,335.0 979.4,300.0 979.5,303.3 979.6,323.4 979.8,307.1 979.9,320.2 980.0,321.9 980.1,306.3 980.2,320.7 980.4,328.7 980.5,321.6 980.6,305.3 980.7,313.2 980.8,307.6 981.0,331.5 981.1,312.8 981.2,309.3 981.3,315.8 981.4,318.8 981.6,309.7 981.7,312.9 981.8,307.7 981.9,314.8 982.0,317.9 982.2,310.0 982.3,303.8 982.4,311.3 982.5,299.5 982.6,323.4 982.7,313.5 982.9,309.5 983.0,279.6 983.1,330.7 983.2,322.8 983.3,320.0 983.5,308.6 983.6,316.3 983.7,339.7 983.8,304.0 983.9,316.9 984.1,313.2 984.2,307.4 984.3,306.9 984.4,290.4 984.5,309.4 984.7,288.3 984.8,322.8 984.9,310.9 985.0,293.2 985.1,282.5 985.3,306.2 985.4,307.0 985.5,290.4 985.6,313.4 985.7,299.8 985.9,295.9 986.0,283.9 986.1,297.6 986.2,297.0 986.3,305.9 986.5,311.4 986.6,300.9 986.7,303.2 986.8,313.1 986.9,306.2 987.1,297.6 987.2,305.1 987.3,293.3 987.4,302.6 987.5,297.7 987.7,286.6 987.8,299.0 987.9,293.6 988.0,297.6 988.1,280.1 988.3,297.9 988.4,296.4 988.5,283.5 988.6,283.6 988.7,284.1 988.9,280.0 989.0,283.0 989.1,270.0 989.2,265.3 989.3,268.7 989.4,278.2 989.6,259.7 989.7,254.1 989.8,251.1 989.9,253.8 990.0,255.1 990.2,242.2 990.3,243.5 990.4,239.5 990.5,236.1 990.6,230.5 990.8,229.9 990.9,223.7 991.0,212.5 991.1,217.5 991.2,198.6 991.4,193.3 991.5,194.5 991.6,185.5 991.7,177.9 991.8,173.7 992.0,169.7 992.1,161.3 992.2,155.3 992.3,149.4 992.4,145.4 992.6,141.5 992.7,143.2 992.8,138.5 992.9,137.2 993.0,134.1 993.2,139.0 993.3,134.1 993.4,141.2 993.5,144.7 993.6,145.4 993.8,148.5 993.9,156.9 994.0,158.3 994.1,163.6 994.2,171.7 994.4,173.9 994.5,182.6 994.6,195.8 994.7,193.8 994.8,204.0 995.0,202.7 995.1,212.6 995.2,216.7 995.3,222.3 995.4,231.6 995.6,242.9 995.7,237.8 995.8,248.8 995.9,248.6 996.0,254.3 996.1,250.8 996.3,252.3 996.4,260.3 996.5,260.2 996.6,268.5 996.7,263.9 996.9,273.7 997.0,277.5 997.1,291.7 997.2,291.5 997.3,283.0 997.5,275.5 997.6,284.4 997.7,286.3 997.8,279.4 997.9,273.2 998.1,265.3 998.2,280.4 998.3,299.5 998.4,280.9 998.5,286.2 998.7,287.2 998.8,288.9 998.9,292.2 999.0,270.2 999.1,285.5 999.3,290.6 999.4,287.0 999.5,298.4 999.6,284.0 999.7,297.3 999.9,305.1 1000.0,286.1 1000.1,290.8 1000.2,287.7 1000.3,298.5 1000.5,270.0 1000.6,275.4 1000.7,288.0 1000.8,300.2 1000.9,296.4 1001.1,282.6 1001.2,308.3 1001.3,295.1 1001.4,287.8 1001.5,298.4 1001.7,306.3 1001.8,294.3 1001.9,280.0 1002.0,287.9 1002.1,292.1 1002.2,302.3 1002.4,281.8 1002.5,297.9 1002.6,282.6 1002.7,295.6 1002.8,284.2 1003.0,294.8 1003.1,286.3 1003.2,292.4 1003.3,283.9 1003.4,280.1 1003.6,317.4 1003.7,316.0 1003.8,310.6 1003.9,299.9 1004.0,320.3 1004.2,303.9 1004.3,312.6 1004.4,319.3 1004.5,312.2 1004.6,323.9 1004.8,304.2 1004.9,304.9 1005.0,307.1 1005.1,292.3 1005.2,294.1 1005.4,309.8 1005.5,283.5 1005.6,318.2 1005.7,308.9 1005.8,319.8 1006.0,315.9 1006.1,311.6 1006.2,324.9 1006.3,306.0 1006.4,303.0 1006.6,317.5 1006.7,296.2 1006.8,313.2 1006.9,309.4 1007.0,298.5 1007.2,290.0 1007.3,283.1 1007.4,322.5 1007.5,285.6 1007.6,290.7 1007.8,313.9 1007.9,308.1 1008.0,305.9 1008.1,302.9 1008.2,298.1 1008.4,293.6 1008.5,296.2 1008.6,308.1 1008.7,312.9 1008.8,313.2 1008.9,301.8 1009.1,277.6 1009.2,308.8 1009.3,300.9 1009.4,275.0 1009.5,321.5 1009.7,310.5 1009.8,307.9 1009.9,311.3 1010.0,307.9 1010.1,307.9 1010.3,309.2 1010.4,305.0 1010.5,310.9 1010.6,308.7 1010.7,330.0 1010.9,310.3 1011.0,304.4 1011.1,302.8 1011.2,314.0 1011.3,310.5 1011.5,311.6 1011.6,307.5 1011.7,306.1 1011.8,316.1 1011.9,319.3 1012.1,309.5 1012.2,302.6 1012.3,292.8 1012.4,293.2 1012.5,304.3 1012.7,300.4 1012.8,302.8 1012.9,290.4 1013.0,299.7 1013.1,281.2 1013.3,284.2 1013.4,286.0 1013.5,296.0 1013.6,284.5 1013.7,281.5 1013.9,290.3 1014.0,285.2 1014.1,292.3 1014.2,285.8 1014.3,281.5 1014.5,274.4 1014.6,276.5 1014.7,264.5 1014.8,257.3 1014.9,266.2 1015.1,256.5 1015.2,256.7 1015.3,258.4 1015.4,257.2 1015.5,237.4 1015.6,244.5 1015.8,254.9 1015.9,242.1 1016.0,252.6 1016.1,249.5 1016.2,249.9 1016.4,255.8 1016.5,251.2 1016.6,264.5 1016.7,270.6 1016.8,260.3 1017.0,268.0 1017.1,283.3 1017.2,281.6 1017.3,280.9 1017.4,296.2 1017.6,277.9 1017.7,291.2 1017.8,295.2 1017.9,293.5 1018.0,304.4 1018.2,283.2 1018.3,298.4 1018.4,292.5 1018.5,308.8 1018.6,310.6 1018.8,293.6 1018.9,290.9 1019.0,305.3 1019.1,299.5 1019.2,303.3 1019.4,316.2 1019.5,306.6 1019.6,333.0 1019.7,317.7 1019.8,311.2 1020.0,305.7 1020.1,311.7 1020.2,328.5 1020.3,324.7 1020.4,333.1 1020.6,332.7 1020.7,323.8 1020.8,311.2 1020.9,317.0 1021.0,320.4 1021.2,301.9 1021.3,320.0 1021.4,303.8 1021.5,313.9 1021.6,307.0 1021.8,320.4 1021.9,339.1 1022.0,300.3 1022.1,313.5 1022.2,331.5 1022.3,300.8 1022.5,304.6 1022.6,302.2 1022.7,301.9 1022.8,283.3 1022.9,292.5 1023.1,288.9 1023.2,296.6 1023.3,277.0 1023.4,269.1 1023.5,271.1 1023.7,256.6 1023.8,275.4 1023.9,287.1 1024.0,281.4 1024.1,287.5 1024.3,291.2 1024.4,298.9 1024.5,291.6 1024.6,315.8 1024.7,302.7 1024.9,307.6 1025.0,329.2 1025.1,315.9 1025.2,316.5 1025.3,338.2 1025.5,325.9 1025.6,333.0 1025.7,313.9 1025.8,299.5 1025.9,320.1 1026.1,330.4 1026.2,311.5 1026.3,320.5 1026.4,325.1 1026.5,322.7 1026.7,323.1 1026.8,331.1 1026.9,326.9 1027.0,321.1 1027.1,338.6 1027.3,335.1 1027.4,331.4 1027.5,335.4 1027.6,297.4 1027.7,326.9 1027.9,325.6 1028.0,303.7 1028.1,347.4 1028.2,327.9 1028.3,317.5 1028.5,320.2 1028.6,326.1 1028.7,320.8 1028.8,304.2 1028.9,316.5 1029.0,327.9 1029.2,331.6 1029.3,334.4 1029.4,315.1 1029.5,320.1 1029.6,331.0 1029.8,322.7 1029.9,331.6 1030.0,321.1 1030.1,338.1 1030.2,332.8 1030.4,337.8 1030.5,330.5 1030.6,321.4 1030.7,317.5 1030.8,330.2 1031.0,321.5 1031.1,312.9 1031.2,323.0 1031.3,339.2 1031.4,343.3 1031.6,338.4 1031.7,342.0 1031.8,323.2 1031.9,326.0 1032.0,315.6 1032.2,317.1 1032.3,342.0 1032.4,328.2 1032.5,332.9 1032.6,355.0 1032.8,347.2 1032.9,319.5 1033.0,341.9 1033.1,324.5 1033.2,341.9 1033.4,311.3 1033.5,320.0 1033.6,319.2 1033.7,351.9 1033.8,309.7 1034.0,341.0 1034.1,343.1 1034.2,331.9 1034.3,339.3 1034.4,360.5 1034.6,334.3 1034.7,331.2 1034.8,347.2 1034.9,340.1 1035.0,319.9 1035.2,336.6 1035.3,336.6 1035.4,321.3 1035.5,322.5 1035.6,328.6 1035.7,323.3 1035.9,343.2 1036.0,341.1 1036.1,312.3 1036.2,331.3 1036.3,336.3 1036.5,319.3 1036.6,332.4 1036.7,337.1 1036.8,315.3 1036.9,332.2 1037.1,311.1 1037.2,345.7 1037.3,328.5 1037.4,320.0 1037.5,316.9 1037.7,317.5 1037.8,347.6 1037.9,324.3 1038.0,327.7 1038.1,330.9 1038.3,318.4 1038.4,342.8 1038.5,307.7 1038.6,345.1 1038.7,325.6 1038.9,333.2 1039.0,335.0 1039.1,341.5 1039.2,318.6 1039.3,338.3 1039.5,331.3 1039.6,333.0 1039.7,330.3 1039.8,346.0 1039.9,335.9 1040.1,344.2 1040.2,342.7 1040.3,311.7 1040.4,331.1 1040.5,343.8 1040.7,322.2 1040.8,315.4 1040.9,309.1 1041.0,353.9 1041.1,324.3 1041.3,337.7 1041.4,325.3 1041.5,342.3 1041.6,354.0 1041.7,321.2 1041.9,336.2 1042.0,327.6 1042.1,313.3 1042.2,321.8 1042.3,329.8 1042.4,344.9 1042.6,345.2 1042.7,332.5 1042.8,314.9 1042.9,338.7 1043.0,332.3 1043.2,335.2 1043.3,323.7 1043.4,332.1 1043.5,354.8 1043.6,349.8 1043.8,349.9 1043.9,342.2 1044.0,330.6 1044.1,334.1 1044.2,339.0 1044.4,340.6 1044.5,331.6 1044.6,325.3 1044.7,348.5 1044.8,329.7 1045.0,342.5 1045.1,328.4 1045.2,338.1 1045.3,335.5 1045.4,337.8 1045.6,337.3 1045.7,321.3 1045.8,317.3 1045.9,333.4 1046.0,352.0 1046.2,324.8 1046.3,324.1 1046.4,356.1 1046.5,314.3 1046.6,323.8 1046.8,324.2 1046.9,321.4 1047.0,322.5 1047.1,339.7 1047.2,331.9 1047.4,331.9 1047.5,311.7 1047.6,339.8 1047.7,331.3 1047.8,330.0 1048.0,339.2 1048.1,333.3 1048.2,328.4 1048.3,334.4 1048.4,322.2 1048.6,321.4 1048.7,317.8 1048.8,342.3 1048.9,324.3 1049.0,334.1 1049.1,343.4 1049.3,347.9 1049.4,323.8 1049.5,329.6 1049.6,328.8 1049.7,314.0 1049.9,322.0 1050.0,356.1 1050.1,326.2 1050.2,345.1 1050.3,332.0 1050.5,343.2 1050.6,337.9 1050.7,325.3 1050.8,311.4 1050.9,342.2 1051.1,334.1 1051.2,334.0 1051.3,336.2 1051.4,321.3 1051.5,332.9 1051.7,328.8 1051.8,313.0 1051.9,316.6 1052.0,328.0 1052.1,308.4 1052.3,338.7 1052.4,336.9 1052.5,329.8 1052.6,331.5 1052.7,309.8 1052.9,330.3 1053.0,334.3 1053.1,332.0 1053.2,337.3 1053.3,327.5 1053.5,349.2 1053.6,331.5 1053.7,333.9 1053.8,338.1 1053.9,316.3 1054.1,311.4 1054.2,330.6 1054.3,308.9 1054.4,315.4 1054.5,333.4 1054.7,310.0 1054.8,310.2 1054.9,309.6 1055.0,312.0 1055.1,344.8 1055.3,331.8 1055.4,337.0 1055.5,303.9 1055.6,300.2 1055.7,311.0 1055.8,333.2 1056.0,334.6 1056.1,297.0 1056.2,297.9 1056.3,323.0 1056.4,317.8 1056.6,320.0 1056.7,323.0 1056.8,303.5 1056.9,319.4 1057.0,317.8 1057.2,334.5 1057.3,316.4 1057.4,300.0 1057.5,333.3 1057.6,338.6 1057.8,327.0 1057.9,311.4 1058.0,306.7 1058.1,326.9 1058.2,310.6 1058.4,322.3 1058.5,324.2 1058.6,314.1 1058.7,292.1 1058.8,317.6 1059.0,302.6 1059.1,293.9 1059.2,309.4 1059.3,312.4 1059.4,309.0 1059.6,313.9 1059.7,287.3 1059.8,313.8 1059.9,327.3 1060.0,308.4 1060.2,302.4 1060.3,307.3 1060.4,325.6 1060.5,308.1 1060.6,301.8 1060.8,290.8 1060.9,325.2 1061.0,326.9 1061.1,310.3 1061.2,331.8 1061.4,306.0 1061.5,319.0 1061.6,297.6 1061.7,300.7 1061.8,310.7 1062.0,315.3 1062.1,318.1 1062.2,300.6 1062.3,303.0 1062.4,307.7 1062.5,307.4 1062.7,308.8 1062.8,320.0 1062.9,324.6 1063.0,293.3 1063.1,328.1 1063.3,316.4 1063.4,316.8 1063.5,317.7 1063.6,324.5 1063.7,322.1 1063.9,296.7 1064.0,322.2 1064.1,300.5 1064.2,314.5 1064.3,311.6 1064.5,294.7 1064.6,308.2 1064.7,305.0 1064.8,301.8 1064.9,329.0 1065.1,309.4 1065.2,304.4 1065.3,325.4 1065.4,309.5 1065.5,309.9 1065.7,288.8 1065.8,316.9 1065.9,323.3 1066.0,331.1 1066.1,299.5 1066.3,318.0 1066.4,319.5 1066.5,310.2 1066.6,302.4 1066.7,284.9 1066.9,300.0 1067.0,292.0 1067.1,280.5 1067.2,299.2 1067.3,291.4 1067.5,289.0 1067.6,303.6 1067.7,281.9 1067.8,268.3 1067.9,265.0 1068.1,280.7 1068.2,273.3 1068.3,266.8 1068.4,256.5 1068.5,262.5 1068.7,259.4 1068.8,264.5 1068.9,260.2 1069.0,260.9 1069.1,266.7 1069.2,264.0 1069.4,273.6 1069.5,254.3 1069.6,269.6 1069.7,288.1 1069.8,285.4 1070.0,278.7 1070.1,289.0 1070.2,288.5 1070.3,293.7 1070.4,311.0 1070.6,298.6 1070.7,304.6 1070.8,297.8 1070.9,298.2 1071.0,291.5 1071.2,299.7 1071.3,303.4 1071.4,302.8 1071.5,308.1 1071.6,308.5 1071.8,316.2 1071.9,306.5 1072.0,323.1 1072.1,317.1 1072.2,326.7 1072.4,312.2 1072.5,327.4 1072.6,315.3 1072.7,296.8 1072.8,314.2 1073.0,312.6 1073.1,298.9 1073.2,304.5 1073.3,307.5 1073.4,340.2 1073.6,319.3 1073.7,336.3 1073.8,327.8 1073.9,330.4 1074.0,324.9 1074.2,299.2 1074.3,326.6 1074.4,301.1 1074.5,316.0 1074.6,309.4 1074.8,327.9 1074.9,322.9 1075.0,331.5 1075.1,317.1 1075.2,311.8 1075.3,319.4 1075.5,337.1 1075.6,315.6 1075.7,313.0 1075.8,300.0 1075.9,305.3 1076.1,312.4 1076.2,321.3 1076.3,322.1 1076.4,316.0 1076.5,317.1 1076.7,331.3 1076.8,334.1 1076.9,327.4 1077.0,329.9 1077.1,326.2 1077.3,331.5 1077.4,299.1 1077.5,305.6 1077.6,314.3 1077.7,316.0 1077.9,328.4 1078.0,292.2 1078.1,312.6 1078.2,312.9 1078.3,305.0 1078.5,310.4 1078.6,323.8 1078.7,318.6 1078.8,312.1 1078.9,317.6 1079.1,315.7 1079.2,326.6 1079.3,317.0 1079.4,326.1 1079.5,308.7 1079.7,314.8 1079.8,301.9 1079.9,309.9 1080.0,318.5 1080.1,300.3 1080.3,306.3 1080.4,308.7 1080.5,304.3 1080.6,314.0 1080.7,294.2 1080.9,310.9 1081.0,313.9 1081.1,314.8 1081.2,301.2 1081.3,295.4 1081.5,289.2 1081.6,304.9 1081.7,303.4 1081.8,297.6 1081.9,295.7 1082.0,296.2 1082.2,287.5 1082.3,277.7 1082.4,275.5 1082.5,277.1 1082.6,274.2 1082.8,267.5 1082.9,270.6 1083.0,264.5 1083.1,270.4 1083.2,264.4 1083.4,265.6 1083.5,253.3 1083.6,252.7 1083.7,247.7 1083.8,253.4 1084.0,263.7 1084.1,250.9 1084.2,247.7 1084.3,250.4 1084.4,250.4 1084.6,255.9 1084.7,253.6 1084.8,251.3 1084.9,248.7 1085.0,261.4 1085.2,267.1 1085.3,267.1 1085.4,265.1 1085.5,270.1 1085.6,274.3 1085.8,281.6 1085.9,280.9 1086.0,289.5 1086.1,282.8 1086.2,284.9 1086.4,302.2 1086.5,287.9 1086.6,292.9 1086.7,315.4 1086.8,307.0 1087.0,320.5 1087.1,290.3 1087.2,321.3 1087.3,312.0 1087.4,314.8 1087.6,318.6 1087.7,293.5 1087.8,310.8 1087.9,323.2 1088.0,347.3 1088.2,312.9 1088.3,341.7 1088.4,326.3 1088.5,328.7 1088.6,309.2 1088.7,324.6 1088.9,313.4 1089.0,311.0 1089.1,335.9 1089.2,317.4 1089.3,320.8 1089.5,333.0 1089.6,319.4 1089.7,313.3 1089.8,330.6 1089.9,330.7 1090.1,346.0 1090.2,319.1 1090.3,339.7 1090.4,339.5 1090.5,327.8 1090.7,329.6 1090.8,330.7 1090.9,317.1 1091.0,313.3 1091.1,334.2 1091.3,312.3 1091.4,313.4 1091.5,333.6 1091.6,321.6 1091.7,322.6 1091.9,312.6 1092.0,316.2 1092.1,316.6 1092.2,315.7 1092.3,344.0 1092.5,319.2 1092.6,305.4 1092.7,318.2 1092.8,336.7 1092.9,316.1 1093.1,329.0 1093.2,319.5 1093.3,312.1 1093.4,325.6 1093.5,320.2 1093.7,333.0 1093.8,340.9 1093.9,332.3 1094.0,360.4 1094.1,321.6 1094.3,348.9 1094.4,339.4 1094.5,351.1 1094.6,340.1 1094.7,310.8 1094.9,334.4 1095.0,347.2 1095.1,336.5 1095.2,324.2 1095.3,330.7 1095.4,340.4 1095.6,351.7 1095.7,330.1 1095.8,337.2 1095.9,324.4 1096.0,321.2 1096.2,330.4 1096.3,353.9 1096.4,346.1 1096.5,334.0 1096.6,336.1 1096.8,343.1 1096.9,337.2 1097.0,335.0 1097.1,333.3 1097.2,342.6 1097.4,332.1 1097.5,347.1 1097.6,317.0 1097.7,327.7 1097.8,331.3 1098.0,343.4 1098.1,329.1 1098.2,337.2 1098.3,344.6 1098.4,343.7 1098.6,334.7 1098.7,337.1 1098.8,330.2 1098.9,347.6 1099.0,342.7 1099.2,347.9 1099.3,360.2 1099.4,350.9 1099.5,342.9 1099.6,337.5 1099.8,361.9 1099.9,338.5 1100.0,333.3 1100.1,351.1 1100.2,343.4 1100.4,335.4 1100.5,341.2 1100.6,358.0 1100.7,339.9 1100.8,344.6 1101.0,331.0 1101.1,334.5 1101.2,352.5 1101.3,344.3 1101.4,345.0 1101.6,356.0 1101.7,340.7 1101.8,361.9 1101.9,338.7 1102.0,333.7 1102.1,332.5 1102.3,328.2 1102.4,349.9 1102.5,343.3 1102.6,355.8 1102.7,333.9 1102.9,351.3 1103.0,356.9 1103.1,341.3 1103.2,340.9 1103.3,315.4 1103.5,365.3 1103.6,342.6 1103.7,350.9 1103.8,338.3 1103.9,344.2 1104.1,329.1 1104.2,349.2 1104.3,340.5 1104.4,336.9 1104.5,345.2 1104.7,321.0 1104.8,341.5 1104.9,335.1 1105.0,355.0 1105.1,348.3 1105.3,336.8 1105.4,335.6 1105.5,370.1 1105.6,330.4 1105.7,361.2 1105.9,352.3 1106.0,349.8 1106.1,319.7 1106.2,349.3 1106.3,336.5 1106.5,331.7 1106.6,348.0 1106.7,334.0 1106.8,348.7 1106.9,335.7 1107.1,350.4 1107.2,348.8 1107.3,335.0 1107.4,333.7 1107.5,335.7 1107.7,335.4 1107.8,333.2 1107.9,362.0 1108.0,346.0 1108.1,338.3 1108.3,338.5 1108.4,331.1 1108.5,345.8 1108.6,340.7 1108.7,335.8 1108.8,336.3 1109.0,337.5 1109.1,329.9 1109.2,344.5 1109.3,331.7 1109.4,346.7 1109.6,334.5 1109.7,340.4 1109.8,329.1 1109.9,314.5 1110.0,319.2 1110.2,328.4 1110.3,336.9 1110.4,336.8 1110.5,340.2 1110.6,341.4 1110.8,337.9 1110.9,339.1 1111.0,334.2 1111.1,342.3 1111.2,335.7 1111.4,337.0 1111.5,341.7 1111.6,363.2 1111.7,323.4 1111.8,332.0 1112.0,334.9 1112.1,342.5 1112.2,335.7 1112.3,350.6 1112.4,317.3 1112.6,354.6 1112.7,320.8 1112.8,326.9 1112.9,340.4 1113.0,336.5 1113.2,336.7 1113.3,337.9 1113.4,342.3 1113.5,350.8 1113.6,343.9 1113.8,327.3 1113.9,333.6 1114.0,355.1 1114.1,361.5 1114.2,349.5 1114.4,351.0 1114.5,343.7 1114.6,361.6 1114.7,334.2 1114.8,337.6 1115.0,335.1 1115.1,360.3 1115.2,339.3 1115.3,350.1 1115.4,329.1 1115.5,327.5 1115.7,353.9 1115.8,348.5 1115.9,346.4 1116.0,337.8 1116.1,333.7 1116.3,334.9 1116.4,329.1 1116.5,336.3 1116.6,354.9 1116.7,343.8 1116.9,332.9 1117.0,341.9 1117.1,331.3 1117.2,327.1 1117.3,337.9 1117.5,328.8 1117.6,321.0 1117.7,349.2 1117.8,353.2 1117.9,337.3 1118.1,350.7 1118.2,331.1 1118.3,339.2 1118.4,356.1 1118.5,347.1 1118.7,352.9 1118.8,317.1 1118.9,350.0 1119.0,344.0 1119.1,348.3 1119.3,330.8 1119.4,338.9 1119.5,351.2 1119.6,352.4 1119.7,356.6 1119.9,355.7 1120.0,355.4 1120.1,348.8 1120.2,341.9 1120.3,339.8 1120.5,339.6 1120.6,333.3 1120.7,332.5 1120.8,344.3 1120.9,324.2 1121.1,332.4 1121.2,337.0 1121.3,351.0 1121.4,355.8 1121.5,347.3 1121.7,341.4 1121.8,333.5 1121.9,351.6 1122.0,345.2 1122.1,328.1 1122.2,335.6 1122.4,341.1 1122.5,348.2 1122.6,334.8 1122.7,354.1 1122.8,351.7 1123.0,335.3 1123.1,338.3 1123.2,330.6 1123.3,329.6 1123.4,342.7 1123.6,356.3 1123.7,356.4 1123.8,342.5 1123.9,335.6 1124.0,332.2 1124.2,344.3 1124.3,333.0 1124.4,346.4 1124.5,338.1 1124.6,345.3 1124.8,337.3 1124.9,364.7 1125.0,353.9 1125.1,344.0 1125.2,331.3 1125.4,348.5 1125.5,348.3 1125.6,327.7 1125.7,339.8 1125.8,360.9 1126.0,341.5 1126.1,338.5 1126.2,346.0 1126.3,359.9 1126.4,336.9 1126.6,337.8 1126.7,340.0 1126.8,346.2 1126.9,356.2 1127.0,347.6 1127.2,318.7 1127.3,344.7 1127.4,343.7 1127.5,347.7 1127.6,340.8 1127.8,335.3 1127.9,344.5 1128.0,334.7 1128.1,324.5 1128.2,340.3 1128.4,331.1 1128.5,360.1 1128.6,340.6 1128.7,356.3 1128.8,324.2 1128.9,326.3 1129.1,342.9 1129.2,321.1 1129.3,334.5 1129.4,321.7 1129.5,347.6 1129.7,326.0 1129.8,342.1 1129.9,323.8 1130.0,344.4 1130.1,348.7 1130.3,336.4 1130.4,322.8 1130.5,336.8 1130.6,343.7 1130.7,340.8 1130.9,345.8 1131.0,351.3 1131.1,335.9 1131.2,333.7 1131.3,329.0 1131.5,332.5 1131.6,330.1 1131.7,330.2 1131.8,341.1 1131.9,358.7 1132.1,326.7 1132.2,329.8 1132.3,331.0 1132.4,325.8 1132.5,348.2 1132.7,334.1 1132.8,340.4 1132.9,316.8 1133.0,339.4 1133.1,332.7 1133.3,316.3 1133.4,339.2 1133.5,341.8 1133.6,334.2 1133.7,335.2 1133.9,320.8 1134.0,344.2 1134.1,331.0 1134.2,337.0 1134.3,336.3 1134.5,335.3 1134.6,325.4 1134.7,334.3 1134.8,331.9 1134.9,344.0 1135.1,324.0 1135.2,344.5 1135.3,340.1 1135.4,333.3 1135.5,353.4 1135.6,341.5 1135.8,328.1 1135.9,337.1 1136.0,324.7 1136.1,319.9 1136.2,326.3 1136.4,327.0 1136.5,349.0 1136.6,337.0 1136.7,302.7 1136.8,326.5 1137.0,320.0 1137.1,326.4 1137.2,328.6 1137.3,327.6 1137.4,332.2 1137.6,317.9 1137.7,339.7 1137.8,323.2 1137.9,335.4 1138.0,322.3 1138.2,329.8 1138.3,313.2 1138.4,336.4 1138.5,328.2 1138.6,320.5 1138.8,331.8 1138.9,331.1 1139.0,309.7 1139.1,318.4 1139.2,317.1 1139.4,339.7 1139.5,333.7 1139.6,325.2 1139.7,326.5 1139.8,332.9 1140.0,310.5 1140.1,333.4 1140.2,348.7 1140.3,318.4 1140.4,320.0 1140.6,322.2 1140.7,339.0 1140.8,323.6 1140.9,350.2 1141.0,327.9 1141.2,323.4 1141.3,318.3 1141.4,335.2 1141.5,339.0 1141.6,332.0 1141.8,343.2 1141.9,343.3 1142.0,335.6 1142.1,333.4 1142.2,327.2 1142.3,335.9 1142.5,330.7 1142.6,353.1 1142.7,345.8 1142.8,333.9 1142.9,329.5 1143.1,340.1 1143.2,348.0 1143.3,338.5 1143.4,347.0 1143.5,331.7 1143.7,339.1 1143.8,345.8 1143.9,341.0 1144.0,342.0 1144.1,349.2 1144.3,337.6 1144.4,348.4 1144.5,334.7 1144.6,345.3 1144.7,333.9 1144.9,335.1 1145.0,346.1 1145.1,352.6" stroke="#cc4e48" stroke-width="1.8"/></g>
<text transform="translate(807,62.5) scale(1.0,1.1)" font-size="16" fill="#2a2a2a" text-anchor="start" stroke="#2a2a2a" stroke-width="0.4">RuO<tspan font-size="10" dx="1" dy="2">2</tspan></text>
<text transform="translate(853,86) scale(1.0,1.1)" font-size="16" fill="#2a2a2a" text-anchor="start" stroke="#2a2a2a" stroke-width="0.4">RuO<tspan font-size="10" dx="1" dy="2">2</tspan></text>
<text transform="translate(910.7,62.5) scale(1.0,1.1)" font-size="16" fill="#2a2a2a" text-anchor="start" stroke="#2a2a2a" stroke-width="0.4">RuO<tspan font-size="10" dx="1" dy="2">2</tspan></text>
<text transform="translate(973,118.3) scale(1.0,1.1)" font-size="16" fill="#2a2a2a" text-anchor="start" stroke="#2a2a2a" stroke-width="0.4">RuO<tspan font-size="10" dx="1" dy="2">2</tspan></text>
<text transform="translate(1005.7,229.4) scale(1.0,1.1)" font-size="16" fill="#2a2a2a" text-anchor="start" stroke="#2a2a2a" stroke-width="0.4">RuO<tspan font-size="10" dx="1" dy="2">2</tspan></text>
<text transform="translate(1068.8,234.2) scale(1.0,1.1)" font-size="16" fill="#2a2a2a" text-anchor="start" stroke="#2a2a2a" stroke-width="0.4">RuO<tspan font-size="10" dx="1" dy="2">2</tspan></text>
<line x1="1031.7" y1="82" x2="1049.3" y2="82" stroke="#86a9d6" stroke-width="1.6"/>
<line x1="1031.7" y1="135.2" x2="1050" y2="135.2" stroke="#dc8d8a" stroke-width="1.6"/>
<text transform="translate(1050.3,90.3) scale(1.0,1.0)" font-size="22" fill="#333" text-anchor="start">Untreated RuO<tspan font-size="15" dy="4">2</tspan><tspan dy="-4"> /C</tspan></text>
<text transform="translate(1053,143) scale(0.98,1.0)" font-size="22" fill="#333" text-anchor="start">Acid-treated RuO<tspan font-size="15" dy="4">2</tspan><tspan dy="-4"> /C</tspan></text>
<!-- ============ (c) ============ -->
<g>
  <text transform="translate(27,508.5) scale(1.0,1.12)" font-size="30" fill="#222" text-anchor="start">(c)</text>
  <!-- TEM -->
  <g filter="url(#temn)">
  <rect x="44" y="542" width="344" height="342" fill="#e0e0e0"/>
  <g clip-path="url(#temclip)"><g filter="url(#tdisp)">
    <path filter="url(#b2)" fill="#a2a2a2" d="M104,679 L112,655 L129,630 L162,597 L190,584 L231,584 L257,600 L277,620 L309,644 L338,656 L355,690 L367,731 L363,773 L338,790 L293,806 L282,821 L270,850 L231,855 L217,829 L209,793 L190,782 L150,778 L116,749 L108,712 Z"/>
    <path filter="url(#b3)" fill="#666666" d="M112,680 L119,658 L135,636 L165,606 L192,593 L230,593 L252,608 L272,628 L305,652 L332,665 L347,694 L358,731 L354,767 L333,782 L290,797 L276,816 L263,843 L234,846 L224,825 L216,790 L192,774 L152,770 L123,744 L115,710 Z"/>
    <ellipse cx="230" cy="602" rx="30" ry="14" fill="#727272" filter="url(#b6)"/>
    <ellipse cx="160" cy="733" rx="42" ry="32" fill="#505050" filter="url(#b8)"/>
    <path filter="url(#b8)" fill="#333333" d="M142,636 L165,616 L200,612 L222,626 L240,632 L268,632 L300,648 L320,672 L322,705 L306,730 L280,740 L252,738 L232,722 L215,702 L195,695 L168,690 L146,676 L138,655 Z"/>
    <ellipse cx="183" cy="657" rx="28" ry="24" fill="#2c2c2c" filter="url(#b8)"/>
    <ellipse cx="282" cy="694" rx="34" ry="30" fill="#2c2c2c" filter="url(#b8)"/>
    <ellipse cx="212" cy="724" rx="42" ry="22" fill="#454545" filter="url(#b8)"/>
    <ellipse cx="262" cy="770" rx="15" ry="13" fill="#4c4c4c" filter="url(#b6)"/>
    <ellipse cx="198" cy="687" rx="10" ry="12" fill="#6e6e6e" filter="url(#b3)"/>
    <ellipse cx="338" cy="735" rx="20" ry="40" fill="#808080" filter="url(#b8)"/>
    <ellipse cx="318" cy="775" rx="26" ry="14" fill="#7a7a7a" filter="url(#b6)"/>
    <path filter="url(#b3)" fill="#6a6a6a" d="M213,790 L240,780 L272,782 L284,800 L279,822 L268,842 L262,849 L236,850 L226,842 L220,818 Z"/>
    <ellipse cx="250" cy="815" rx="18" ry="22" fill="#767676" filter="url(#b6)"/>
    <path filter="url(#b2)" fill="none" stroke="#8a8a8a" stroke-width="2" d="M226,793 L248,789 L270,798"/>
  </g></g>
  </g>
  <rect x="44.5" y="542.5" width="343" height="341" fill="none" stroke="#555" stroke-width="1.6"/>
  <line x1="292.5" y1="840.5" x2="381.5" y2="840.5" stroke="#5e5e5e" stroke-width="3.6" stroke-linecap="round"/>
  <text transform="translate(337.5,872.8) scale(0.93,1.06)" font-size="27" font-weight="bold" fill="#e4e4e4" stroke="#3a3a3a" stroke-width="2.6" stroke-linejoin="round" paint-order="stroke" text-anchor="middle" letter-spacing="-0.5">100 nm</text>

  <!-- Ru K -->
  <rect x="470" y="497" width="70" height="28.5" fill="#fff" stroke="#555" stroke-width="1.6"/>
  <text transform="translate(476.1,520.6) scale(1.045,1.09)" font-size="24" fill="#111">Ru K</text>
  <text x="707" y="519.5" font-size="12" font-weight="bold" fill="#555" text-anchor="middle">0</text>
  <rect x="715.5" y="507.5" width="88" height="13" fill="#ff00ff" stroke="#333" stroke-width="1.5"/>
  <line x1="716" y1="503.5" x2="716" y2="524" stroke="#333" stroke-width="1.5"/>
  <line x1="720" y1="503.5" x2="720" y2="524" stroke="#333" stroke-width="1.2"/>
  <text x="815" y="519.5" font-size="12" font-weight="bold" fill="#555" text-anchor="middle">39</text>
  <rect x="469" y="530" width="355" height="357" fill="#000"/>
  <g filter="url(#spkM)">
    <path fill="#fff" fill-opacity="1" d="M586,584 L620,567 L662,563 L700,570 L713,588 L720,610 L729,625 L746,636 L761,641 L782,658 L795,689 L801,723 L797,756 L785,782 L756,797 L729,806 L717,826 L707,844 L678,854 L653,844 L641,813 L633,782 L600,780 L568,773 L546,750 L534,723 L531,699 L536,664 L547,629 L564,603 Z"/>
  </g>
  <line x1="726" y1="841.5" x2="816" y2="841.5" stroke="#ddd" stroke-width="2.4"/>
  <text transform="translate(771,874.6) scale(1,1.18)" font-size="26" fill="#f4f4f4" stroke="#f4f4f4" stroke-width="0.5" text-anchor="middle">100 nm</text>

  <!-- C K -->
  <rect x="878" y="497" width="57" height="28.5" fill="#fff" stroke="#555" stroke-width="1.6"/>
  <text transform="translate(884.6,520.6) scale(1.04,1.09)" font-size="24" fill="#111">C<tspan dx="6">K</tspan></text>
  <text x="1115.3" y="519" font-size="12" font-weight="bold" fill="#555" text-anchor="middle">0</text>
  <rect x="1124.5" y="507.5" width="88.5" height="12.5" fill="#ff0000" stroke="#6a0000" stroke-width="1.5"/>
  <line x1="1125" y1="503.5" x2="1125" y2="524" stroke="#444" stroke-width="1.5"/>
  <text x="1225" y="519" font-size="12" font-weight="bold" fill="#444" text-anchor="middle">12</text>
  <rect x="877" y="530" width="356" height="357" fill="#000"/>
  <g filter="url(#spkC)">
    <path fill="#fff" fill-opacity="0.62" d="M877,765 L915,755 L946,722 L944,690 L950,660 L962,635 L996,608 L1040,582 L1066,568 L1092,580 L1118,602 L1138,629 L1160,652 L1185,642 L1190,600 L1186,530 L1240,530 L1240,895 L870,895 Z"/>
    <ellipse cx="1060" cy="680" rx="80" ry="58" fill="#fff" fill-opacity="0.36"/>
    <path fill="#fff" fill-opacity="0.35" d="M870,770 L965,790 L965,895 L870,895 Z"/>
    <path fill="#fff" fill-opacity="0.45" d="M1120,730 L1240,690 L1240,895 L1120,895 Z"/>
    <rect x="870" y="842" width="370" height="60" fill="#fff" fill-opacity="0.9"/>
  </g>
  <line x1="1135.5" y1="843" x2="1223.5" y2="843" stroke="#ddd" stroke-width="2.4"/>
  <text transform="translate(1180,874.6) scale(1,1.18)" font-size="26" fill="#f4f4f4" stroke="#f4f4f4" stroke-width="0.5" text-anchor="middle">100 nm</text>
</g>
</svg>
</body></html>
